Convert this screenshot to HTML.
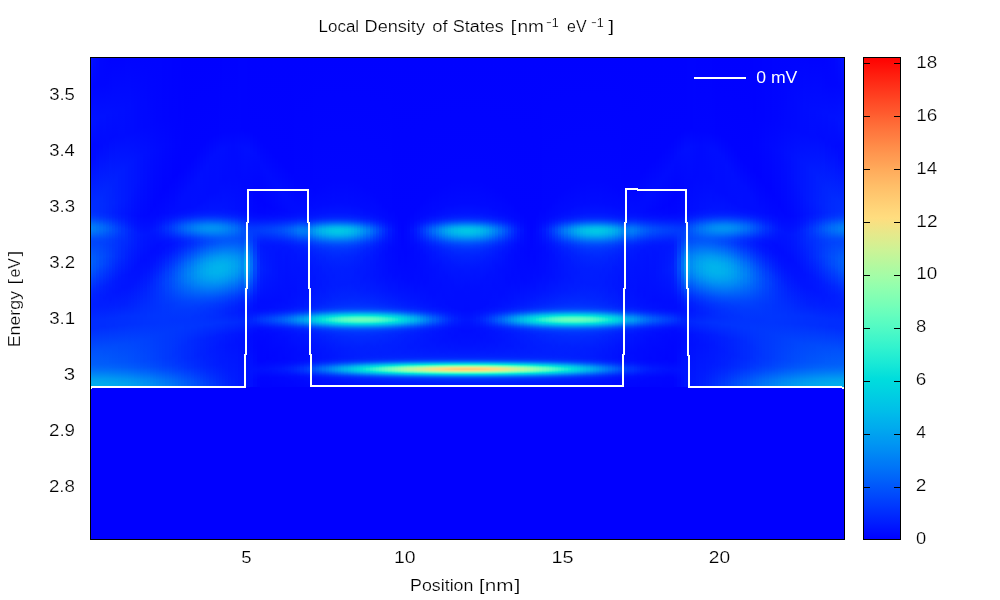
<!DOCTYPE html>
<html><head><meta charset="utf-8"><title>Local Density of States</title>
<style>
html,body{margin:0;padding:0;background:#fff;overflow:hidden}
body{width:1000px;height:600px;position:relative;overflow:hidden;font-family:"Liberation Sans",sans-serif}
#plot{position:absolute;left:90px;top:57px;width:755px;height:483px;background:#0000ff;overflow:hidden}
#heat{position:absolute;left:0;top:0px;width:755px;height:345px}
#heat i{position:absolute;top:0;height:100%;display:block}
#cb{position:absolute;left:863px;top:57px;width:38px;height:483px;background:linear-gradient(#ff0000 0.00%,#ff0d07 1.67%,#ff1b0d 3.33%,#ff2814 5.00%,#ff351b 6.67%,#ff4221 8.33%,#ff4f28 10.00%,#ff5b2e 11.67%,#ff6835 13.33%,#ff743c 15.00%,#ff7f42 16.67%,#ff8b48 18.33%,#ff964f 20.00%,#ffa055 21.67%,#ffab5b 23.33%,#ffb462 25.00%,#ffbe68 26.67%,#ffc66e 28.33%,#ffce74 30.00%,#ffd67a 31.67%,#ffdd7f 33.33%,#f2e385 35.00%,#e5e98b 36.67%,#d9ee90 38.33%,#ccf396 40.00%,#bff69b 41.67%,#b2f9a0 43.33%,#a6fca6 45.00%,#99feab 46.67%,#8cffb0 48.33%,#80ffb4 50.00%,#73ffb9 51.67%,#66febe 53.33%,#59fcc2 55.00%,#4df9c6 56.67%,#40f6ca 58.33%,#33f3ce 60.00%,#26eed2 61.67%,#1ae9d6 63.33%,#0de3d9 65.00%,#00dddd 66.67%,#00d6e0 68.33%,#00cee3 70.00%,#00c6e6 71.67%,#00bee9 73.33%,#00b4ec 75.00%,#00abee 76.67%,#00a0f0 78.33%,#0096f3 80.00%,#008bf4 81.67%,#007ff6 83.33%,#0074f8 85.00%,#0068f9 86.67%,#005bfb 88.33%,#004ffc 90.00%,#0042fd 91.67%,#0035fe 93.33%,#0028fe 95.00%,#001bff 96.67%,#000dff 98.33%,#0000ff 100.00%)}
svg{position:absolute;left:0;top:0;will-change:transform}
text{font-family:"Liberation Sans",sans-serif;font-size:16px;fill:#000;stroke:#fff;stroke-width:.2px}
</style></head><body>
<div id="plot"><div id="heat">
<i style="left:0px;width:3px;background:linear-gradient(#0010ff 0.5px,#0009ff 27.5px,#000bff 43.5px,#0013ff 63.5px,#000eff 77.5px,#000aff 90.5px,#000dff 103.5px,#0026fe 135.5px,#002cfe 145.5px,#0031fe 155.5px,#0039fd 158.5px,#0047fc 161.5px,#0071f8 167.5px,#007bf7 169.5px,#007ef7 171.5px,#007bf7 173.5px,#006df9 176.5px,#0050fc 181.5px,#0048fc 184.5px,#004afc 188.5px,#005cfb 199.5px,#005ffa 205.5px,#0058fb 212.5px,#003bfd 225.5px,#0029fe 234.5px,#0021fe 242.5px,#0021fe 251.5px,#002cfe 262.5px,#002dfe 271.5px,#003ffd 282.5px,#0054fb 296.5px,#005ffa 307.5px,#006ef9 312.5px,#009cf1 321.5px,#00a9ee 325.5px,#00aeed 329.5px,#0000ff 330.5px,#0000ff 344.5px)"></i>
<i style="left:3px;width:3px;background:linear-gradient(#000cff 0.5px,#0007ff 29.5px,#0010ff 54.5px,#0012ff 66.5px,#000aff 87.5px,#000dff 100.5px,#002cfe 144.5px,#002efe 154.5px,#0037fe 158.5px,#0044fd 161.5px,#006df9 167.5px,#0079f7 170.5px,#0079f7 172.5px,#0074f8 174.5px,#004ffc 181.5px,#0047fc 184.5px,#0048fc 188.5px,#0057fb 198.5px,#005afb 204.5px,#0052fc 212.5px,#002cfe 230.5px,#0022fe 237.5px,#001fff 247.5px,#0025fe 255.5px,#002cfe 262.5px,#002efe 271.5px,#003cfd 280.5px,#0052fc 294.5px,#005ffa 307.5px,#006ef9 312.5px,#00a0f0 322.5px,#00abee 326.5px,#00aeed 329.5px,#0000ff 330.5px,#0000ff 344.5px)"></i>
<i style="left:6px;width:3px;background:linear-gradient(#0009ff 0.5px,#0006ff 26.5px,#0011ff 61.5px,#000dff 75.5px,#000aff 89.5px,#0014ff 108.5px,#002bfe 142.5px,#002dfe 154.5px,#0034fe 158.5px,#0047fc 162.5px,#0068f9 167.5px,#0071f8 169.5px,#0074f8 172.5px,#006bf9 175.5px,#004dfc 181.5px,#0045fd 185.5px,#004cfc 192.5px,#0055fb 201.5px,#0050fc 209.5px,#0029fe 229.5px,#001fff 238.5px,#001fff 249.5px,#0029fe 258.5px,#002cfe 262.5px,#002efe 271.5px,#0050fc 292.5px,#005dfb 306.5px,#0066fa 310.5px,#0081f6 316.5px,#009bf1 321.5px,#00a9ef 325.5px,#00aded 329.5px,#0000ff 330.5px,#0000ff 344.5px)"></i>
<i style="left:9px;width:4px;background:linear-gradient(#0006ff 0.5px,#0006ff 27.5px,#0010ff 59.5px,#000cff 76.5px,#000bff 89.5px,#0018ff 111.5px,#002afe 141.5px,#002bfe 154.5px,#0031fe 158.5px,#003dfd 161.5px,#0062fa 167.5px,#006df9 170.5px,#006ef9 172.5px,#0066fa 175.5px,#004bfc 181.5px,#0043fd 185.5px,#0049fc 192.5px,#004ffc 200.5px,#004cfc 207.5px,#0037fe 219.5px,#0025fe 229.5px,#001dff 238.5px,#001eff 248.5px,#002dfe 262.5px,#002dfe 269.5px,#003cfd 279.5px,#0051fc 293.5px,#005efa 307.5px,#006df9 312.5px,#009ff1 322.5px,#00aaee 326.5px,#00adee 329.5px,#0000ff 330.5px,#0000ff 344.5px)"></i>
<i style="left:13px;width:3px;background:linear-gradient(#0005ff 0.5px,#0006ff 27.5px,#0010ff 59.5px,#000bff 84.5px,#0012ff 100.5px,#0026fe 133.5px,#0029fe 147.5px,#0029fe 155.5px,#0031fe 159.5px,#0043fd 163.5px,#005ffa 168.5px,#0066fa 170.5px,#0066fa 173.5px,#0058fb 177.5px,#0045fd 182.5px,#0041fd 187.5px,#004afc 199.5px,#0045fd 207.5px,#0021fe 229.5px,#001bff 241.5px,#0020ff 250.5px,#002dfe 262.5px,#002dfe 269.5px,#004cfc 289.5px,#005cfb 306.5px,#0065fa 310.5px,#0076f8 314.5px,#009af2 321.5px,#00a7ef 325.5px,#00acee 329.5px,#0000ff 330.5px,#0000ff 344.5px)"></i>
<i style="left:16px;width:3px;background:linear-gradient(#0004ff 0.5px,#0006ff 26.5px,#000fff 55.5px,#000cff 73.5px,#000cff 87.5px,#0024fe 130.5px,#0027fe 147.5px,#0026fe 155.5px,#0030fe 160.5px,#0058fb 168.5px,#005ffa 171.5px,#005ffa 173.5px,#004ffc 178.5px,#0042fd 182.5px,#003efd 186.5px,#0044fd 199.5px,#003ffd 207.5px,#0020fe 227.5px,#001aff 237.5px,#001fff 249.5px,#002dfe 261.5px,#002ffe 270.5px,#004dfc 290.5px,#005dfb 307.5px,#006cf9 312.5px,#0099f2 321.5px,#00a9ef 326.5px,#00abee 329.5px,#0000ff 330.5px,#0000ff 344.5px)"></i>
<i style="left:19px;width:3px;background:linear-gradient(#0003ff 0.5px,#0008ff 31.5px,#000fff 56.5px,#000bff 81.5px,#001aff 109.5px,#0024fe 133.5px,#0024fe 149.5px,#0024fe 156.5px,#002cfe 160.5px,#0047fc 166.5px,#0056fb 170.5px,#0057fb 173.5px,#004afc 178.5px,#003efd 182.5px,#003bfd 188.5px,#003ffd 198.5px,#0037fe 208.5px,#0020ff 224.5px,#001aff 232.5px,#001aff 242.5px,#0024fe 253.5px,#002dfe 260.5px,#002ffe 269.5px,#003efd 279.5px,#004ffc 292.5px,#0059fb 305.5px,#0064fa 310.5px,#0079f7 315.5px,#0098f2 321.5px,#00a5ef 325.5px,#00aaee 329.5px,#0000ff 330.5px,#0000ff 344.5px)"></i>
<i style="left:22px;width:3px;background:linear-gradient(#0003ff 0.5px,#0009ff 32.5px,#000eff 54.5px,#000bff 79.5px,#0020fe 123.5px,#0023fe 145.5px,#0020fe 155.5px,#0025fe 159.5px,#0032fe 163.5px,#004bfc 169.5px,#004ffc 172.5px,#004cfc 175.5px,#003bfd 182.5px,#0037fd 187.5px,#0039fd 199.5px,#002efe 210.5px,#001cff 224.5px,#0018ff 235.5px,#001eff 247.5px,#002efe 261.5px,#002efe 268.5px,#004cfc 289.5px,#0058fb 305.5px,#0063fa 310.5px,#0078f7 315.5px,#0097f2 321.5px,#00a4f0 325.5px,#00a9ee 329.5px,#0000ff 330.5px,#0000ff 344.5px)"></i>
<i style="left:25px;width:3px;background:linear-gradient(#0003ff 0.5px,#0009ff 31.5px,#000eff 56.5px,#000bff 77.5px,#001fff 121.5px,#0020ff 146.5px,#001dff 155.5px,#0023fe 160.5px,#0038fd 166.5px,#0046fd 171.5px,#0046fd 174.5px,#0035fe 183.5px,#0032fe 200.5px,#0022fe 215.5px,#0019ff 224.5px,#0017ff 235.5px,#0020ff 248.5px,#002efe 260.5px,#0030fe 269.5px,#004cfc 289.5px,#0057fb 305.5px,#0062fa 310.5px,#0077f8 315.5px,#009af2 322.5px,#00a5ef 326.5px,#00a7ef 329.5px,#0000ff 330.5px,#0000ff 344.5px)"></i>
<i style="left:28px;width:3px;background:linear-gradient(#0003ff 0.5px,#000dff 51.5px,#000cff 80.5px,#001cff 114.5px,#001eff 141.5px,#001aff 156.5px,#0021fe 161.5px,#003cfd 170.5px,#003efd 174.5px,#0031fe 183.5px,#002dfe 199.5px,#0018ff 221.5px,#0016ff 233.5px,#0021fe 249.5px,#002efe 259.5px,#0030fe 268.5px,#0049fc 287.5px,#0056fb 305.5px,#0061fa 310.5px,#0076f8 315.5px,#0094f3 321.5px,#00a1f0 325.5px,#00a6ef 329.5px,#0000ff 330.5px,#0000ff 344.5px)"></i>
<i style="left:31px;width:4px;background:linear-gradient(#0003ff 0.5px,#000dff 52.5px,#000cff 79.5px,#001bff 113.5px,#001bff 144.5px,#0017ff 156.5px,#001bff 160.5px,#0035fe 171.5px,#0035fe 176.5px,#002cfe 185.5px,#0027fe 200.5px,#0017ff 218.5px,#0015ff 230.5px,#0020fe 247.5px,#002ffe 259.5px,#0030fe 268.5px,#0049fc 287.5px,#0055fb 305.5px,#005ffa 310.5px,#0074f8 315.5px,#0092f3 321.5px,#00a2f0 326.5px,#00a4f0 329.5px,#0000ff 330.5px,#0000ff 344.5px)"></i>
<i style="left:35px;width:3px;background:linear-gradient(#0004ff 0.5px,#000cff 50.5px,#000bff 75.5px,#0019ff 110.5px,#0019ff 141.5px,#0014ff 156.5px,#001aff 162.5px,#002efe 172.5px,#002efe 177.5px,#0027fe 189.5px,#001fff 203.5px,#0015ff 217.5px,#0015ff 230.5px,#0021fe 247.5px,#002ffe 258.5px,#0030fe 267.5px,#0048fc 286.5px,#0054fb 305.5px,#005efa 310.5px,#0073f8 315.5px,#0095f3 322.5px,#00a0f1 326.5px,#00a2f0 329.5px,#0000ff 330.5px,#0000ff 344.5px)"></i>
<i style="left:38px;width:3px;background:linear-gradient(#0004ff 0.5px,#000cff 48.5px,#000bff 75.5px,#0017ff 106.5px,#0017ff 138.5px,#0012ff 157.5px,#0017ff 163.5px,#0028fe 173.5px,#0026fe 182.5px,#001cff 201.5px,#0013ff 217.5px,#0015ff 229.5px,#0024fe 248.5px,#0030fe 259.5px,#0030fe 266.5px,#0049fc 288.5px,#0051fc 304.5px,#005cfb 310.5px,#0071f8 315.5px,#0093f3 322.5px,#009ef1 326.5px,#00a0f0 329.5px,#0000ff 330.5px,#0000ff 344.5px)"></i>
<i style="left:41px;width:3px;background:linear-gradient(#0004ff 0.5px,#000bff 49.5px,#000bff 75.5px,#0016ff 105.5px,#0015ff 133.5px,#000fff 158.5px,#0017ff 166.5px,#0022fe 173.5px,#0022fe 182.5px,#0012ff 214.5px,#0015ff 227.5px,#0027fe 250.5px,#0031fe 259.5px,#0031fe 267.5px,#0046fd 285.5px,#0051fc 305.5px,#005bfb 310.5px,#006ff9 315.5px,#008df4 321.5px,#009bf1 326.5px,#009ef1 329.5px,#0000ff 330.5px,#0000ff 344.5px)"></i>
<i style="left:44px;width:3px;background:linear-gradient(#0004ff 0.5px,#000aff 46.5px,#000aff 73.5px,#0014ff 102.5px,#0014ff 125.5px,#000dff 158.5px,#0014ff 167.5px,#001eff 175.5px,#001dff 186.5px,#0011ff 210.5px,#0014ff 223.5px,#0027fe 248.5px,#0031fe 258.5px,#0031fe 266.5px,#0046fd 286.5px,#004efc 304.5px,#0059fb 310.5px,#006df9 315.5px,#008ef4 322.5px,#0099f2 326.5px,#009cf1 329.5px,#0000ff 330.5px,#0000ff 344.5px)"></i>
<i style="left:47px;width:3px;background:linear-gradient(#0004ff 0.5px,#0009ff 42.5px,#0009ff 70.5px,#0012ff 99.5px,#0012ff 123.5px,#000bff 159.5px,#0012ff 168.5px,#001bff 177.5px,#0017ff 191.5px,#0010ff 206.5px,#0013ff 219.5px,#002cfe 252.5px,#0032fe 259.5px,#0032fe 267.5px,#0044fd 284.5px,#004dfc 304.5px,#0057fb 310.5px,#006bf9 315.5px,#008cf4 322.5px,#0098f2 327.5px,#0099f2 329.5px,#0000ff 330.5px,#0000ff 344.5px)"></i>
<i style="left:50px;width:3px;background:linear-gradient(#0004ff 0.5px,#0008ff 40.5px,#0009ff 71.5px,#0011ff 100.5px,#000fff 126.5px,#0009ff 158.5px,#0010ff 168.5px,#0018ff 177.5px,#0016ff 187.5px,#000fff 203.5px,#0013ff 216.5px,#002efe 252.5px,#0032fe 258.5px,#0032fe 266.5px,#0042fd 282.5px,#004bfc 304.5px,#0053fc 309.5px,#0064fa 314.5px,#0089f5 322.5px,#0094f3 326.5px,#0096f2 329.5px,#0000ff 330.5px,#0000ff 344.5px)"></i>
<i style="left:53px;width:4px;background:linear-gradient(#0004ff 0.5px,#0008ff 46.5px,#0008ff 69.5px,#000fff 95.5px,#000dff 125.5px,#0008ff 158.5px,#000fff 168.5px,#0016ff 177.5px,#0013ff 188.5px,#000eff 202.5px,#0014ff 214.5px,#0025fe 236.5px,#0030fe 253.5px,#0033fe 260.5px,#0033fe 266.5px,#0041fd 282.5px,#0049fc 304.5px,#0054fb 310.5px,#0067fa 315.5px,#008af5 323.5px,#0093f3 328.5px,#0093f3 329.5px,#0000ff 330.5px,#0000ff 344.5px)"></i>
<i style="left:57px;width:3px;background:linear-gradient(#0004ff 0.5px,#0007ff 49.5px,#0008ff 70.5px,#000eff 96.5px,#0009ff 136.5px,#0007ff 157.5px,#0010ff 169.5px,#0015ff 176.5px,#0012ff 185.5px,#000eff 198.5px,#0012ff 209.5px,#0026fe 231.5px,#0031fe 253.5px,#0034fe 258.5px,#0033fe 266.5px,#0040fd 281.5px,#0046fd 302.5px,#004ffc 309.5px,#0064fa 315.5px,#0080f6 321.5px,#008ef4 326.5px,#0090f4 329.5px,#0000ff 330.5px,#0000ff 344.5px)"></i>
<i style="left:60px;width:3px;background:linear-gradient(#0004ff 0.5px,#0007ff 68.5px,#000cff 93.5px,#000aff 120.5px,#0006ff 153.5px,#000cff 164.5px,#0016ff 174.5px,#000dff 195.5px,#0013ff 207.5px,#0029fe 229.5px,#0031fe 251.5px,#0034fe 259.5px,#0034fe 266.5px,#003ffd 281.5px,#0044fd 302.5px,#004dfc 309.5px,#005dfb 314.5px,#007df7 321.5px,#008bf5 326.5px,#008df4 329.5px,#0000ff 330.5px,#0000ff 344.5px)"></i>
<i style="left:63px;width:3px;background:linear-gradient(#0004ff 0.5px,#0006ff 66.5px,#000bff 92.5px,#0005ff 147.5px,#000aff 160.5px,#0018ff 173.5px,#0011ff 183.5px,#000dff 193.5px,#0012ff 203.5px,#002afe 223.5px,#002ffe 235.5px,#0032fe 251.5px,#0035fe 258.5px,#0034fe 266.5px,#003dfd 279.5px,#0042fd 302.5px,#004bfc 309.5px,#005bfb 314.5px,#007df7 322.5px,#0089f5 327.5px,#008af5 329.5px,#0000ff 330.5px,#0000ff 344.5px)"></i>
<i style="left:66px;width:3px;background:linear-gradient(#0004ff 0.5px,#0005ff 62.5px,#000aff 93.5px,#0005ff 140.5px,#0008ff 157.5px,#0013ff 165.5px,#001cff 172.5px,#0016ff 179.5px,#000dff 188.5px,#000fff 196.5px,#001cff 208.5px,#002ffe 222.5px,#0033fe 231.5px,#0033fe 250.5px,#0035fe 259.5px,#0034fe 265.5px,#003cfd 278.5px,#0040fd 302.5px,#0049fc 309.5px,#0058fb 314.5px,#007df7 323.5px,#0086f5 328.5px,#0086f5 329.5px,#0000ff 330.5px,#0000ff 344.5px)"></i>
<i style="left:69px;width:3px;background:linear-gradient(#0004ff 0.5px,#0005ff 65.5px,#0009ff 91.5px,#0004ff 138.5px,#0009ff 156.5px,#0010ff 162.5px,#0020fe 170.5px,#0020fe 174.5px,#000eff 186.5px,#0010ff 195.5px,#0020fe 207.5px,#0033fe 219.5px,#0038fd 227.5px,#0037fe 238.5px,#0034fe 249.5px,#0035fe 260.5px,#0035fe 266.5px,#003bfd 278.5px,#003dfd 300.5px,#0045fd 308.5px,#004efc 312.5px,#0076f8 322.5px,#0081f6 327.5px,#0083f6 329.5px,#0000ff 330.5px,#0000ff 344.5px)"></i>
<i style="left:72px;width:3px;background:linear-gradient(#0003ff 0.5px,#0004ff 61.5px,#0008ff 88.5px,#0003ff 131.5px,#0009ff 155.5px,#0011ff 161.5px,#0026fe 169.5px,#0027fe 173.5px,#0011ff 184.5px,#000fff 191.5px,#001aff 200.5px,#0038fd 217.5px,#003ffd 226.5px,#0039fd 240.5px,#0036fe 250.5px,#0035fe 266.5px,#003afd 276.5px,#003bfd 301.5px,#0042fd 308.5px,#004ffc 313.5px,#0073f8 322.5px,#007ef7 327.5px,#007ff6 329.5px,#0000ff 330.5px,#0000ff 344.5px)"></i>
<i style="left:75px;width:4px;background:linear-gradient(#0003ff 0.5px,#0004ff 63.5px,#0007ff 87.5px,#0003ff 130.5px,#000bff 156.5px,#0015ff 161.5px,#002dfe 169.5px,#0030fe 171.5px,#002afe 175.5px,#0014ff 183.5px,#0010ff 188.5px,#0018ff 196.5px,#003efd 215.5px,#0045fd 223.5px,#0044fd 231.5px,#0037fd 248.5px,#0035fe 260.5px,#0035fe 265.5px,#0039fd 274.5px,#0039fd 301.5px,#0040fd 308.5px,#004dfc 313.5px,#0072f8 323.5px,#007bf7 328.5px,#007bf7 329.5px,#0000ff 330.5px,#0000ff 344.5px)"></i>
<i style="left:79px;width:3px;background:linear-gradient(#0003ff 0.5px,#0003ff 58.5px,#0006ff 87.5px,#0003ff 125.5px,#000cff 155.5px,#0015ff 160.5px,#0036fe 169.5px,#0038fd 172.5px,#002efe 176.5px,#0018ff 182.5px,#0012ff 187.5px,#0019ff 194.5px,#0042fd 212.5px,#004dfc 221.5px,#004bfc 229.5px,#0039fd 247.5px,#0034fe 263.5px,#0038fd 272.5px,#0037fd 301.5px,#003efd 308.5px,#004dfc 314.5px,#006bf9 322.5px,#0076f8 327.5px,#0077f8 329.5px,#0000ff 330.5px,#0000ff 344.5px)"></i>
<i style="left:82px;width:3px;background:linear-gradient(#0002ff 0.5px,#0003ff 60.5px,#0005ff 88.5px,#0002ff 119.5px,#000aff 148.5px,#000eff 156.5px,#0018ff 160.5px,#003cfd 168.5px,#0041fd 170.5px,#003ffd 173.5px,#0030fe 177.5px,#001cff 182.5px,#0015ff 186.5px,#001aff 192.5px,#0038fd 204.5px,#004ffc 214.5px,#0055fb 221.5px,#0052fc 229.5px,#003bfd 246.5px,#0034fe 263.5px,#0038fd 272.5px,#0034fe 298.5px,#003bfd 308.5px,#004afc 314.5px,#0067f9 322.5px,#0072f8 327.5px,#0073f8 329.5px,#0000ff 330.5px,#0000ff 344.5px)"></i>
<i style="left:85px;width:3px;background:linear-gradient(#0002ff 0.5px,#0003ff 61.5px,#0004ff 90.5px,#0002ff 117.5px,#000bff 144.5px,#000dff 154.5px,#0014ff 158.5px,#0025fe 162.5px,#0041fd 167.5px,#004afc 170.5px,#004afc 172.5px,#0041fd 175.5px,#0023fe 181.5px,#0019ff 185.5px,#001aff 189.5px,#0029fe 196.5px,#0051fc 210.5px,#005bfb 216.5px,#005efa 222.5px,#0057fb 230.5px,#003efd 245.5px,#0038fd 254.5px,#0034fe 263.5px,#0037fd 271.5px,#0032fe 295.5px,#0036fe 306.5px,#0044fd 313.5px,#0066fa 323.5px,#006ef9 328.5px,#006ef9 329.5px,#0000ff 330.5px,#0000ff 344.5px)"></i>
<i style="left:88px;width:3px;background:linear-gradient(#0002ff 0.5px,#0002ff 54.5px,#0004ff 84.5px,#0002ff 113.5px,#000cff 142.5px,#000dff 153.5px,#0014ff 157.5px,#001fff 160.5px,#0049fc 167.5px,#0052fc 169.5px,#0055fb 171.5px,#004efc 174.5px,#0027fe 181.5px,#001eff 184.5px,#001eff 188.5px,#0028fe 193.5px,#0059fb 209.5px,#0064fa 215.5px,#0067fa 221.5px,#005ffa 229.5px,#0041fd 244.5px,#0039fd 252.5px,#0034fe 263.5px,#0037fe 271.5px,#0030fe 291.5px,#0032fe 304.5px,#003cfd 311.5px,#0052fc 318.5px,#0064fa 324.5px,#006af9 329.5px,#0000ff 330.5px,#0000ff 344.5px)"></i>
<i style="left:91px;width:3px;background:linear-gradient(#0001ff 0.5px,#0003ff 65.5px,#0003ff 114.5px,#000dff 140.5px,#000dff 152.5px,#0013ff 156.5px,#0022fe 160.5px,#0052fc 167.5px,#005bfb 169.5px,#005efa 171.5px,#005afb 173.5px,#004bfc 176.5px,#002cfe 181.5px,#0021fe 185.5px,#0024fe 189.5px,#0038fd 196.5px,#005bfb 206.5px,#006af9 212.5px,#0070f8 218.5px,#006df9 224.5px,#0060fa 231.5px,#0043fd 244.5px,#0039fd 252.5px,#0034fe 263.5px,#0037fe 270.5px,#002efe 288.5px,#002efe 300.5px,#0036fe 309.5px,#0045fd 315.5px,#0060fa 324.5px,#0065fa 329.5px,#0000ff 330.5px,#0000ff 344.5px)"></i>
<i style="left:94px;width:3px;background:linear-gradient(#0001ff 0.5px,#0003ff 110.5px,#000dff 136.5px,#000dff 151.5px,#0014ff 156.5px,#0020fe 159.5px,#003bfd 163.5px,#005afb 167.5px,#0064fa 169.5px,#0067f9 171.5px,#0063fa 173.5px,#0053fc 176.5px,#0031fe 181.5px,#0027fe 184.5px,#0026fe 187.5px,#0032fe 192.5px,#0066fa 206.5px,#0075f8 212.5px,#0079f7 218.5px,#0075f8 224.5px,#0063fa 232.5px,#0044fd 244.5px,#0039fd 252.5px,#0034fe 262.5px,#0035fe 271.5px,#002cfe 289.5px,#002cfe 301.5px,#0035fe 310.5px,#0044fd 316.5px,#0059fb 323.5px,#0061fa 328.5px,#0061fa 329.5px,#0000ff 330.5px,#0000ff 344.5px)"></i>
<i style="left:97px;width:4px;background:linear-gradient(#0001ff 0.5px,#0003ff 106.5px,#000dff 131.5px,#000dff 150.5px,#0013ff 155.5px,#001eff 158.5px,#0030fe 161.5px,#0062fa 167.5px,#006cf9 169.5px,#0070f8 171.5px,#006cf9 173.5px,#005afb 176.5px,#003cfd 180.5px,#002efe 183.5px,#002bfe 186.5px,#0030fe 189.5px,#0045fd 195.5px,#006df9 205.5px,#007df7 211.5px,#0083f6 217.5px,#007cf7 224.5px,#0067f9 232.5px,#0045fd 244.5px,#0039fd 252.5px,#0034fe 262.5px,#0035fe 271.5px,#002bfe 284.5px,#002afe 301.5px,#0032fe 310.5px,#0047fc 318.5px,#0057fb 324.5px,#005cfb 329.5px,#0000ff 330.5px,#0000ff 344.5px)"></i>
<i style="left:101px;width:3px;background:linear-gradient(#0001ff 0.5px,#0003ff 101.5px,#000dff 128.5px,#000eff 150.5px,#0012ff 154.5px,#0020fe 158.5px,#002cfe 160.5px,#004ffc 164.5px,#0069f9 167.5px,#0074f8 169.5px,#0078f7 171.5px,#0074f8 173.5px,#0061fa 176.5px,#0042fd 180.5px,#0033fe 183.5px,#0030fe 186.5px,#0039fd 190.5px,#0074f8 204.5px,#0085f5 210.5px,#008bf4 216.5px,#0088f5 221.5px,#0078f7 228.5px,#0048fc 243.5px,#003bfd 250.5px,#0033fe 260.5px,#0035fe 269.5px,#0029fe 284.5px,#0028fe 301.5px,#0030fe 310.5px,#003efd 316.5px,#0053fc 324.5px,#0057fb 329.5px,#0000ff 330.5px,#0000ff 344.5px)"></i>
<i style="left:104px;width:3px;background:linear-gradient(#0001ff 0.5px,#0003ff 97.5px,#000dff 123.5px,#000eff 149.5px,#0012ff 153.5px,#001dff 157.5px,#002ffe 160.5px,#0053fb 164.5px,#006ff9 167.5px,#007bf7 169.5px,#007ff6 171.5px,#007bf7 173.5px,#0067f9 176.5px,#0047fc 180.5px,#003cfd 182.5px,#0036fe 185.5px,#0037fd 187.5px,#0048fc 192.5px,#007ef7 204.5px,#008ef4 210.5px,#0093f3 215.5px,#008ff4 221.5px,#007df7 228.5px,#004cfc 242.5px,#003dfd 248.5px,#0033fe 258.5px,#0034fe 270.5px,#0028fe 282.5px,#0025fe 298.5px,#002cfe 309.5px,#0038fd 315.5px,#0050fc 325.5px,#0053fc 329.5px,#0000ff 330.5px,#0000ff 344.5px)"></i>
<i style="left:107px;width:3px;background:linear-gradient(#0001ff 0.5px,#0003ff 92.5px,#000eff 122.5px,#000dff 146.5px,#0013ff 153.5px,#001bff 156.5px,#002afe 159.5px,#0043fd 162.5px,#0074f8 167.5px,#0081f6 169.5px,#0085f5 171.5px,#0081f6 173.5px,#006df9 176.5px,#004cfc 180.5px,#0041fd 182.5px,#003bfd 185.5px,#0040fd 188.5px,#0059fb 194.5px,#007ff6 202.5px,#0093f3 208.5px,#009bf2 214.5px,#0098f2 219.5px,#008bf5 225.5px,#005efa 237.5px,#0046fd 244.5px,#0038fd 251.5px,#0032fe 260.5px,#0034fe 268.5px,#0026fe 282.5px,#0023fe 298.5px,#002afe 309.5px,#0037fd 316.5px,#004afc 324.5px,#004efc 329.5px,#0000ff 330.5px,#0000ff 344.5px)"></i>
<i style="left:110px;width:3px;background:linear-gradient(#0001ff 0.5px,#0003ff 88.5px,#000eff 117.5px,#000dff 144.5px,#0012ff 152.5px,#001cff 156.5px,#0025fe 158.5px,#003cfd 161.5px,#0078f7 167.5px,#0085f5 169.5px,#008af5 171.5px,#0085f5 173.5px,#007af7 175.5px,#0051fc 180.5px,#0046fd 182.5px,#0040fd 185.5px,#0046fd 188.5px,#0061fa 194.5px,#0088f5 202.5px,#009bf2 208.5px,#00a2f0 214.5px,#009cf1 220.5px,#0088f5 227.5px,#004cfc 242.5px,#003afd 249.5px,#0031fe 258.5px,#0034fe 268.5px,#0024fe 282.5px,#0021fe 297.5px,#0027fe 308.5px,#0030fe 314.5px,#0047fd 325.5px,#0049fc 329.5px,#0000ff 330.5px,#0000ff 344.5px)"></i>
<i style="left:113px;width:3px;background:linear-gradient(#0001ff 0.5px,#0003ff 85.5px,#000dff 110.5px,#000dff 142.5px,#0013ff 152.5px,#001dff 156.5px,#0026fe 158.5px,#0047fc 162.5px,#007cf7 167.5px,#0089f5 169.5px,#008ef4 171.5px,#0089f5 173.5px,#0076f8 176.5px,#0055fb 180.5px,#0047fc 183.5px,#0047fc 186.5px,#0054fb 190.5px,#008bf4 201.5px,#009df1 206.5px,#00a6ef 211.5px,#00a6ef 216.5px,#009ef1 221.5px,#0087f5 228.5px,#0053fb 240.5px,#003dfd 247.5px,#0032fe 255.5px,#0031fe 262.5px,#0033fe 267.5px,#002bfe 274.5px,#0022fe 283.5px,#0020fe 300.5px,#0027fe 310.5px,#0037fd 319.5px,#0043fd 326.5px,#0045fd 329.5px,#0000ff 330.5px,#0000ff 344.5px)"></i>
<i style="left:116px;width:3px;background:linear-gradient(#0001ff 0.5px,#0003ff 82.5px,#000eff 108.5px,#000cff 137.5px,#0012ff 151.5px,#001aff 155.5px,#0027fe 158.5px,#003ffd 161.5px,#0074f8 166.5px,#0085f5 168.5px,#008ff4 170.5px,#008ff4 172.5px,#0087f5 174.5px,#0059fb 180.5px,#004ffc 182.5px,#004afc 184.5px,#004efc 187.5px,#0064fa 192.5px,#0092f3 201.5px,#00a3f0 206.5px,#00acee 212.5px,#00a9ee 217.5px,#009ef1 222.5px,#0084f6 229.5px,#0053fc 240.5px,#0041fd 245.5px,#0035fe 251.5px,#002ffe 259.5px,#0033fe 267.5px,#0021fe 281.5px,#001eff 295.5px,#0022fe 307.5px,#002afe 314.5px,#003efd 325.5px,#0040fd 329.5px,#0000ff 330.5px,#0000ff 344.5px)"></i>
<i style="left:119px;width:4px;background:linear-gradient(#0001ff 0.5px,#0003ff 79.5px,#000dff 101.5px,#000cff 122.5px,#000cff 136.5px,#0014ff 152.5px,#001eff 156.5px,#0027fe 158.5px,#003ffd 161.5px,#007ef7 167.5px,#008cf4 169.5px,#0091f3 171.5px,#008df4 173.5px,#007bf7 176.5px,#005cfb 180.5px,#0052fc 182.5px,#004efc 184.5px,#0053fb 187.5px,#006ff9 193.5px,#0093f3 200.5px,#00a8ef 206.5px,#00afed 211.5px,#00aeed 216.5px,#00a0f0 222.5px,#0080f6 230.5px,#0052fc 240.5px,#003dfd 246.5px,#0032fe 252.5px,#002efe 259.5px,#0032fe 267.5px,#0020fe 280.5px,#001cff 294.5px,#0021fe 308.5px,#002bfe 316.5px,#003afd 326.5px,#003bfd 329.5px,#0000ff 330.5px,#0000ff 344.5px)"></i>
<i style="left:123px;width:3px;background:linear-gradient(#0001ff 0.5px,#0003ff 77.5px,#000dff 97.5px,#000cff 117.5px,#000cff 135.5px,#0014ff 152.5px,#001eff 156.5px,#0027fe 158.5px,#0048fc 162.5px,#007df7 167.5px,#008bf5 169.5px,#0090f4 171.5px,#008df4 173.5px,#007bf7 176.5px,#005efa 180.5px,#0055fb 182.5px,#0052fc 184.5px,#0057fb 187.5px,#006ff9 192.5px,#0098f2 200.5px,#00a9ee 205.5px,#00b1ed 209.5px,#00b1ed 215.5px,#00a7ef 220.5px,#0096f3 225.5px,#004cfc 241.5px,#0039fd 247.5px,#002ffe 253.5px,#002dfe 260.5px,#0031fe 266.5px,#002dfe 270.5px,#001eff 280.5px,#001bff 292.5px,#001eff 307.5px,#0028fe 316.5px,#0036fe 326.5px,#0037fd 329.5px,#0000ff 330.5px,#0000ff 344.5px)"></i>
<i style="left:126px;width:3px;background:linear-gradient(#0001ff 0.5px,#0003ff 76.5px,#000dff 94.5px,#000cff 134.5px,#0014ff 152.5px,#001dff 156.5px,#002dfe 159.5px,#0047fc 162.5px,#007bf7 167.5px,#0089f5 169.5px,#008ef4 171.5px,#008bf4 173.5px,#007bf7 176.5px,#005ffa 180.5px,#0055fb 183.5px,#0058fb 186.5px,#0068f9 190.5px,#009bf1 200.5px,#00acee 205.5px,#00b3ec 210.5px,#00b0ed 216.5px,#00a4f0 221.5px,#0087f5 228.5px,#004efc 240.5px,#0039fd 246.5px,#002dfe 253.5px,#002cfe 260.5px,#0031fe 265.5px,#002afe 271.5px,#001eff 278.5px,#0019ff 290.5px,#001dff 308.5px,#0028fe 318.5px,#0032fe 327.5px,#0033fe 329.5px,#0000ff 330.5px,#0000ff 344.5px)"></i>
<i style="left:129px;width:3px;background:linear-gradient(#0001ff 0.5px,#0004ff 76.5px,#000dff 92.5px,#000bff 123.5px,#000fff 143.5px,#0015ff 153.5px,#0021fe 157.5px,#0033fe 160.5px,#0064fa 165.5px,#0078f7 167.5px,#0085f5 169.5px,#008bf5 171.5px,#0088f5 173.5px,#0079f7 176.5px,#0060fa 180.5px,#0057fb 183.5px,#0058fb 185.5px,#006bf9 190.5px,#0099f2 199.5px,#00aaee 204.5px,#00b3ec 209.5px,#00b2ec 214.5px,#00a8ef 219.5px,#0093f3 225.5px,#004bfc 240.5px,#0034fe 247.5px,#002afe 254.5px,#002bfe 260.5px,#0030fe 265.5px,#002cfe 269.5px,#001eff 277.5px,#0018ff 286.5px,#001aff 304.5px,#0021fe 314.5px,#002efe 327.5px,#002efe 329.5px,#0000ff 330.5px,#0000ff 344.5px)"></i>
<i style="left:132px;width:3px;background:linear-gradient(#0002ff 0.5px,#0004ff 75.5px,#000dff 91.5px,#000aff 121.5px,#0012ff 150.5px,#0019ff 155.5px,#002afe 159.5px,#0042fd 162.5px,#0073f8 167.5px,#0080f6 169.5px,#0086f5 171.5px,#0084f6 173.5px,#007cf7 175.5px,#0060fa 180.5px,#0058fb 183.5px,#005dfb 186.5px,#006df9 190.5px,#0096f3 198.5px,#00a8ef 203.5px,#00b1ec 208.5px,#00b1ec 213.5px,#00a9ef 218.5px,#0094f3 224.5px,#0048fc 240.5px,#0032fe 247.5px,#0029fe 253.5px,#0028fe 258.5px,#002ffe 265.5px,#0029fe 270.5px,#001cff 277.5px,#0017ff 287.5px,#001aff 307.5px,#0022fe 318.5px,#002afe 327.5px,#002afe 329.5px,#0000ff 330.5px,#0000ff 344.5px)"></i>
<i style="left:135px;width:3px;background:linear-gradient(#0002ff 0.5px,#0004ff 74.5px,#000cff 90.5px,#000aff 122.5px,#0012ff 151.5px,#0018ff 155.5px,#0023fe 158.5px,#002ffe 160.5px,#0052fc 164.5px,#006ef9 167.5px,#007bf7 169.5px,#0081f6 171.5px,#007ff6 173.5px,#0073f8 176.5px,#005bfb 181.5px,#0059fb 184.5px,#0065fa 188.5px,#0095f3 198.5px,#00a4f0 202.5px,#00aeed 207.5px,#00afed 212.5px,#00a7ef 217.5px,#0094f3 223.5px,#0049fc 239.5px,#0034fe 245.5px,#0028fe 251.5px,#0025fe 256.5px,#002efe 265.5px,#0025fe 271.5px,#0018ff 279.5px,#0015ff 290.5px,#001cff 313.5px,#0026fe 327.5px,#0027fe 329.5px,#0000ff 330.5px,#0000ff 344.5px)"></i>
<i style="left:138px;width:3px;background:linear-gradient(#0002ff 0.5px,#0004ff 74.5px,#000bff 88.5px,#000aff 120.5px,#0011ff 151.5px,#0019ff 156.5px,#002cfe 160.5px,#004dfc 164.5px,#006ef9 168.5px,#0078f7 170.5px,#007af7 172.5px,#0073f8 175.5px,#005dfb 180.5px,#0058fb 183.5px,#0061fa 187.5px,#0098f2 199.5px,#00a8ef 205.5px,#00acee 210.5px,#00a5ef 216.5px,#0096f2 221.5px,#0073f8 229.5px,#0049fc 238.5px,#0033fe 244.5px,#0027fe 250.5px,#0023fe 256.5px,#002cfe 265.5px,#0027fe 269.5px,#0019ff 277.5px,#0014ff 287.5px,#001aff 313.5px,#0023fe 328.5px,#0023fe 329.5px,#0000ff 330.5px,#0000ff 344.5px)"></i>
<i style="left:141px;width:4px;background:linear-gradient(#0002ff 0.5px,#0004ff 74.5px,#000aff 88.5px,#000aff 124.5px,#0011ff 152.5px,#0018ff 156.5px,#0023fe 159.5px,#0037fe 162.5px,#0060fa 167.5px,#0070f8 170.5px,#0073f8 172.5px,#006df9 175.5px,#005afb 180.5px,#0057fb 183.5px,#005dfb 186.5px,#0077f8 192.5px,#0094f3 199.5px,#00a2f0 204.5px,#00a6ef 209.5px,#00a2f0 214.5px,#0099f2 218.5px,#0088f5 223.5px,#0040fd 239.5px,#002dfe 245.5px,#0024fe 250.5px,#0021fe 256.5px,#002bfe 265.5px,#0024fe 270.5px,#0017ff 277.5px,#0013ff 288.5px,#001bff 317.5px,#0020ff 329.5px,#0000ff 330.5px,#0000ff 344.5px)"></i>
<i style="left:145px;width:3px;background:linear-gradient(#0002ff 0.5px,#0004ff 73.5px,#000bff 88.5px,#0009ff 116.5px,#000fff 151.5px,#0016ff 156.5px,#0025fe 160.5px,#0041fd 164.5px,#005efa 168.5px,#0067fa 170.5px,#006af9 173.5px,#005cfb 178.5px,#0055fb 181.5px,#0057fb 184.5px,#0067fa 189.5px,#0090f4 199.5px,#009cf1 204.5px,#00a0f1 209.5px,#009bf1 214.5px,#008ff4 219.5px,#006ff9 227.5px,#0043fd 237.5px,#002efe 243.5px,#0022fe 249.5px,#001fff 255.5px,#0026fe 261.5px,#002afe 265.5px,#0020ff 271.5px,#0017ff 276.5px,#0012ff 284.5px,#001bff 322.5px,#001dff 329.5px,#0000ff 330.5px,#0000ff 344.5px)"></i>
<i style="left:148px;width:3px;background:linear-gradient(#0003ff 0.5px,#0004ff 73.5px,#000cff 89.5px,#0009ff 119.5px,#000fff 153.5px,#0019ff 158.5px,#002dfe 162.5px,#0055fb 168.5px,#0060fa 171.5px,#0060fa 174.5px,#0052fc 181.5px,#0056fb 185.5px,#006cf9 191.5px,#0087f5 198.5px,#0095f3 204.5px,#0098f2 209.5px,#0090f4 215.5px,#0082f6 220.5px,#005afb 230.5px,#0036fe 239.5px,#0023fe 246.5px,#001cff 253.5px,#001fff 258.5px,#0028fe 264.5px,#0024fe 268.5px,#0014ff 277.5px,#0011ff 287.5px,#001aff 329.5px,#0000ff 330.5px,#0000ff 344.5px)"></i>
<i style="left:151px;width:3px;background:linear-gradient(#0003ff 0.5px,#0003ff 71.5px,#000dff 89.5px,#0009ff 125.5px,#000eff 153.5px,#0014ff 157.5px,#0023fe 161.5px,#004cfc 168.5px,#0056fb 171.5px,#0058fb 173.5px,#004efc 181.5px,#0053fb 185.5px,#0080f6 198.5px,#008cf4 204.5px,#008ef4 210.5px,#0086f5 215.5px,#0079f7 220.5px,#0034fe 238.5px,#0021fe 245.5px,#0019ff 253.5px,#001fff 259.5px,#0027fe 264.5px,#0022fe 268.5px,#0012ff 277.5px,#0010ff 287.5px,#0016ff 313.5px,#0018ff 329.5px,#0000ff 330.5px,#0000ff 344.5px)"></i>
<i style="left:154px;width:3px;background:linear-gradient(#0003ff 0.5px,#0003ff 72.5px,#000eff 91.5px,#0009ff 124.5px,#000cff 152.5px,#0015ff 158.5px,#0024fe 162.5px,#004bfc 169.5px,#0055fb 173.5px,#0057fb 181.5px,#0062fa 185.5px,#0096f3 197.5px,#00a4f0 202.5px,#00abee 207.5px,#00a7ef 213.5px,#0097f2 219.5px,#0074f8 227.5px,#003ffd 238.5px,#002afe 244.5px,#0020fe 248.5px,#001bff 253.5px,#001cff 257.5px,#0026fe 263.5px,#0023fe 267.5px,#0013ff 275.5px,#000fff 283.5px,#0015ff 310.5px,#0016ff 329.5px,#0000ff 330.5px,#0000ff 344.5px)"></i>
<i style="left:157px;width:3px;background:linear-gradient(#0002ff 0.5px,#0003ff 72.5px,#000eff 92.5px,#000aff 112.5px,#0008ff 136.5px,#000bff 154.5px,#0013ff 159.5px,#0021fe 163.5px,#0040fd 170.5px,#0049fc 175.5px,#004bfc 180.5px,#0056fb 185.5px,#0083f6 197.5px,#0090f4 202.5px,#0095f3 208.5px,#0091f3 213.5px,#0082f6 219.5px,#0063fa 227.5px,#003cfd 236.5px,#0025fe 243.5px,#0019ff 250.5px,#0017ff 254.5px,#001eff 259.5px,#0025fe 263.5px,#0020fe 267.5px,#0010ff 275.5px,#000dff 283.5px,#0014ff 314.5px,#0013ff 329.5px,#0000ff 330.5px,#0000ff 344.5px)"></i>
<i style="left:160px;width:3px;background:linear-gradient(#0002ff 0.5px,#0003ff 74.5px,#000dff 94.5px,#000aff 112.5px,#0006ff 132.5px,#0008ff 153.5px,#000dff 158.5px,#001aff 163.5px,#0036fe 170.5px,#003dfd 174.5px,#0040fd 183.5px,#0053fb 191.5px,#006af9 200.5px,#0071f8 207.5px,#006ff9 212.5px,#005ffa 220.5px,#0025fe 239.5px,#0017ff 246.5px,#0013ff 252.5px,#0018ff 256.5px,#0025fe 262.5px,#0024fe 265.5px,#0011ff 272.5px,#000bff 279.5px,#000cff 293.5px,#0013ff 314.5px,#000fff 323.5px,#000fff 329.5px,#0000ff 330.5px,#0000ff 344.5px)"></i>
<i style="left:163px;width:4px;background:linear-gradient(#0002ff 0.5px,#0003ff 77.5px,#000cff 96.5px,#0009ff 114.5px,#0004ff 139.5px,#0007ff 154.5px,#000dff 159.5px,#0019ff 163.5px,#0035fe 170.5px,#003bfd 173.5px,#0039fd 177.5px,#0032fe 183.5px,#0035fe 188.5px,#004afc 202.5px,#004cfc 211.5px,#0042fd 219.5px,#001aff 239.5px,#0010ff 248.5px,#0011ff 253.5px,#001cff 257.5px,#0029fe 261.5px,#002afe 263.5px,#0022fe 266.5px,#0011ff 271.5px,#000aff 276.5px,#0008ff 288.5px,#000cff 305.5px,#0012ff 312.5px,#000aff 322.5px,#000aff 329.5px,#0000ff 330.5px,#0000ff 344.5px)"></i>
<i style="left:167px;width:3px;background:linear-gradient(#0002ff 0.5px,#0003ff 80.5px,#000bff 100.5px,#0008ff 118.5px,#0003ff 140.5px,#0006ff 155.5px,#0011ff 161.5px,#0036fe 170.5px,#003bfd 173.5px,#0035fe 177.5px,#0025fe 184.5px,#0023fe 189.5px,#0030fe 206.5px,#002dfe 216.5px,#0010ff 242.5px,#000dff 250.5px,#0013ff 254.5px,#0030fe 261.5px,#0030fe 263.5px,#002afe 265.5px,#0013ff 270.5px,#000bff 273.5px,#0007ff 284.5px,#0007ff 303.5px,#0011ff 312.5px,#0006ff 322.5px,#0006ff 329.5px,#0000ff 330.5px,#0000ff 344.5px)"></i>
<i style="left:170px;width:3px;background:linear-gradient(#0002ff 0.5px,#0003ff 83.5px,#000bff 108.5px,#0003ff 143.5px,#0006ff 155.5px,#000fff 160.5px,#001dff 164.5px,#0035fe 169.5px,#003cfd 172.5px,#003cfd 174.5px,#0031fe 178.5px,#001fff 184.5px,#0019ff 188.5px,#001cff 197.5px,#0021fe 211.5px,#001aff 225.5px,#000dff 244.5px,#000eff 251.5px,#0014ff 254.5px,#0033fe 260.5px,#0037fd 262.5px,#0033fe 264.5px,#0013ff 270.5px,#000aff 274.5px,#0006ff 288.5px,#0006ff 304.5px,#0010ff 311.5px,#000dff 315.5px,#0005ff 320.5px,#0003ff 329.5px,#0000ff 331.5px,#0000ff 344.5px)"></i>
<i style="left:173px;width:3px;background:linear-gradient(#0002ff 0.5px,#0003ff 86.5px,#000bff 112.5px,#0003ff 147.5px,#0007ff 156.5px,#000fff 160.5px,#001eff 164.5px,#003afd 170.5px,#003efd 173.5px,#0039fd 176.5px,#0020fe 183.5px,#0017ff 189.5px,#001dff 212.5px,#0015ff 228.5px,#000dff 244.5px,#000eff 251.5px,#0016ff 254.5px,#002cfe 258.5px,#003bfd 261.5px,#003bfd 263.5px,#0033fe 265.5px,#0015ff 270.5px,#000cff 273.5px,#0007ff 283.5px,#0006ff 303.5px,#0011ff 312.5px,#0005ff 320.5px,#0003ff 329.5px,#0000ff 331.5px,#0000ff 344.5px)"></i>
<i style="left:176px;width:3px;background:linear-gradient(#0002ff 0.5px,#0003ff 89.5px,#000bff 116.5px,#0004ff 148.5px,#0008ff 156.5px,#0012ff 161.5px,#0023fe 165.5px,#0038fd 169.5px,#0040fd 172.5px,#003dfd 175.5px,#001bff 185.5px,#0016ff 190.5px,#001aff 213.5px,#000dff 244.5px,#000eff 250.5px,#0013ff 253.5px,#0022fe 256.5px,#003cfd 260.5px,#0041fd 262.5px,#003cfd 264.5px,#0017ff 270.5px,#000fff 272.5px,#0009ff 277.5px,#0005ff 301.5px,#000dff 308.5px,#0012ff 312.5px,#0005ff 320.5px,#0003ff 329.5px,#0000ff 331.5px,#0000ff 344.5px)"></i>
<i style="left:179px;width:3px;background:linear-gradient(#0002ff 0.5px,#0003ff 92.5px,#000bff 120.5px,#0004ff 150.5px,#0009ff 157.5px,#0016ff 162.5px,#0039fd 169.5px,#0042fd 172.5px,#003ffd 175.5px,#0031fe 179.5px,#001eff 184.5px,#0017ff 188.5px,#0015ff 196.5px,#0018ff 213.5px,#000dff 244.5px,#000eff 250.5px,#0019ff 254.5px,#002cfe 257.5px,#0041fd 260.5px,#0046fd 262.5px,#0041fd 264.5px,#0035fe 266.5px,#0018ff 270.5px,#000eff 273.5px,#0009ff 279.5px,#0006ff 302.5px,#000cff 307.5px,#0013ff 311.5px,#000eff 315.5px,#0005ff 321.5px,#0003ff 329.5px,#0000ff 331.5px,#0000ff 344.5px)"></i>
<i style="left:182px;width:3px;background:linear-gradient(#0002ff 0.5px,#0003ff 96.5px,#000bff 124.5px,#0007ff 141.5px,#0005ff 152.5px,#000dff 159.5px,#001bff 163.5px,#0040fd 170.5px,#0045fd 172.5px,#0042fd 175.5px,#001cff 185.5px,#0015ff 189.5px,#0015ff 218.5px,#000dff 243.5px,#000fff 250.5px,#0016ff 253.5px,#0020fe 255.5px,#0046fd 260.5px,#004bfc 261.5px,#004bfc 263.5px,#0041fd 265.5px,#0021fe 269.5px,#0012ff 272.5px,#000bff 276.5px,#0006ff 298.5px,#0008ff 304.5px,#0014ff 311.5px,#0012ff 314.5px,#0006ff 320.5px,#0004ff 329.5px,#0000ff 330.5px,#0000ff 344.5px)"></i>
<i style="left:185px;width:3px;background:linear-gradient(#0002ff 0.5px,#0003ff 99.5px,#000bff 127.5px,#0009ff 139.5px,#0006ff 151.5px,#000aff 157.5px,#0014ff 161.5px,#0027fe 165.5px,#0043fd 170.5px,#0048fc 172.5px,#0045fd 175.5px,#0035fe 179.5px,#0020ff 184.5px,#0017ff 188.5px,#0013ff 196.5px,#0014ff 216.5px,#000dff 243.5px,#0011ff 251.5px,#001dff 254.5px,#002bfe 256.5px,#004cfc 260.5px,#0053fc 262.5px,#004dfc 264.5px,#001dff 270.5px,#0013ff 272.5px,#000cff 276.5px,#0007ff 294.5px,#0007ff 303.5px,#0016ff 311.5px,#0011ff 315.5px,#0006ff 320.5px,#0004ff 329.5px,#0000ff 330.5px,#0000ff 344.5px)"></i>
<i style="left:188px;width:4px;background:linear-gradient(#0002ff 0.5px,#0003ff 103.5px,#000cff 133.5px,#0007ff 152.5px,#000bff 157.5px,#0015ff 161.5px,#0029fe 165.5px,#0047fc 170.5px,#004dfc 173.5px,#0042fd 177.5px,#0021fe 184.5px,#0017ff 188.5px,#0013ff 194.5px,#0011ff 224.5px,#000dff 243.5px,#0011ff 250.5px,#0019ff 253.5px,#002efe 256.5px,#0053fc 260.5px,#005afb 262.5px,#0054fb 264.5px,#001fff 270.5px,#0015ff 272.5px,#000eff 275.5px,#0008ff 290.5px,#0008ff 303.5px,#000fff 307.5px,#0017ff 311.5px,#0017ff 313.5px,#0007ff 320.5px,#0004ff 329.5px,#0000ff 330.5px,#0000ff 344.5px)"></i>
<i style="left:192px;width:3px;background:linear-gradient(#0002ff 0.5px,#0003ff 106.5px,#000cff 137.5px,#0008ff 153.5px,#000dff 158.5px,#001aff 162.5px,#0032fe 166.5px,#004bfc 170.5px,#0051fc 172.5px,#004efc 175.5px,#0036fe 180.5px,#001fff 185.5px,#0015ff 190.5px,#0013ff 204.5px,#000eff 243.5px,#0012ff 250.5px,#001bff 253.5px,#0029fe 255.5px,#005afb 260.5px,#0061fa 262.5px,#0060fa 263.5px,#0053fc 265.5px,#002afe 269.5px,#001bff 271.5px,#0011ff 274.5px,#000bff 281.5px,#0007ff 301.5px,#000bff 305.5px,#001aff 311.5px,#0017ff 314.5px,#0007ff 320.5px,#0004ff 329.5px,#0000ff 330.5px,#0000ff 344.5px)"></i>
<i style="left:195px;width:3px;background:linear-gradient(#0002ff 0.5px,#0003ff 110.5px,#000cff 139.5px,#0009ff 154.5px,#0010ff 159.5px,#0021fe 163.5px,#0050fc 170.5px,#0057fb 172.5px,#0056fb 174.5px,#0046fd 178.5px,#0025fe 184.5px,#0017ff 189.5px,#0012ff 199.5px,#000fff 230.5px,#000fff 246.5px,#0015ff 251.5px,#0024fe 254.5px,#0037fe 256.5px,#0061fa 260.5px,#006af9 262.5px,#0063fa 264.5px,#0044fd 267.5px,#002efe 269.5px,#001eff 271.5px,#0012ff 274.5px,#000cff 281.5px,#0008ff 301.5px,#000cff 305.5px,#001bff 310.5px,#001dff 312.5px,#0012ff 316.5px,#0007ff 321.5px,#0005ff 329.5px,#0000ff 330.5px,#0000ff 344.5px)"></i>
<i style="left:198px;width:3px;background:linear-gradient(#0002ff 0.5px,#0003ff 113.5px,#000bff 140.5px,#000bff 155.5px,#0011ff 159.5px,#001dff 162.5px,#0038fd 166.5px,#0056fb 170.5px,#005dfb 172.5px,#005cfb 174.5px,#0051fc 177.5px,#0028fe 184.5px,#001bff 188.5px,#0014ff 193.5px,#000eff 237.5px,#0012ff 248.5px,#0017ff 251.5px,#0020fe 253.5px,#0030fe 255.5px,#006af9 260.5px,#0070f8 261.5px,#0071f8 263.5px,#0062fa 265.5px,#0032fe 269.5px,#0020fe 271.5px,#0014ff 274.5px,#000fff 278.5px,#0009ff 295.5px,#0009ff 302.5px,#0010ff 306.5px,#001eff 310.5px,#0020ff 312.5px,#0018ff 315.5px,#000bff 319.5px,#0006ff 323.5px,#0005ff 329.5px,#0000ff 330.5px,#0000ff 344.5px)"></i>
<i style="left:201px;width:3px;background:linear-gradient(#0002ff 0.5px,#0003ff 115.5px,#000bff 145.5px,#000cff 155.5px,#0013ff 159.5px,#001fff 162.5px,#003cfd 166.5px,#005cfb 170.5px,#0064fa 172.5px,#0063fa 174.5px,#0057fb 177.5px,#002bfe 184.5px,#001dff 188.5px,#0015ff 193.5px,#000fff 231.5px,#0011ff 245.5px,#0016ff 250.5px,#001dff 252.5px,#002afe 254.5px,#0040fd 256.5px,#0068f9 259.5px,#0079f7 261.5px,#007cf7 262.5px,#007af7 263.5px,#0074f8 264.5px,#005efb 266.5px,#0036fe 269.5px,#0023fe 271.5px,#0018ff 273.5px,#0011ff 277.5px,#000aff 293.5px,#000aff 302.5px,#0012ff 306.5px,#0021fe 310.5px,#0023fe 312.5px,#001fff 314.5px,#000cff 319.5px,#0006ff 324.5px,#0005ff 329.5px,#0000ff 330.5px,#0000ff 344.5px)"></i>
<i style="left:204px;width:3px;background:linear-gradient(#0002ff 0.5px,#0004ff 124.5px,#000bff 147.5px,#000dff 155.5px,#0014ff 159.5px,#0021fe 162.5px,#0037fd 165.5px,#005cfb 169.5px,#0069f9 171.5px,#006df9 173.5px,#0064fa 176.5px,#002ffe 184.5px,#001cff 189.5px,#0014ff 197.5px,#000fff 234.5px,#0014ff 248.5px,#001fff 252.5px,#002efe 254.5px,#0046fd 256.5px,#0071f8 259.5px,#007cf7 260.5px,#0083f6 261.5px,#0086f5 262.5px,#0084f6 263.5px,#0073f8 265.5px,#003bfd 269.5px,#0026fe 271.5px,#001bff 273.5px,#0013ff 276.5px,#000bff 292.5px,#000bff 302.5px,#0010ff 305.5px,#0025fe 310.5px,#0028fe 312.5px,#0023fe 314.5px,#0010ff 318.5px,#0009ff 321.5px,#0005ff 329.5px,#0000ff 330.5px,#0000ff 344.5px)"></i>
<i style="left:207px;width:3px;background:linear-gradient(#0002ff 0.5px,#0004ff 126.5px,#000dff 154.5px,#0013ff 158.5px,#001eff 161.5px,#0033fe 164.5px,#0063fa 169.5px,#0071f8 171.5px,#0076f8 173.5px,#006df9 176.5px,#0049fc 181.5px,#002efe 185.5px,#0021fe 188.5px,#0018ff 193.5px,#0012ff 210.5px,#0011ff 237.5px,#0016ff 248.5px,#001dff 251.5px,#0029fe 253.5px,#003efd 255.5px,#007af7 259.5px,#0086f5 260.5px,#008ef4 261.5px,#0091f3 262.5px,#008ff4 263.5px,#0088f5 264.5px,#006ef9 266.5px,#0040fd 269.5px,#0033fe 270.5px,#0022fe 272.5px,#0019ff 274.5px,#0011ff 280.5px,#000bff 297.5px,#000dff 303.5px,#0016ff 306.5px,#002afe 310.5px,#002dfe 312.5px,#0027fe 314.5px,#000eff 319.5px,#0008ff 323.5px,#0006ff 329.5px,#0000ff 330.5px,#0000ff 344.5px)"></i>
<i style="left:210px;width:4px;background:linear-gradient(#0002ff 0.5px,#0004ff 127.5px,#000eff 155.5px,#0016ff 159.5px,#0025fe 162.5px,#0034fe 164.5px,#0071f8 170.5px,#007bf7 172.5px,#007bf7 174.5px,#0073f8 176.5px,#005ffa 179.5px,#0038fd 184.5px,#0024fe 188.5px,#001aff 193.5px,#0014ff 205.5px,#0011ff 230.5px,#0015ff 245.5px,#0019ff 249.5px,#0025fe 252.5px,#0036fe 254.5px,#0052fc 256.5px,#0084f6 259.5px,#0099f2 261.5px,#009cf1 262.5px,#009af2 263.5px,#0092f3 264.5px,#0077f7 266.5px,#0045fd 269.5px,#002dfe 271.5px,#001fff 273.5px,#0015ff 277.5px,#000cff 295.5px,#000eff 303.5px,#0019ff 306.5px,#002ffe 310.5px,#0032fe 312.5px,#002cfe 314.5px,#0010ff 319.5px,#0008ff 323.5px,#0006ff 329.5px,#0000ff 330.5px,#0000ff 344.5px)"></i>
<i style="left:214px;width:3px;background:linear-gradient(#0002ff 0.5px,#0004ff 128.5px,#000dff 154.5px,#0015ff 159.5px,#001cff 161.5px,#0031fe 164.5px,#005afb 168.5px,#006ef9 170.5px,#0079f7 172.5px,#007af7 174.5px,#0073f8 176.5px,#0060fa 179.5px,#003bfd 184.5px,#002bfe 187.5px,#001fff 191.5px,#0018ff 198.5px,#0012ff 220.5px,#0014ff 240.5px,#001cff 249.5px,#0022fe 251.5px,#0030fe 253.5px,#0049fc 255.5px,#008ef4 259.5px,#009cf1 260.5px,#00a4f0 261.5px,#00a8ef 262.5px,#00a5ef 263.5px,#009ef1 264.5px,#0081f6 266.5px,#004bfc 269.5px,#0031fe 271.5px,#0022fe 273.5px,#0017ff 277.5px,#000eff 292.5px,#000eff 302.5px,#0017ff 305.5px,#0035fe 310.5px,#0039fd 312.5px,#0032fe 314.5px,#0017ff 318.5px,#000eff 320.5px,#0008ff 325.5px,#0007ff 329.5px,#0000ff 330.5px,#0000ff 344.5px)"></i>
<i style="left:217px;width:3px;background:linear-gradient(#0002ff 0.5px,#0004ff 127.5px,#000cff 152.5px,#0012ff 158.5px,#001cff 161.5px,#0027fe 163.5px,#0043fd 166.5px,#0066fa 169.5px,#0077f7 171.5px,#007ef6 173.5px,#007bf7 175.5px,#0072f8 177.5px,#0055fb 181.5px,#0033fe 186.5px,#0024fe 190.5px,#001bff 197.5px,#0014ff 214.5px,#0014ff 236.5px,#001bff 247.5px,#0021fe 250.5px,#002cfe 252.5px,#0034fe 253.5px,#004ffc 255.5px,#009af2 259.5px,#00a7ef 260.5px,#00b0ed 261.5px,#00b4ec 262.5px,#00b1ec 263.5px,#00a9ee 264.5px,#009cf1 265.5px,#0078f7 267.5px,#0052fc 269.5px,#0042fd 270.5px,#002cfe 272.5px,#0020fe 274.5px,#0018ff 278.5px,#000fff 292.5px,#000fff 301.5px,#0015ff 304.5px,#0020ff 306.5px,#003cfd 310.5px,#0040fd 311.5px,#003efd 313.5px,#0031fe 315.5px,#0019ff 318.5px,#000dff 321.5px,#0008ff 327.5px,#0007ff 329.5px,#0000ff 330.5px,#0000ff 344.5px)"></i>
<i style="left:220px;width:3px;background:linear-gradient(#0002ff 0.5px,#0004ff 125.5px,#000aff 148.5px,#0012ff 157.5px,#001aff 160.5px,#0024fe 162.5px,#003ffd 165.5px,#007cf7 170.5px,#008af5 172.5px,#008bf4 174.5px,#0085f5 176.5px,#0068f9 180.5px,#003ffd 185.5px,#002bfe 189.5px,#001fff 195.5px,#0016ff 210.5px,#0014ff 232.5px,#001bff 245.5px,#0020fe 249.5px,#0028fe 251.5px,#0038fd 253.5px,#0055fb 255.5px,#00a4f0 259.5px,#00b2ec 260.5px,#00bbea 261.5px,#00bee9 262.5px,#00bce9 263.5px,#00b4ec 264.5px,#0095f3 266.5px,#0058fb 269.5px,#0047fc 270.5px,#002ffe 272.5px,#0023fe 274.5px,#001bff 277.5px,#0011ff 290.5px,#0010ff 301.5px,#0017ff 304.5px,#0023fe 306.5px,#003efd 309.5px,#0049fc 311.5px,#0046fd 313.5px,#0037fd 315.5px,#0016ff 319.5px,#000cff 322.5px,#0008ff 329.5px,#0000ff 330.5px,#0000ff 344.5px)"></i>
<i style="left:223px;width:3px;background:linear-gradient(#0002ff 0.5px,#0005ff 132.5px,#000cff 151.5px,#0015ff 158.5px,#0021fe 161.5px,#0030fe 163.5px,#0046fd 165.5px,#0088f5 170.5px,#0097f2 172.5px,#0098f2 174.5px,#0091f3 176.5px,#0084f6 178.5px,#004dfc 184.5px,#0034fe 188.5px,#0027fe 192.5px,#001cff 201.5px,#0015ff 221.5px,#0017ff 236.5px,#0020fe 248.5px,#002bfe 251.5px,#0032fe 252.5px,#004afc 254.5px,#0070f8 256.5px,#009bf1 258.5px,#00aeed 259.5px,#00bde9 260.5px,#00c6e6 261.5px,#00c9e5 262.5px,#00c7e6 263.5px,#00bfe9 264.5px,#00b1ec 265.5px,#008af5 267.5px,#005ffa 269.5px,#003efd 271.5px,#002bfe 273.5px,#001fff 276.5px,#0014ff 287.5px,#0010ff 299.5px,#0013ff 302.5px,#001aff 304.5px,#0028fe 306.5px,#004dfc 310.5px,#0052fc 311.5px,#004ffc 313.5px,#003efd 315.5px,#0020fe 318.5px,#0014ff 320.5px,#000dff 322.5px,#0009ff 329.5px,#0000ff 330.5px,#0000ff 344.5px)"></i>
<i style="left:226px;width:3px;background:linear-gradient(#0002ff 0.5px,#0005ff 130.5px,#000cff 150.5px,#0014ff 157.5px,#001eff 160.5px,#002bfe 162.5px,#003ffd 164.5px,#0078f7 168.5px,#0093f3 170.5px,#00a2f0 172.5px,#00a5ef 173.5px,#00a1f0 175.5px,#0096f2 177.5px,#0071f8 181.5px,#004bfc 185.5px,#0038fd 188.5px,#002afe 192.5px,#0021fe 198.5px,#0018ff 212.5px,#0017ff 231.5px,#001eff 244.5px,#0025fe 249.5px,#002efe 251.5px,#0041fd 253.5px,#0062fa 255.5px,#00a5ef 258.5px,#00b8eb 259.5px,#00c7e6 260.5px,#00d0e3 261.5px,#00d3e1 262.5px,#00d1e2 263.5px,#00c9e5 264.5px,#00bbea 265.5px,#0092f3 267.5px,#0065fa 269.5px,#0052fc 270.5px,#0037fe 272.5px,#0028fe 274.5px,#001fff 277.5px,#0015ff 288.5px,#0012ff 300.5px,#0018ff 303.5px,#0023fe 305.5px,#0056fb 310.5px,#005bfb 311.5px,#005cfb 312.5px,#0058fb 313.5px,#0045fd 315.5px,#0024fe 318.5px,#0015ff 320.5px,#000dff 323.5px,#0009ff 329.5px,#0000ff 330.5px,#0000ff 344.5px)"></i>
<i style="left:229px;width:3px;background:linear-gradient(#0002ff 0.5px,#0005ff 128.5px,#000bff 148.5px,#0013ff 156.5px,#0020fe 160.5px,#002efe 162.5px,#0044fd 164.5px,#0060fa 166.5px,#008ff4 169.5px,#00a6ef 171.5px,#00afed 173.5px,#00abee 175.5px,#00a0f1 177.5px,#0079f7 181.5px,#005afb 184.5px,#0042fd 187.5px,#002ffe 191.5px,#0024fe 197.5px,#001aff 210.5px,#0017ff 227.5px,#0020fe 245.5px,#0028fe 249.5px,#0031fe 251.5px,#0039fd 252.5px,#0045fd 253.5px,#0068f9 255.5px,#00aded 258.5px,#00c1e8 259.5px,#00d0e3 260.5px,#00d9df 261.5px,#00dcdd 262.5px,#00dade 263.5px,#00d2e2 264.5px,#00c4e7 265.5px,#009bf2 267.5px,#006bf9 269.5px,#0057fb 270.5px,#003afd 272.5px,#002bfe 274.5px,#0024fe 276.5px,#001bff 282.5px,#0013ff 296.5px,#0014ff 301.5px,#001aff 303.5px,#0027fe 305.5px,#003cfd 307.5px,#0055fb 309.5px,#005ffa 310.5px,#0065fa 311.5px,#0065fa 312.5px,#0061fa 313.5px,#004dfc 315.5px,#0027fe 318.5px,#0017ff 320.5px,#000eff 323.5px,#000aff 329.5px,#0000ff 330.5px,#0000ff 344.5px)"></i>
<i style="left:232px;width:4px;background:linear-gradient(#0002ff 0.5px,#0005ff 126.5px,#000bff 147.5px,#0014ff 156.5px,#001dff 159.5px,#0029fe 161.5px,#003bfd 163.5px,#0056fb 165.5px,#0097f2 169.5px,#00aeed 171.5px,#00b5eb 172.5px,#00b6eb 174.5px,#00afed 176.5px,#009ff1 178.5px,#0055fb 185.5px,#003ffd 188.5px,#002cfe 193.5px,#0021fe 201.5px,#0019ff 218.5px,#001aff 234.5px,#0023fe 246.5px,#002efe 250.5px,#003dfd 252.5px,#0049fc 253.5px,#0059fb 254.5px,#0085f5 256.5px,#00b5eb 258.5px,#00c9e5 259.5px,#00d8df 260.5px,#07e0db 261.5px,#0de3d9 262.5px,#09e1db 263.5px,#00dade 264.5px,#00cce4 265.5px,#00b9ea 266.5px,#0089f5 268.5px,#005cfb 270.5px,#004bfc 271.5px,#0034fe 273.5px,#0029fe 275.5px,#0020fe 279.5px,#0016ff 291.5px,#0015ff 300.5px,#0018ff 302.5px,#0022fe 304.5px,#0035fe 306.5px,#005efb 309.5px,#0068f9 310.5px,#006ef9 311.5px,#006ff9 312.5px,#006bf9 313.5px,#0054fb 315.5px,#002bfe 318.5px,#001aff 320.5px,#0011ff 322.5px,#000bff 329.5px,#0000ff 330.5px,#0000ff 344.5px)"></i>
<i style="left:236px;width:3px;background:linear-gradient(#0002ff 0.5px,#0005ff 124.5px,#000bff 147.5px,#0013ff 155.5px,#001eff 159.5px,#002afe 161.5px,#003efd 163.5px,#005afb 165.5px,#009df1 169.5px,#00abee 170.5px,#00b5eb 171.5px,#00bee9 173.5px,#00baea 175.5px,#00aeed 177.5px,#009bf1 179.5px,#0063fa 184.5px,#0048fc 187.5px,#0038fd 190.5px,#002afe 195.5px,#001eff 207.5px,#0019ff 225.5px,#001fff 240.5px,#0029fe 248.5px,#0030fe 250.5px,#0040fd 252.5px,#004dfc 253.5px,#005efa 254.5px,#008bf4 256.5px,#00bde9 258.5px,#00d1e2 259.5px,#03dfdc 260.5px,#15e7d7 261.5px,#1bead5 262.5px,#17e8d7 263.5px,#07e1db 264.5px,#00d4e1 265.5px,#00c1e8 266.5px,#0077f8 269.5px,#0061fa 270.5px,#004ffc 271.5px,#0041fd 272.5px,#0030fe 274.5px,#0025fe 277.5px,#001bff 286.5px,#0015ff 298.5px,#0017ff 301.5px,#001eff 303.5px,#0024fe 304.5px,#003afd 306.5px,#0066fa 309.5px,#0072f8 310.5px,#0078f7 311.5px,#0079f7 312.5px,#0074f8 313.5px,#006af9 314.5px,#002ffe 318.5px,#001cff 320.5px,#0012ff 322.5px,#000bff 329.5px,#0000ff 330.5px,#0000ff 344.5px)"></i>
<i style="left:239px;width:3px;background:linear-gradient(#0002ff 0.5px,#0005ff 123.5px,#000bff 146.5px,#0014ff 155.5px,#001fff 159.5px,#002cfe 161.5px,#0040fd 163.5px,#005dfb 165.5px,#00a2f0 169.5px,#00baea 171.5px,#00c3e7 173.5px,#00bfe9 175.5px,#00b3ec 177.5px,#0095f3 180.5px,#0066fa 184.5px,#004bfc 187.5px,#003efd 189.5px,#0030fe 193.5px,#0026fe 199.5px,#001cff 212.5px,#001bff 229.5px,#0023fe 243.5px,#002bfe 248.5px,#0032fe 250.5px,#0043fd 252.5px,#0050fc 253.5px,#0062fa 254.5px,#0091f3 256.5px,#00c3e7 258.5px,#00d7e0 259.5px,#10e5d9 260.5px,#22ecd4 261.5px,#29efd1 262.5px,#24edd3 263.5px,#14e6d7 264.5px,#00dade 265.5px,#00c7e6 266.5px,#0096f3 268.5px,#0065fa 270.5px,#0052fc 271.5px,#0039fd 273.5px,#002dfe 275.5px,#0023fe 279.5px,#0017ff 293.5px,#0017ff 300.5px,#001bff 302.5px,#0027fe 304.5px,#0031fe 305.5px,#004efc 307.5px,#006ff9 309.5px,#007bf7 310.5px,#0082f6 311.5px,#0084f6 312.5px,#007ef7 313.5px,#0073f8 314.5px,#0033fe 318.5px,#001eff 320.5px,#0014ff 322.5px,#000eff 325.5px,#000cff 329.5px,#0000ff 330.5px,#0000ff 344.5px)"></i>
<i style="left:242px;width:3px;background:linear-gradient(#0002ff 0.5px,#0005ff 122.5px,#000cff 147.5px,#0014ff 155.5px,#0020fe 159.5px,#002dfe 161.5px,#0041fd 163.5px,#005ffa 165.5px,#00a5ef 169.5px,#00bde9 171.5px,#00c6e6 173.5px,#00c2e8 175.5px,#00b6eb 177.5px,#0098f2 180.5px,#0068f9 184.5px,#004cfc 187.5px,#0037fe 191.5px,#002dfe 195.5px,#0022fe 204.5px,#001bff 218.5px,#001dff 233.5px,#0026fe 244.5px,#002cfe 248.5px,#0034fe 250.5px,#0045fd 252.5px,#0053fb 253.5px,#0066fa 254.5px,#0096f2 256.5px,#00c9e5 258.5px,#00dddd 259.5px,#1bead5 260.5px,#2ef1d0 261.5px,#35f3ce 262.5px,#30f2cf 263.5px,#1febd4 264.5px,#05e0db 265.5px,#00cde4 266.5px,#00b6eb 267.5px,#0081f6 269.5px,#0069f9 270.5px,#0055fb 271.5px,#0046fd 272.5px,#0034fe 274.5px,#0028fe 277.5px,#001cff 287.5px,#0017ff 298.5px,#001aff 301.5px,#0022fe 303.5px,#0035fe 305.5px,#0043fd 306.5px,#0078f7 309.5px,#0085f6 310.5px,#008cf4 311.5px,#008ef4 312.5px,#0088f5 313.5px,#007cf7 314.5px,#0059fb 316.5px,#0037fe 318.5px,#0020fe 320.5px,#0015ff 322.5px,#000eff 326.5px,#000dff 329.5px,#0000ff 330.5px,#0000ff 344.5px)"></i>
<i style="left:245px;width:3px;background:linear-gradient(#0002ff 0.5px,#0005ff 122.5px,#000bff 145.5px,#0014ff 155.5px,#0020fe 159.5px,#002dfe 161.5px,#0042fd 163.5px,#0060fa 165.5px,#00a6ef 169.5px,#00b4ec 170.5px,#00c5e7 172.5px,#00c7e6 174.5px,#00bfe9 176.5px,#00afed 178.5px,#0069f9 184.5px,#004dfc 187.5px,#0040fd 189.5px,#0031fe 193.5px,#0025fe 201.5px,#001dff 213.5px,#001cff 227.5px,#0022fe 239.5px,#002bfe 247.5px,#0036fe 250.5px,#003dfd 251.5px,#0056fb 253.5px,#0069f9 254.5px,#009bf1 256.5px,#00cee3 258.5px,#09e1da 259.5px,#26eed2 260.5px,#39f4cc 261.5px,#41f7ca 262.5px,#3bf5cc 263.5px,#2aefd1 264.5px,#0fe4d9 265.5px,#00d2e2 266.5px,#00bbea 267.5px,#0085f5 269.5px,#0058fb 271.5px,#0049fc 272.5px,#0036fe 274.5px,#002dfe 276.5px,#0022fe 282.5px,#0019ff 295.5px,#0019ff 299.5px,#001bff 301.5px,#0024fe 303.5px,#0039fd 305.5px,#0048fc 306.5px,#0080f6 309.5px,#008ef4 310.5px,#0096f2 311.5px,#0098f2 312.5px,#0092f3 313.5px,#0085f5 314.5px,#0060fa 316.5px,#003bfd 318.5px,#0022fe 320.5px,#0016ff 322.5px,#000fff 326.5px,#000dff 329.5px,#0000ff 330.5px,#0000ff 344.5px)"></i>
<i style="left:248px;width:3px;background:linear-gradient(#0002ff 0.5px,#0005ff 121.5px,#000bff 145.5px,#0014ff 155.5px,#0020fe 159.5px,#002dfe 161.5px,#0042fd 163.5px,#0060fa 165.5px,#00a6ef 169.5px,#00b4ec 170.5px,#00c5e7 172.5px,#00c7e6 174.5px,#00bfe9 176.5px,#00afed 178.5px,#0069f9 184.5px,#004dfc 187.5px,#0040fd 189.5px,#0031fe 193.5px,#0025fe 201.5px,#001dff 213.5px,#001cff 228.5px,#0025fe 242.5px,#002cfe 247.5px,#0037fd 250.5px,#004afc 252.5px,#0058fb 253.5px,#006cf9 254.5px,#009ff1 256.5px,#00bbea 257.5px,#00d3e1 258.5px,#11e5d8 259.5px,#2ff1d0 260.5px,#43f7c9 261.5px,#4bf9c7 262.5px,#45f8c8 263.5px,#34f3ce 264.5px,#18e8d6 265.5px,#00d7e0 266.5px,#00a4f0 268.5px,#0070f8 270.5px,#005bfb 271.5px,#004bfc 272.5px,#003ffd 273.5px,#0032fe 275.5px,#0027fe 279.5px,#001bff 291.5px,#001aff 299.5px,#0020fe 302.5px,#002ffe 304.5px,#003cfd 305.5px,#0061fa 307.5px,#0089f5 309.5px,#0098f2 310.5px,#00a0f0 311.5px,#00a1f0 312.5px,#009bf1 313.5px,#008ef4 314.5px,#0067fa 316.5px,#003ffd 318.5px,#0024fe 320.5px,#0017ff 322.5px,#0010ff 326.5px,#000eff 329.5px,#0000ff 330.5px,#0000ff 344.5px)"></i>
<i style="left:251px;width:3px;background:linear-gradient(#0002ff 0.5px,#0005ff 121.5px,#000bff 145.5px,#0014ff 155.5px,#0020fe 159.5px,#002dfe 161.5px,#0041fd 163.5px,#005ffa 165.5px,#00a4ef 169.5px,#00bde9 171.5px,#00c6e6 173.5px,#00c2e8 175.5px,#00b6eb 177.5px,#00a3f0 179.5px,#0068f9 184.5px,#004cfc 187.5px,#0037fd 191.5px,#0029fe 197.5px,#001eff 210.5px,#001cff 227.5px,#0025fe 241.5px,#002dfe 247.5px,#0033fe 249.5px,#0040fd 251.5px,#004bfc 252.5px,#005bfb 253.5px,#006ff9 254.5px,#0087f5 255.5px,#00bee9 257.5px,#00d7e0 258.5px,#19e9d6 259.5px,#37f4cd 260.5px,#4cf9c6 261.5px,#54fbc4 262.5px,#4efac6 263.5px,#3cf5cc 264.5px,#1febd4 265.5px,#00dade 266.5px,#00c3e7 267.5px,#008cf4 269.5px,#005dfb 271.5px,#004dfc 272.5px,#0041fd 273.5px,#0033fe 275.5px,#0028fe 279.5px,#001cff 291.5px,#001bff 299.5px,#001eff 301.5px,#0028fe 303.5px,#0032fe 304.5px,#0040fd 305.5px,#0067f9 307.5px,#0092f3 309.5px,#00a1f0 310.5px,#00aaee 311.5px,#00abee 312.5px,#00a5ef 313.5px,#0097f2 314.5px,#006ef9 316.5px,#0043fd 318.5px,#0026fe 320.5px,#0019ff 322.5px,#0011ff 325.5px,#000eff 329.5px,#0000ff 330.5px,#0000ff 344.5px)"></i>
<i style="left:254px;width:4px;background:linear-gradient(#0002ff 0.5px,#0005ff 121.5px,#000cff 147.5px,#0014ff 155.5px,#001fff 159.5px,#002cfe 161.5px,#0040fd 163.5px,#005dfb 165.5px,#00a1f0 169.5px,#00afed 170.5px,#00c0e8 172.5px,#00c1e8 174.5px,#00baea 176.5px,#00aaee 178.5px,#005cfb 185.5px,#0044fd 188.5px,#0033fe 192.5px,#0026fe 199.5px,#001dff 212.5px,#001cff 227.5px,#0025fe 241.5px,#002efe 247.5px,#0034fe 249.5px,#0041fd 251.5px,#005cfb 253.5px,#0071f8 254.5px,#00a6ef 256.5px,#00dade 258.5px,#1febd4 259.5px,#3ef6cb 260.5px,#53fbc4 261.5px,#5cfcc1 262.5px,#56fbc3 263.5px,#43f7c9 264.5px,#26eed2 265.5px,#01dddd 266.5px,#00c6e6 267.5px,#008ff4 269.5px,#0075f8 270.5px,#005ffa 271.5px,#0042fd 273.5px,#0034fe 275.5px,#0029fe 279.5px,#001dff 291.5px,#001cff 299.5px,#001fff 301.5px,#002afe 303.5px,#0035fe 304.5px,#0044fd 305.5px,#0057fb 306.5px,#009af2 309.5px,#00aaee 310.5px,#00b3ec 311.5px,#00b4ec 312.5px,#00aeed 313.5px,#00a0f0 314.5px,#0075f8 316.5px,#0047fc 318.5px,#0036fe 319.5px,#0029fe 320.5px,#001aff 322.5px,#0012ff 325.5px,#000fff 329.5px,#0000ff 330.5px,#0000ff 344.5px)"></i>
<i style="left:258px;width:3px;background:linear-gradient(#0002ff 0.5px,#0005ff 122.5px,#000bff 146.5px,#0015ff 156.5px,#0024fe 160.5px,#0033fe 162.5px,#004bfc 164.5px,#006af9 166.5px,#009df1 169.5px,#00b4ec 171.5px,#00bbea 172.5px,#00bce9 174.5px,#00b5ec 176.5px,#00a5ef 178.5px,#0063fa 184.5px,#0050fc 186.5px,#003dfd 189.5px,#0031fe 192.5px,#0025fe 199.5px,#001dff 211.5px,#001cff 225.5px,#0022fe 237.5px,#002cfe 246.5px,#0035fe 249.5px,#0042fd 251.5px,#004efc 252.5px,#005efa 253.5px,#0073f8 254.5px,#00a8ef 256.5px,#00c4e7 257.5px,#00dcdd 258.5px,#24edd3 259.5px,#44f7c9 260.5px,#59fcc2 261.5px,#62fdbf 262.5px,#5cfcc1 263.5px,#49f9c7 264.5px,#2bf0d1 265.5px,#06e0db 266.5px,#00c9e5 267.5px,#0091f3 269.5px,#0077f8 270.5px,#0061fa 271.5px,#0050fc 272.5px,#003bfd 274.5px,#0031fe 276.5px,#0027fe 281.5px,#001eff 290.5px,#001dff 299.5px,#0020fe 301.5px,#002cfe 303.5px,#0038fd 304.5px,#0048fc 305.5px,#005cfb 306.5px,#00a2f0 309.5px,#00b3ec 310.5px,#00bce9 311.5px,#00bde9 312.5px,#00b7eb 313.5px,#00a9ef 314.5px,#0094f3 315.5px,#004bfc 318.5px,#0039fd 319.5px,#002bfe 320.5px,#0021fe 321.5px,#0017ff 323.5px,#0011ff 327.5px,#000fff 329.5px,#0000ff 330.5px,#0000ff 344.5px)"></i>
<i style="left:261px;width:3px;background:linear-gradient(#0002ff 0.5px,#0005ff 123.5px,#000cff 148.5px,#0014ff 156.5px,#0022fe 160.5px,#0031fe 162.5px,#0047fc 164.5px,#0087f5 168.5px,#00a4f0 170.5px,#00aeed 171.5px,#00b4ec 172.5px,#00b6eb 174.5px,#00aeed 176.5px,#009ff1 178.5px,#0055fb 185.5px,#003ffd 188.5px,#002ffe 192.5px,#0025fe 198.5px,#001dff 209.5px,#001bff 225.5px,#0023fe 238.5px,#002dfe 246.5px,#0035fe 249.5px,#0043fd 251.5px,#004ffc 252.5px,#005ffa 253.5px,#0074f8 254.5px,#008df4 255.5px,#00c6e6 257.5px,#02dedc 258.5px,#28efd2 259.5px,#48f8c8 260.5px,#5efdc0 261.5px,#67febd 262.5px,#61fdbf 263.5px,#4dfac6 264.5px,#2ff1d0 265.5px,#09e2da 266.5px,#00cbe5 267.5px,#0093f3 269.5px,#0078f7 270.5px,#0062fa 271.5px,#0051fc 272.5px,#0044fd 273.5px,#0036fe 275.5px,#002efe 277.5px,#0023fe 285.5px,#001dff 294.5px,#001dff 299.5px,#0021fe 301.5px,#002efe 303.5px,#003afd 304.5px,#004bfc 305.5px,#007af7 307.5px,#0094f3 308.5px,#00aaee 309.5px,#00bbea 310.5px,#00c5e7 311.5px,#00c6e6 312.5px,#00bfe8 313.5px,#00b1ec 314.5px,#009cf1 315.5px,#004ffc 318.5px,#003cfd 319.5px,#002dfe 320.5px,#001cff 322.5px,#0015ff 324.5px,#0010ff 329.5px,#0000ff 330.5px,#0000ff 344.5px)"></i>
<i style="left:264px;width:3px;background:linear-gradient(#0002ff 0.5px,#0005ff 124.5px,#000bff 147.5px,#0013ff 156.5px,#001cff 159.5px,#002efe 162.5px,#0044fd 164.5px,#0060fa 166.5px,#008ff4 169.5px,#00a5ef 171.5px,#00acee 172.5px,#00aded 174.5px,#00a6ef 176.5px,#0097f2 178.5px,#0059fb 184.5px,#003cfd 188.5px,#002dfe 192.5px,#0021fe 200.5px,#001aff 215.5px,#001cff 229.5px,#0028fe 243.5px,#0032fe 248.5px,#003bfd 250.5px,#0043fd 251.5px,#004ffc 252.5px,#005ffa 253.5px,#008ef4 255.5px,#00c7e6 257.5px,#04dfdc 258.5px,#2bf0d1 259.5px,#4bf9c7 260.5px,#61fdbf 261.5px,#6afebc 262.5px,#64fdbe 263.5px,#50fac5 264.5px,#32f2cf 265.5px,#0ce3da 266.5px,#00cce4 267.5px,#0094f3 269.5px,#0079f7 270.5px,#0063fa 271.5px,#0052fc 272.5px,#0045fd 273.5px,#0036fe 275.5px,#002bfe 279.5px,#0021fe 288.5px,#001dff 297.5px,#0022fe 301.5px,#0030fe 303.5px,#003dfd 304.5px,#004ffc 305.5px,#0080f6 307.5px,#009bf2 308.5px,#00b2ec 309.5px,#00c3e7 310.5px,#00cde4 311.5px,#00cee3 312.5px,#00c8e6 313.5px,#00b9ea 314.5px,#00a3f0 315.5px,#006df9 317.5px,#0054fb 318.5px,#003ffd 319.5px,#002ffe 320.5px,#0024fe 321.5px,#0019ff 323.5px,#0012ff 327.5px,#0010ff 329.5px,#0000ff 330.5px,#0000ff 344.5px)"></i>
<i style="left:267px;width:3px;background:linear-gradient(#0002ff 0.5px,#0005ff 125.5px,#000bff 148.5px,#0014ff 157.5px,#001fff 160.5px,#002bfe 162.5px,#003ffd 164.5px,#0086f5 169.5px,#009bf1 171.5px,#00a4f0 173.5px,#00a0f0 175.5px,#0095f3 177.5px,#0071f8 181.5px,#004bfc 185.5px,#0038fd 188.5px,#002afe 192.5px,#0020fe 199.5px,#0019ff 215.5px,#001dff 232.5px,#0029fe 244.5px,#0035fe 249.5px,#0043fd 251.5px,#004ffc 252.5px,#0060fa 253.5px,#0075f8 254.5px,#00acee 256.5px,#00c8e6 257.5px,#05dfdb 258.5px,#2cf0d0 259.5px,#4df9c6 260.5px,#63fdbf 261.5px,#6cfebb 262.5px,#66febe 263.5px,#52fbc4 264.5px,#33f3ce 265.5px,#0de3d9 266.5px,#00cde4 267.5px,#0094f3 269.5px,#0063fa 271.5px,#0052fc 272.5px,#0045fd 273.5px,#0036fe 275.5px,#002bfe 279.5px,#001fff 290.5px,#001eff 298.5px,#0023fe 301.5px,#0032fe 303.5px,#003ffd 304.5px,#0052fc 305.5px,#0086f5 307.5px,#00a2f0 308.5px,#00baea 309.5px,#00cbe4 310.5px,#00d4e1 311.5px,#00d6e0 312.5px,#00cfe3 313.5px,#00c1e8 314.5px,#00abee 315.5px,#0072f8 317.5px,#0058fb 318.5px,#0042fd 319.5px,#0031fe 320.5px,#001eff 322.5px,#0013ff 326.5px,#0011ff 329.5px,#0000ff 330.5px,#0000ff 344.5px)"></i>
<i style="left:270px;width:3px;background:linear-gradient(#0002ff 0.5px,#0005ff 127.5px,#000bff 150.5px,#0015ff 158.5px,#0021fe 161.5px,#0030fe 163.5px,#0046fd 165.5px,#007cf7 169.5px,#0090f4 171.5px,#0096f3 172.5px,#0097f2 174.5px,#0090f4 176.5px,#0083f6 178.5px,#004dfc 184.5px,#0039fd 187.5px,#002cfe 190.5px,#0021fe 196.5px,#0019ff 210.5px,#0019ff 225.5px,#0022fe 238.5px,#002efe 247.5px,#0035fe 249.5px,#0043fd 251.5px,#004ffc 252.5px,#005ffa 253.5px,#0075f8 254.5px,#00acee 256.5px,#00c8e6 257.5px,#05e0db 258.5px,#2cf0d0 259.5px,#4dfac6 260.5px,#63fdbe 261.5px,#6cfebb 262.5px,#66febd 263.5px,#52fbc4 264.5px,#33f3ce 265.5px,#0de3d9 266.5px,#00cde4 267.5px,#0094f3 269.5px,#0063fa 271.5px,#0052fc 272.5px,#0045fd 273.5px,#0036fe 275.5px,#002bfe 279.5px,#001fff 291.5px,#001fff 299.5px,#0024fe 301.5px,#002afe 302.5px,#0034fe 303.5px,#0042fd 304.5px,#0056fb 305.5px,#006ff9 306.5px,#00a9ef 308.5px,#00c1e8 309.5px,#00d2e2 310.5px,#00dbde 311.5px,#00dddd 312.5px,#00d6e0 313.5px,#00c8e6 314.5px,#00b2ec 315.5px,#0078f7 317.5px,#005cfb 318.5px,#0045fd 319.5px,#0033fe 320.5px,#0027fe 321.5px,#001aff 323.5px,#0013ff 327.5px,#0011ff 329.5px,#0000ff 330.5px,#0000ff 344.5px)"></i>
<i style="left:273px;width:3px;background:linear-gradient(#0002ff 0.5px,#0005ff 129.5px,#000bff 151.5px,#0011ff 157.5px,#001eff 161.5px,#002cfe 163.5px,#003ffd 165.5px,#007bf7 170.5px,#0089f5 172.5px,#008af5 174.5px,#0084f6 176.5px,#0067fa 180.5px,#003ffd 185.5px,#002ffe 188.5px,#0022fe 193.5px,#001aff 202.5px,#0017ff 221.5px,#001fff 236.5px,#002cfe 246.5px,#0035fe 249.5px,#003afd 250.5px,#004efc 252.5px,#005ffa 253.5px,#0074f8 254.5px,#00abee 256.5px,#00c7e6 257.5px,#04dfdc 258.5px,#2bf0d1 259.5px,#4cf9c6 260.5px,#62fdbf 261.5px,#6bfebc 262.5px,#65fdbe 263.5px,#51fac5 264.5px,#32f2ce 265.5px,#0ce3da 266.5px,#00cce4 267.5px,#0094f3 269.5px,#0079f7 270.5px,#0063fa 271.5px,#0052fc 272.5px,#0045fd 273.5px,#0036fe 275.5px,#002bfe 279.5px,#0020fe 289.5px,#001fff 298.5px,#0025fe 301.5px,#002bfe 302.5px,#0035fe 303.5px,#0044fd 304.5px,#0059fb 305.5px,#0092f3 307.5px,#00afed 308.5px,#00c8e6 309.5px,#00d9df 310.5px,#0ae2da 311.5px,#0de3d9 312.5px,#00dddd 313.5px,#00cfe3 314.5px,#00b8ea 315.5px,#007df7 317.5px,#0060fa 318.5px,#0047fc 319.5px,#0035fe 320.5px,#0020fe 322.5px,#0018ff 324.5px,#0011ff 329.5px,#0000ff 330.5px,#0000ff 344.5px)"></i>
<i style="left:276px;width:4px;background:linear-gradient(#0002ff 0.5px,#0005ff 131.5px,#000bff 152.5px,#0010ff 157.5px,#001bff 161.5px,#002ffe 164.5px,#004efc 167.5px,#006ef9 170.5px,#007bf7 172.5px,#007cf7 174.5px,#0076f8 176.5px,#0064fa 179.5px,#003ffd 184.5px,#002ffe 187.5px,#0022fe 191.5px,#0019ff 200.5px,#0016ff 217.5px,#001bff 232.5px,#0029fe 245.5px,#0034fe 249.5px,#0042fd 251.5px,#004efc 252.5px,#005efa 253.5px,#0073f8 254.5px,#00aaee 256.5px,#00c6e6 257.5px,#02dedc 258.5px,#29efd1 259.5px,#49f9c7 260.5px,#5ffdc0 261.5px,#68febd 262.5px,#62fdbf 263.5px,#4ffac5 264.5px,#30f2cf 265.5px,#0ae2da 266.5px,#00cbe4 267.5px,#0093f3 269.5px,#0078f7 270.5px,#0062fa 271.5px,#0051fc 272.5px,#0044fd 273.5px,#0036fe 275.5px,#002efe 277.5px,#0022fe 286.5px,#001eff 296.5px,#0022fe 300.5px,#002cfe 302.5px,#0037fe 303.5px,#0047fc 304.5px,#005dfb 305.5px,#0098f2 307.5px,#00b6eb 308.5px,#00cee3 309.5px,#05dfdc 310.5px,#17e8d7 311.5px,#19e9d6 312.5px,#0de3d9 313.5px,#00d5e0 314.5px,#00bfe8 315.5px,#0082f6 317.5px,#0064fa 318.5px,#004afc 319.5px,#0037fd 320.5px,#002afe 321.5px,#0021fe 322.5px,#0018ff 324.5px,#0012ff 329.5px,#0000ff 330.5px,#0000ff 344.5px)"></i>
<i style="left:280px;width:3px;background:linear-gradient(#0002ff 0.5px,#0005ff 134.5px,#000bff 154.5px,#0012ff 159.5px,#001dff 162.5px,#0029fe 164.5px,#0060fa 170.5px,#006cf9 172.5px,#006df9 174.5px,#0068f9 176.5px,#0051fc 180.5px,#0032fe 185.5px,#0023fe 189.5px,#001aff 195.5px,#0015ff 207.5px,#0015ff 221.5px,#001dff 235.5px,#002afe 246.5px,#0033fe 249.5px,#0041fd 251.5px,#004dfc 252.5px,#005dfb 253.5px,#0072f8 254.5px,#008bf4 255.5px,#00c4e7 257.5px,#00dcdd 258.5px,#25eed2 259.5px,#45f8c8 260.5px,#5bfcc1 261.5px,#64fdbe 262.5px,#5efdc0 263.5px,#4bf9c7 264.5px,#2df0d0 265.5px,#07e1db 266.5px,#00cae5 267.5px,#0091f3 269.5px,#0077f8 270.5px,#0061fa 271.5px,#0050fc 272.5px,#0043fd 273.5px,#0035fe 275.5px,#002afe 279.5px,#0020fe 289.5px,#001fff 298.5px,#0027fe 301.5px,#002dfe 302.5px,#0038fd 303.5px,#0049fc 304.5px,#0060fa 305.5px,#009df1 307.5px,#00bce9 308.5px,#00d5e1 309.5px,#10e5d8 310.5px,#23edd3 311.5px,#26eed2 312.5px,#19e9d6 313.5px,#00dbde 314.5px,#00c5e6 315.5px,#00a8ef 316.5px,#0067f9 318.5px,#004dfc 319.5px,#0039fd 320.5px,#002bfe 321.5px,#0022fe 322.5px,#0019ff 324.5px,#0012ff 329.5px,#0000ff 330.5px,#0000ff 344.5px)"></i>
<i style="left:283px;width:3px;background:linear-gradient(#0002ff 0.5px,#0005ff 136.5px,#000bff 155.5px,#0012ff 160.5px,#001eff 163.5px,#0032fe 166.5px,#0053fc 170.5px,#005cfb 172.5px,#005dfb 174.5px,#0059fb 176.5px,#003afd 182.5px,#0027fe 186.5px,#001cff 190.5px,#0015ff 198.5px,#0013ff 218.5px,#001bff 234.5px,#0029fe 246.5px,#0032fe 249.5px,#0040fd 251.5px,#004bfc 252.5px,#005bfb 253.5px,#0070f8 254.5px,#0089f5 255.5px,#00c2e8 257.5px,#00dade 258.5px,#21ecd4 259.5px,#40f6ca 260.5px,#56fbc3 261.5px,#5efdc0 262.5px,#59fcc2 263.5px,#46f8c8 264.5px,#28efd2 265.5px,#03dedc 266.5px,#00c7e6 267.5px,#008ff4 269.5px,#0075f8 270.5px,#005ffa 271.5px,#0042fd 273.5px,#0034fe 275.5px,#0029fe 279.5px,#001fff 291.5px,#0020ff 298.5px,#0023fe 300.5px,#002efe 302.5px,#003afd 303.5px,#004bfc 304.5px,#0063fa 305.5px,#00a2f0 307.5px,#00c2e8 308.5px,#00dade 309.5px,#1cead5 310.5px,#30f1cf 311.5px,#33f2ce 312.5px,#25eed3 313.5px,#08e1db 314.5px,#00cbe4 315.5px,#008cf4 317.5px,#006bf9 318.5px,#0050fc 319.5px,#003bfd 320.5px,#002dfe 321.5px,#0023fe 322.5px,#0019ff 324.5px,#0012ff 329.5px,#0000ff 330.5px,#0000ff 344.5px)"></i>
<i style="left:286px;width:3px;background:linear-gradient(#0002ff 0.5px,#0005ff 140.5px,#000bff 157.5px,#0015ff 162.5px,#002afe 166.5px,#0045fd 170.5px,#004dfc 172.5px,#004dfc 175.5px,#003afd 180.5px,#0021fe 186.5px,#0016ff 192.5px,#0011ff 206.5px,#0014ff 225.5px,#001fff 239.5px,#002afe 247.5px,#0036fe 250.5px,#0049fc 252.5px,#0059fb 253.5px,#006ef9 254.5px,#00a3f0 256.5px,#00bfe9 257.5px,#00d7df 258.5px,#1bead5 259.5px,#3af5cc 260.5px,#4ffac5 261.5px,#57fcc3 262.5px,#52fbc4 263.5px,#3ff6cb 264.5px,#22ecd3 265.5px,#00dcdd 266.5px,#00a9ee 268.5px,#0073f8 270.5px,#005efb 271.5px,#004dfc 272.5px,#0041fd 273.5px,#0033fe 275.5px,#002afe 278.5px,#0020fe 288.5px,#001fff 297.5px,#0024fe 300.5px,#002ffe 302.5px,#003bfd 303.5px,#004efc 304.5px,#0067fa 305.5px,#00a7ef 307.5px,#00c7e6 308.5px,#05dfdb 309.5px,#27eed2 310.5px,#3cf5cc 311.5px,#3ff6ca 312.5px,#31f2cf 313.5px,#13e6d8 314.5px,#00d1e2 315.5px,#00b3ec 316.5px,#006ff9 318.5px,#0053fc 319.5px,#003dfd 320.5px,#002efe 321.5px,#0024fe 322.5px,#001aff 324.5px,#0013ff 329.5px,#0000ff 330.5px,#0000ff 344.5px)"></i>
<i style="left:289px;width:3px;background:linear-gradient(#0002ff 0.5px,#0005ff 143.5px,#000aff 157.5px,#000fff 161.5px,#001dff 165.5px,#003cfd 171.5px,#0040fd 173.5px,#003afd 177.5px,#001eff 185.5px,#0016ff 189.5px,#0010ff 198.5px,#0011ff 220.5px,#001aff 235.5px,#0025fe 245.5px,#002ffe 249.5px,#003cfd 251.5px,#0057fb 253.5px,#006bf9 254.5px,#009ff1 256.5px,#00d4e1 258.5px,#14e7d7 259.5px,#32f2cf 260.5px,#47f8c8 261.5px,#4ffac5 262.5px,#4af9c7 263.5px,#37f4cd 264.5px,#1bead5 265.5px,#00d8df 266.5px,#00c1e8 267.5px,#008af5 269.5px,#0071f8 270.5px,#005cfb 271.5px,#004bfc 272.5px,#0038fd 274.5px,#002efe 276.5px,#0023fe 283.5px,#001eff 295.5px,#0021fe 299.5px,#0028fe 301.5px,#0030fe 302.5px,#003dfd 303.5px,#0050fc 304.5px,#006af9 305.5px,#00acee 307.5px,#00cce4 308.5px,#0fe4d9 309.5px,#33f2ce 310.5px,#48f8c8 311.5px,#4cf9c6 312.5px,#3df5cb 313.5px,#1debd5 314.5px,#00d6e0 315.5px,#00b8eb 316.5px,#0073f8 318.5px,#0055fb 319.5px,#003ffd 320.5px,#002ffe 321.5px,#001eff 323.5px,#0016ff 326.5px,#0013ff 329.5px,#0000ff 330.5px,#0000ff 344.5px)"></i>
<i style="left:292px;width:3px;background:linear-gradient(#0002ff 0.5px,#0005ff 147.5px,#000aff 159.5px,#0014ff 164.5px,#002ffe 171.5px,#0032fe 174.5px,#0028fe 179.5px,#0016ff 186.5px,#000fff 194.5px,#000fff 217.5px,#0018ff 234.5px,#0024fe 245.5px,#002efe 249.5px,#003bfd 251.5px,#0045fd 252.5px,#0054fb 253.5px,#0068f9 254.5px,#009bf1 256.5px,#00d0e3 258.5px,#0ce3da 259.5px,#29efd1 260.5px,#3df6cb 261.5px,#45f8c9 262.5px,#40f6ca 263.5px,#2ff1d0 264.5px,#13e6d8 265.5px,#00d4e1 266.5px,#00bde9 267.5px,#0086f5 269.5px,#0059fb 271.5px,#0049fc 272.5px,#0036fe 274.5px,#002afe 277.5px,#001fff 288.5px,#001fff 297.5px,#0024fe 300.5px,#0031fe 302.5px,#003efd 303.5px,#0052fc 304.5px,#006df9 305.5px,#00b1ec 307.5px,#00d1e2 308.5px,#19e9d6 309.5px,#3ef6cb 310.5px,#54fbc4 311.5px,#58fcc2 312.5px,#48f8c8 313.5px,#28efd2 314.5px,#00dbde 315.5px,#00bde9 316.5px,#0076f8 318.5px,#0058fb 319.5px,#0041fd 320.5px,#0030fe 321.5px,#001fff 323.5px,#0016ff 326.5px,#0013ff 329.5px,#0000ff 330.5px,#0000ff 344.5px)"></i>
<i style="left:295px;width:3px;background:linear-gradient(#0002ff 0.5px,#0005ff 150.5px,#000aff 161.5px,#0012ff 165.5px,#0025fe 172.5px,#0023fe 176.5px,#0011ff 187.5px,#000cff 197.5px,#000fff 221.5px,#001aff 238.5px,#0026fe 247.5px,#0031fe 250.5px,#0043fd 252.5px,#0052fc 253.5px,#0065fa 254.5px,#007cf7 255.5px,#00b2ec 257.5px,#00cbe4 258.5px,#03dedc 259.5px,#20ebd4 260.5px,#33f2ce 261.5px,#3bf5cc 262.5px,#36f3ce 263.5px,#25edd3 264.5px,#0ae2da 265.5px,#00d0e3 266.5px,#009df1 268.5px,#006af9 270.5px,#0056fb 271.5px,#0047fc 272.5px,#0034fe 274.5px,#0029fe 277.5px,#001fff 287.5px,#001fff 297.5px,#0024fe 300.5px,#0029fe 301.5px,#0032fe 302.5px,#0040fd 303.5px,#0054fb 304.5px,#0070f8 305.5px,#00b6eb 307.5px,#00d6e0 308.5px,#23edd3 309.5px,#49f9c7 310.5px,#60fdc0 311.5px,#64fdbe 312.5px,#54fbc4 313.5px,#32f2cf 314.5px,#05dfdb 315.5px,#00c2e8 316.5px,#007af7 318.5px,#005afb 319.5px,#0042fd 320.5px,#0031fe 321.5px,#0026fe 322.5px,#001bff 324.5px,#0013ff 329.5px,#0000ff 330.5px,#0000ff 344.5px)"></i>
<i style="left:298px;width:4px;background:linear-gradient(#0002ff 0.5px,#0005ff 154.5px,#000aff 163.5px,#001aff 172.5px,#0017ff 178.5px,#000bff 190.5px,#000cff 214.5px,#0014ff 232.5px,#0021fe 245.5px,#002afe 249.5px,#0036fe 251.5px,#004ffc 253.5px,#0061fa 254.5px,#0092f3 256.5px,#00c6e6 258.5px,#00d9df 259.5px,#15e7d7 260.5px,#27efd2 261.5px,#2ff1d0 262.5px,#2aefd1 263.5px,#1ae9d6 264.5px,#00dddd 265.5px,#00cae5 266.5px,#00b3ec 267.5px,#007ef7 269.5px,#0053fb 271.5px,#003afd 273.5px,#002efe 275.5px,#0026fe 278.5px,#001eff 288.5px,#001fff 297.5px,#0025fe 300.5px,#002afe 301.5px,#0033fe 302.5px,#0041fd 303.5px,#0056fb 304.5px,#0073f8 305.5px,#0095f3 306.5px,#00baea 307.5px,#00dade 308.5px,#2cf0d0 309.5px,#54fbc4 310.5px,#6cfebb 311.5px,#70feba 312.5px,#5ffdc0 313.5px,#3cf5cb 314.5px,#0ee4d9 315.5px,#00c6e6 316.5px,#007df7 318.5px,#005dfb 319.5px,#0044fd 320.5px,#0033fe 321.5px,#0027fe 322.5px,#001cff 324.5px,#0013ff 329.5px,#0000ff 330.5px,#0000ff 344.5px)"></i>
<i style="left:302px;width:3px;background:linear-gradient(#0002ff 0.5px,#0004ff 152.5px,#0009ff 164.5px,#0012ff 173.5px,#0009ff 191.5px,#000cff 218.5px,#0017ff 237.5px,#0023fe 247.5px,#002dfe 250.5px,#003efd 252.5px,#004bfc 253.5px,#005dfb 254.5px,#0073f8 255.5px,#00a7ef 257.5px,#00bfe8 258.5px,#00d3e1 259.5px,#09e1da 260.5px,#1bead5 261.5px,#22ecd3 262.5px,#1eebd5 263.5px,#0ee4d9 264.5px,#00d7e0 265.5px,#00c4e7 266.5px,#0093f3 268.5px,#0079f7 269.5px,#0050fc 271.5px,#0042fd 272.5px,#0031fe 274.5px,#0029fe 276.5px,#001fff 284.5px,#001dff 294.5px,#0022fe 299.5px,#002afe 301.5px,#0033fe 302.5px,#0042fd 303.5px,#0058fb 304.5px,#0075f8 305.5px,#00bee9 307.5px,#03dedc 308.5px,#35f3ce 309.5px,#5efdc0 310.5px,#77ffb7 311.5px,#7cffb6 312.5px,#6afebc 313.5px,#46f8c8 314.5px,#16e7d7 315.5px,#00cbe5 316.5px,#0080f6 318.5px,#005ffa 319.5px,#0046fd 320.5px,#0034fe 321.5px,#0028fe 322.5px,#001cff 324.5px,#0015ff 328.5px,#0014ff 329.5px,#0000ff 330.5px,#0000ff 344.5px)"></i>
<i style="left:305px;width:3px;background:linear-gradient(#0002ff 0.5px,#0004ff 157.5px,#000cff 174.5px,#0008ff 192.5px,#000bff 217.5px,#0015ff 236.5px,#0021fe 247.5px,#002bfe 250.5px,#003bfd 252.5px,#0048fc 253.5px,#0059fb 254.5px,#006ef9 255.5px,#00b9ea 258.5px,#00cde4 259.5px,#00dbde 260.5px,#0ee4d9 261.5px,#15e7d7 262.5px,#10e5d8 263.5px,#01dedd 264.5px,#00d0e2 265.5px,#00bde9 266.5px,#0074f8 269.5px,#005efa 270.5px,#003ffd 272.5px,#002ffe 274.5px,#0027fe 276.5px,#001fff 283.5px,#001dff 292.5px,#0020ff 298.5px,#0025fe 300.5px,#0034fe 302.5px,#0043fd 303.5px,#005afb 304.5px,#0078f7 305.5px,#009df1 306.5px,#00c2e7 307.5px,#0ae2da 308.5px,#3ef6cb 309.5px,#69febc 310.5px,#83ffb3 311.5px,#87ffb2 312.5px,#75ffb8 313.5px,#50fac5 314.5px,#1eebd5 315.5px,#00cfe3 316.5px,#0083f6 318.5px,#0062fa 319.5px,#0047fc 320.5px,#0035fe 321.5px,#0029fe 322.5px,#0021fe 323.5px,#0016ff 327.5px,#0014ff 329.5px,#0000ff 330.5px,#0000ff 344.5px)"></i>
<i style="left:308px;width:3px;background:linear-gradient(#0002ff 0.5px,#0004ff 161.5px,#0008ff 177.5px,#0007ff 201.5px,#000fff 229.5px,#001aff 243.5px,#0025fe 249.5px,#002ffe 251.5px,#0044fd 253.5px,#0069f9 255.5px,#0099f2 257.5px,#00b1ec 258.5px,#00c5e7 259.5px,#00d4e1 260.5px,#00dddd 261.5px,#06e0db 262.5px,#02dedc 263.5px,#00d6e0 264.5px,#00c9e5 265.5px,#00b6eb 266.5px,#006ff9 269.5px,#005afb 270.5px,#0049fc 271.5px,#003cfd 272.5px,#002dfe 274.5px,#0022fe 278.5px,#001cff 290.5px,#0020ff 298.5px,#0025fe 300.5px,#002bfe 301.5px,#0035fe 302.5px,#0044fd 303.5px,#005bfb 304.5px,#007bf7 305.5px,#00a0f1 306.5px,#00c6e6 307.5px,#11e5d8 308.5px,#47f8c8 309.5px,#73ffb9 310.5px,#8effaf 311.5px,#92fead 312.5px,#80ffb4 313.5px,#59fcc2 314.5px,#26eed2 315.5px,#00d3e1 316.5px,#00aeed 317.5px,#0087f5 318.5px,#0064fa 319.5px,#0049fc 320.5px,#0036fe 321.5px,#002afe 322.5px,#001dff 324.5px,#0015ff 328.5px,#0014ff 329.5px,#0000ff 330.5px,#0000ff 344.5px)"></i>
<i style="left:311px;width:3px;background:linear-gradient(#0002ff 0.5px,#0004ff 163.5px,#0006ff 188.5px,#000bff 221.5px,#0016ff 240.5px,#0020fe 248.5px,#0027fe 250.5px,#0035fe 252.5px,#0050fc 254.5px,#007af7 256.5px,#00a9ee 258.5px,#00bde9 259.5px,#00cce4 260.5px,#00d5e1 261.5px,#00d8df 262.5px,#00d6e0 263.5px,#00cee3 264.5px,#00c1e8 265.5px,#00aeed 266.5px,#0069f9 269.5px,#0055fb 270.5px,#0045fd 271.5px,#0039fd 272.5px,#002bfe 274.5px,#0022fe 277.5px,#001cff 286.5px,#001dff 296.5px,#0025fe 300.5px,#002bfe 301.5px,#0035fe 302.5px,#0045fd 303.5px,#005dfb 304.5px,#007df7 305.5px,#00a3f0 306.5px,#00cae5 307.5px,#18e9d6 308.5px,#50fac5 309.5px,#7dffb5 310.5px,#98feab 311.5px,#9dfda9 312.5px,#8affb0 313.5px,#63fdbf 314.5px,#2ef1d0 315.5px,#00d6e0 316.5px,#0089f5 318.5px,#0066fa 319.5px,#004afc 320.5px,#0037fd 321.5px,#002afe 322.5px,#001dff 324.5px,#0014ff 329.5px,#0000ff 330.5px,#0000ff 344.5px)"></i>
<i style="left:314px;width:3px;background:linear-gradient(#0002ff 0.5px,#0004ff 161.5px,#0008ff 176.5px,#0006ff 196.5px,#000cff 225.5px,#0017ff 242.5px,#001fff 248.5px,#0025fe 250.5px,#0032fe 252.5px,#003dfd 253.5px,#005efa 255.5px,#008af5 257.5px,#00b4ec 259.5px,#00c3e7 260.5px,#00cce4 261.5px,#00cfe3 262.5px,#00cde4 263.5px,#00c5e7 264.5px,#00b7eb 265.5px,#00a5ef 266.5px,#0063fa 269.5px,#0042fd 271.5px,#0036fe 272.5px,#0029fe 274.5px,#0022fe 276.5px,#001cff 283.5px,#001cff 295.5px,#0022fe 299.5px,#0025fe 300.5px,#0036fe 302.5px,#0046fd 303.5px,#005ffa 304.5px,#007ff6 305.5px,#00a6ef 306.5px,#00cde4 307.5px,#1febd4 308.5px,#58fcc2 309.5px,#86ffb2 310.5px,#a3fca7 311.5px,#a7fca5 312.5px,#94fead 313.5px,#6cfebc 314.5px,#36f3ce 315.5px,#00dade 316.5px,#00b5ec 317.5px,#008cf4 318.5px,#0068f9 319.5px,#004cfc 320.5px,#0038fd 321.5px,#002bfe 322.5px,#001eff 324.5px,#0015ff 328.5px,#0014ff 329.5px,#0000ff 330.5px,#0000ff 344.5px)"></i>
<i style="left:317px;width:3px;background:linear-gradient(#0002ff 0.5px,#0004ff 159.5px,#000bff 174.5px,#0007ff 194.5px,#000bff 224.5px,#0016ff 242.5px,#001dff 248.5px,#0023fe 250.5px,#002ffe 252.5px,#0039fd 253.5px,#0058fb 255.5px,#00aaee 259.5px,#00b9ea 260.5px,#00c2e8 261.5px,#00c5e6 262.5px,#00c3e7 263.5px,#00bbea 264.5px,#00aeed 265.5px,#0087f5 267.5px,#005dfb 269.5px,#003efd 271.5px,#0033fe 272.5px,#0026fe 274.5px,#001eff 278.5px,#001aff 289.5px,#001eff 297.5px,#0025fe 300.5px,#0036fe 302.5px,#0047fc 303.5px,#0060fa 304.5px,#0082f6 305.5px,#00d0e3 307.5px,#26eed2 308.5px,#60fdc0 309.5px,#90feae 310.5px,#acfba3 311.5px,#b1faa1 312.5px,#9dfda9 313.5px,#74ffb8 314.5px,#3df5cb 315.5px,#00dddd 316.5px,#00b8eb 317.5px,#008ff4 318.5px,#006af9 319.5px,#004dfc 320.5px,#0039fd 321.5px,#002cfe 322.5px,#0023fe 323.5px,#001bff 325.5px,#0014ff 329.5px,#0000ff 330.5px,#0000ff 344.5px)"></i>
<i style="left:320px;width:4px;background:linear-gradient(#0002ff 0.5px,#0004ff 156.5px,#0009ff 165.5px,#0012ff 173.5px,#0008ff 191.5px,#000aff 221.5px,#0014ff 241.5px,#001bff 248.5px,#0025fe 251.5px,#0036fe 253.5px,#0042fd 254.5px,#0065fa 256.5px,#00a0f1 259.5px,#00aeed 260.5px,#00b7eb 261.5px,#00baea 262.5px,#00b8ea 263.5px,#00b0ed 264.5px,#00a3f0 265.5px,#007ef7 267.5px,#0057fb 269.5px,#003afd 271.5px,#0029fe 273.5px,#0021fe 275.5px,#001cff 279.5px,#0019ff 290.5px,#001fff 298.5px,#0025fe 300.5px,#002cfe 301.5px,#0037fd 302.5px,#0048fc 303.5px,#0062fa 304.5px,#0084f6 305.5px,#00acee 306.5px,#00d3e1 307.5px,#2cf0d0 308.5px,#68febd 309.5px,#99feab 310.5px,#b6f99f 311.5px,#bbf79d 312.5px,#a7fca5 313.5px,#7cffb5 314.5px,#44f7c9 315.5px,#05e0db 316.5px,#00bbea 317.5px,#006cf9 319.5px,#004ffc 320.5px,#003afd 321.5px,#002cfe 322.5px,#001eff 324.5px,#0016ff 328.5px,#0015ff 329.5px,#0000ff 330.5px,#0000ff 344.5px)"></i>
<i style="left:324px;width:3px;background:linear-gradient(#0002ff 0.5px,#0004ff 152.5px,#0009ff 162.5px,#001aff 172.5px,#0017ff 178.5px,#000bff 188.5px,#0009ff 208.5px,#000dff 231.5px,#0018ff 247.5px,#0023fe 251.5px,#0032fe 253.5px,#003dfd 254.5px,#005dfb 256.5px,#0084f6 258.5px,#0095f3 259.5px,#00a2f0 260.5px,#00abee 261.5px,#00afed 262.5px,#00adee 263.5px,#00a5ef 264.5px,#0088f5 266.5px,#0051fc 269.5px,#0036fe 271.5px,#0026fe 273.5px,#001dff 276.5px,#0018ff 286.5px,#001dff 297.5px,#0021fe 299.5px,#002cfe 301.5px,#0038fd 302.5px,#0049fc 303.5px,#0063fa 304.5px,#0086f5 305.5px,#00aeed 306.5px,#00d6e0 307.5px,#32f2ce 308.5px,#6ffeba 309.5px,#a1fda7 310.5px,#bff69b 311.5px,#c4f599 312.5px,#b0faa2 313.5px,#84ffb2 314.5px,#4bf9c7 315.5px,#0be2da 316.5px,#00bee9 317.5px,#0094f3 318.5px,#006ef9 319.5px,#0050fc 320.5px,#003bfd 321.5px,#002dfe 322.5px,#0024fe 323.5px,#001bff 325.5px,#0015ff 329.5px,#0000ff 330.5px,#0000ff 344.5px)"></i>
<i style="left:327px;width:3px;background:linear-gradient(#0002ff 0.5px,#0004ff 149.5px,#0009ff 161.5px,#0017ff 167.5px,#0023fe 171.5px,#0024fe 175.5px,#001cff 180.5px,#000fff 187.5px,#000aff 197.5px,#000bff 225.5px,#0015ff 245.5px,#001aff 249.5px,#0026fe 252.5px,#0039fd 254.5px,#0056fb 256.5px,#008af5 259.5px,#0097f2 260.5px,#009ff1 261.5px,#00a2f0 262.5px,#00a0f0 263.5px,#0099f2 264.5px,#007ef7 266.5px,#004bfc 269.5px,#0032fe 271.5px,#0024fe 273.5px,#001dff 275.5px,#0018ff 282.5px,#001aff 294.5px,#0021fe 299.5px,#002dfe 301.5px,#0038fd 302.5px,#004afc 303.5px,#0065fa 304.5px,#0088f5 305.5px,#00b1ec 306.5px,#00d8df 307.5px,#38f4cd 308.5px,#76ffb8 309.5px,#a9fba4 310.5px,#c8f498 311.5px,#cdf295 312.5px,#b8f89e 313.5px,#8cffb0 314.5px,#51fac5 315.5px,#10e5d9 316.5px,#00c0e8 317.5px,#0096f2 318.5px,#0070f8 319.5px,#0051fc 320.5px,#003cfd 321.5px,#002dfe 322.5px,#001fff 324.5px,#0016ff 328.5px,#0015ff 329.5px,#0000ff 330.5px,#0000ff 344.5px)"></i>
<i style="left:330px;width:3px;background:linear-gradient(#0002ff 0.5px,#0004ff 145.5px,#0009ff 159.5px,#0013ff 164.5px,#002ffe 171.5px,#0031fe 174.5px,#002afe 178.5px,#0015ff 186.5px,#000dff 193.5px,#000aff 218.5px,#0011ff 241.5px,#0018ff 249.5px,#0023fe 252.5px,#0034fe 254.5px,#004ffc 256.5px,#007ef7 259.5px,#008af5 260.5px,#0092f3 261.5px,#0096f3 262.5px,#0094f3 263.5px,#008df4 264.5px,#0073f8 266.5px,#0044fd 269.5px,#002efe 271.5px,#0021fe 273.5px,#0019ff 277.5px,#0017ff 289.5px,#001fff 298.5px,#0026fe 300.5px,#002dfe 301.5px,#0038fd 302.5px,#004bfc 303.5px,#0066fa 304.5px,#008af5 305.5px,#00b3ec 306.5px,#00dbde 307.5px,#3ef6cb 308.5px,#7dffb5 309.5px,#b1faa1 310.5px,#d0f194 311.5px,#d6ef92 312.5px,#c0f69b 313.5px,#93fead 314.5px,#57fbc3 315.5px,#15e7d7 316.5px,#00c3e7 317.5px,#0099f2 318.5px,#0072f8 319.5px,#0052fc 320.5px,#003cfd 321.5px,#002efe 322.5px,#001fff 324.5px,#0015ff 329.5px,#0000ff 330.5px,#0000ff 344.5px)"></i>
<i style="left:333px;width:3px;background:linear-gradient(#0002ff 0.5px,#0004ff 142.5px,#0009ff 157.5px,#000eff 161.5px,#001cff 165.5px,#0038fd 170.5px,#003efd 172.5px,#003efd 175.5px,#0032fe 179.5px,#001cff 185.5px,#0014ff 189.5px,#000dff 198.5px,#000bff 225.5px,#0013ff 246.5px,#0019ff 250.5px,#0021fe 252.5px,#0030fe 254.5px,#0048fc 256.5px,#0073f8 259.5px,#007ef7 260.5px,#0085f5 261.5px,#0088f5 262.5px,#0086f5 263.5px,#0080f6 264.5px,#0069f9 266.5px,#003efd 269.5px,#002afe 271.5px,#001fff 273.5px,#0018ff 276.5px,#0016ff 288.5px,#001dff 297.5px,#0021fe 299.5px,#002dfe 301.5px,#0039fd 302.5px,#004cfc 303.5px,#0067f9 304.5px,#008cf4 305.5px,#00b5eb 306.5px,#00dddd 307.5px,#43f7c9 308.5px,#84ffb3 309.5px,#b8f89e 310.5px,#d8ee91 311.5px,#deec8e 312.5px,#c8f498 313.5px,#9afdaa 314.5px,#5dfcc1 315.5px,#19e9d6 316.5px,#00c5e6 317.5px,#009bf2 318.5px,#0073f8 319.5px,#0054fb 320.5px,#003dfd 321.5px,#002ffe 322.5px,#0025fe 323.5px,#001cff 325.5px,#0015ff 329.5px,#0000ff 330.5px,#0000ff 344.5px)"></i>
<i style="left:336px;width:3px;background:linear-gradient(#0002ff 0.5px,#0004ff 139.5px,#0009ff 156.5px,#0011ff 161.5px,#001dff 164.5px,#0045fd 170.5px,#004dfc 172.5px,#004efc 174.5px,#0046fd 177.5px,#0022fe 185.5px,#0016ff 190.5px,#000fff 199.5px,#000bff 221.5px,#0010ff 243.5px,#0017ff 250.5px,#001eff 252.5px,#002bfe 254.5px,#0041fd 256.5px,#0072f8 260.5px,#007bf7 262.5px,#0079f7 263.5px,#006af9 265.5px,#0038fd 269.5px,#0027fe 271.5px,#001dff 273.5px,#0016ff 277.5px,#0016ff 289.5px,#001dff 297.5px,#0021fe 299.5px,#002dfe 301.5px,#0039fd 302.5px,#004cfc 303.5px,#0068f9 304.5px,#008df4 305.5px,#00b7eb 306.5px,#03dfdc 307.5px,#48f8c8 308.5px,#8affb1 309.5px,#bff69b 310.5px,#e0eb8d 311.5px,#e5e98b 312.5px,#cff295 313.5px,#a1fda8 314.5px,#62fdbf 315.5px,#1eebd5 316.5px,#00c7e6 317.5px,#009df1 318.5px,#0075f8 319.5px,#0055fb 320.5px,#003efd 321.5px,#002ffe 322.5px,#0020fe 324.5px,#0018ff 327.5px,#0015ff 329.5px,#0000ff 330.5px,#0000ff 344.5px)"></i>
<i style="left:339px;width:3px;background:linear-gradient(#0002ff 0.5px,#0004ff 136.5px,#0009ff 154.5px,#000dff 158.5px,#0018ff 162.5px,#0029fe 165.5px,#0052fc 170.5px,#005cfb 172.5px,#005dfb 174.5px,#0054fb 177.5px,#0029fe 185.5px,#001cff 189.5px,#0014ff 194.5px,#000dff 212.5px,#000dff 236.5px,#0014ff 249.5px,#001bff 252.5px,#0027fe 254.5px,#0045fd 257.5px,#005cfb 259.5px,#006bf9 261.5px,#006ef9 262.5px,#0067f9 264.5px,#0054fb 266.5px,#0033fe 269.5px,#0023fe 271.5px,#0018ff 274.5px,#0014ff 282.5px,#0019ff 294.5px,#0021fe 299.5px,#002dfe 301.5px,#003afd 302.5px,#004dfc 303.5px,#0069f9 304.5px,#008ff4 305.5px,#00b9ea 306.5px,#07e0db 307.5px,#4cf9c6 308.5px,#8ffeae 309.5px,#c6f599 310.5px,#e7e88a 311.5px,#ece688 312.5px,#d6ef92 313.5px,#a7fca5 314.5px,#67febd 315.5px,#22ecd3 316.5px,#00c9e5 317.5px,#009ff1 318.5px,#0076f8 319.5px,#0056fb 320.5px,#003ffd 321.5px,#0030fe 322.5px,#0026fe 323.5px,#001dff 325.5px,#0015ff 329.5px,#0000ff 330.5px,#0000ff 344.5px)"></i>
<i style="left:342px;width:4px;background:linear-gradient(#0002ff 0.5px,#0004ff 134.5px,#000aff 154.5px,#000eff 158.5px,#001bff 162.5px,#0030fe 165.5px,#0060fa 170.5px,#006bf9 172.5px,#006cf9 174.5px,#0067fa 176.5px,#0048fc 181.5px,#002ffe 185.5px,#0020fe 189.5px,#0016ff 195.5px,#000eff 212.5px,#000dff 237.5px,#0012ff 249.5px,#001dff 253.5px,#0033fe 256.5px,#0051fc 259.5px,#005ffa 261.5px,#0060fa 263.5px,#0054fb 265.5px,#002dfe 269.5px,#0020fe 271.5px,#0016ff 274.5px,#0013ff 282.5px,#0019ff 294.5px,#001eff 298.5px,#0026fe 300.5px,#002efe 301.5px,#003afd 302.5px,#004efc 303.5px,#006af9 304.5px,#0090f4 305.5px,#00bbea 306.5px,#0ae2da 307.5px,#51fac5 308.5px,#94feac 309.5px,#ccf396 310.5px,#ede688 311.5px,#f3e385 312.5px,#dced8f 313.5px,#acfba3 314.5px,#6cfebb 315.5px,#25eed2 316.5px,#00cbe4 317.5px,#00a0f0 318.5px,#0077f7 319.5px,#0057fb 320.5px,#003ffd 321.5px,#0030fe 322.5px,#0026fe 323.5px,#001aff 326.5px,#0016ff 329.5px,#0000ff 330.5px,#0000ff 344.5px)"></i>
<i style="left:346px;width:3px;background:linear-gradient(#0002ff 0.5px,#0004ff 132.5px,#0009ff 151.5px,#0010ff 158.5px,#001fff 162.5px,#0037fd 165.5px,#0064fa 169.5px,#0075f8 171.5px,#007cf7 173.5px,#0079f7 175.5px,#0070f8 177.5px,#0036fe 185.5px,#0024fe 189.5px,#001aff 194.5px,#0010ff 208.5px,#000dff 231.5px,#0010ff 248.5px,#0017ff 252.5px,#001fff 254.5px,#0036fe 257.5px,#004efc 260.5px,#0055fb 262.5px,#0050fc 264.5px,#0028fe 269.5px,#0019ff 272.5px,#0013ff 276.5px,#0014ff 288.5px,#001eff 298.5px,#0026fe 300.5px,#002efe 301.5px,#003afd 302.5px,#004efc 303.5px,#006bf9 304.5px,#0091f3 305.5px,#00bde9 306.5px,#0de3d9 307.5px,#55fbc3 308.5px,#99feab 309.5px,#d1f194 310.5px,#f3e385 311.5px,#f9e082 312.5px,#e1eb8d 313.5px,#b1faa1 314.5px,#70ffba 315.5px,#29efd1 316.5px,#00cde4 317.5px,#00a2f0 318.5px,#0079f7 319.5px,#0058fb 320.5px,#0040fd 321.5px,#0030fe 322.5px,#0021fe 324.5px,#0017ff 328.5px,#0016ff 329.5px,#0000ff 330.5px,#0000ff 344.5px)"></i>
<i style="left:349px;width:3px;background:linear-gradient(#0002ff 0.5px,#0004ff 129.5px,#000aff 152.5px,#0012ff 158.5px,#001dff 161.5px,#002afe 163.5px,#003efd 165.5px,#007af7 170.5px,#0088f5 172.5px,#0089f5 174.5px,#0082f6 176.5px,#0076f8 178.5px,#0044fd 184.5px,#0031fe 187.5px,#0025fe 190.5px,#001dff 194.5px,#0013ff 205.5px,#000dff 227.5px,#000fff 248.5px,#0015ff 252.5px,#0021fe 255.5px,#0044fd 260.5px,#0049fc 262.5px,#0045fd 264.5px,#001eff 270.5px,#0013ff 274.5px,#0012ff 284.5px,#0019ff 295.5px,#0021fe 299.5px,#002efe 301.5px,#003bfd 302.5px,#004ffc 303.5px,#006cf9 304.5px,#0093f3 305.5px,#00bee9 306.5px,#10e5d9 307.5px,#58fcc2 308.5px,#9dfda9 309.5px,#d6ef92 310.5px,#f8e083 311.5px,#fedd80 312.5px,#e7e88a 313.5px,#b6f99f 314.5px,#74ffb8 315.5px,#2cf0d0 316.5px,#00cee3 317.5px,#00a3f0 318.5px,#007af7 319.5px,#0058fb 320.5px,#0040fd 321.5px,#0031fe 322.5px,#0027fe 323.5px,#001dff 325.5px,#0016ff 329.5px,#0000ff 330.5px,#0000ff 344.5px)"></i>
<i style="left:352px;width:3px;background:linear-gradient(#0002ff 0.5px,#0004ff 128.5px,#000aff 150.5px,#0011ff 157.5px,#0020ff 161.5px,#002ffe 163.5px,#0044fd 165.5px,#0086f5 170.5px,#0095f3 172.5px,#0096f2 174.5px,#008ff4 176.5px,#0079f7 179.5px,#004afc 184.5px,#0031fe 188.5px,#0023fe 192.5px,#0019ff 200.5px,#0010ff 215.5px,#000dff 238.5px,#0010ff 250.5px,#0019ff 254.5px,#002ffe 258.5px,#003afd 260.5px,#003ffd 262.5px,#003bfd 264.5px,#001bff 270.5px,#0013ff 273.5px,#0011ff 282.5px,#0018ff 294.5px,#0021fe 299.5px,#002efe 301.5px,#003bfd 302.5px,#004ffc 303.5px,#006df9 304.5px,#0094f3 305.5px,#00bfe8 306.5px,#12e6d8 307.5px,#5bfcc1 308.5px,#a1fda7 309.5px,#daed90 310.5px,#fdde80 311.5px,#ffdb7e 312.5px,#ebe688 313.5px,#baf89d 314.5px,#78ffb7 315.5px,#2ff1d0 316.5px,#00d0e3 317.5px,#00a4f0 318.5px,#007bf7 319.5px,#0059fb 320.5px,#0041fd 321.5px,#0031fe 322.5px,#0027fe 323.5px,#001dff 325.5px,#0016ff 329.5px,#0000ff 330.5px,#0000ff 344.5px)"></i>
<i style="left:355px;width:3px;background:linear-gradient(#0002ff 0.5px,#0004ff 126.5px,#0009ff 147.5px,#0011ff 156.5px,#0018ff 159.5px,#0022fe 161.5px,#003dfd 164.5px,#0076f8 168.5px,#0091f3 170.5px,#00a0f0 172.5px,#00a3f0 173.5px,#009ff1 175.5px,#0094f3 177.5px,#0079f7 180.5px,#0048fc 185.5px,#0035fe 188.5px,#0026fe 192.5px,#001aff 200.5px,#000fff 219.5px,#000dff 246.5px,#0013ff 253.5px,#0023fe 257.5px,#0034fe 261.5px,#0034fe 263.5px,#002afe 266.5px,#0018ff 270.5px,#0011ff 274.5px,#0011ff 284.5px,#001aff 296.5px,#0021fe 299.5px,#002efe 301.5px,#003bfd 302.5px,#0050fc 303.5px,#006ef9 304.5px,#0095f3 305.5px,#00c0e8 306.5px,#15e7d7 307.5px,#5efdc0 308.5px,#a5fca6 309.5px,#deec8e 310.5px,#ffdc7e 311.5px,#ffd87c 312.5px,#efe587 313.5px,#bef79c 314.5px,#7bffb6 315.5px,#31f2cf 316.5px,#00d1e2 317.5px,#00a5ef 318.5px,#007cf7 319.5px,#005afb 320.5px,#0041fd 321.5px,#0031fe 322.5px,#0021fe 324.5px,#0018ff 328.5px,#0016ff 329.5px,#0000ff 330.5px,#0000ff 344.5px)"></i>
<i style="left:358px;width:3px;background:linear-gradient(#0002ff 0.5px,#0004ff 125.5px,#000aff 148.5px,#0012ff 156.5px,#001aff 159.5px,#002cfe 162.5px,#0042fd 164.5px,#005ffa 166.5px,#008df4 169.5px,#00a4f0 171.5px,#00adee 173.5px,#00a9ee 175.5px,#009df1 177.5px,#0081f6 180.5px,#004efc 185.5px,#003efd 187.5px,#002ffe 190.5px,#0024fe 194.5px,#0018ff 204.5px,#000fff 223.5px,#000dff 248.5px,#0012ff 253.5px,#001eff 257.5px,#002bfe 261.5px,#002cfe 263.5px,#001cff 268.5px,#0013ff 271.5px,#000fff 276.5px,#0014ff 290.5px,#001eff 298.5px,#0026fe 300.5px,#002efe 301.5px,#003cfd 302.5px,#0050fc 303.5px,#006ef9 304.5px,#0095f3 305.5px,#00c1e8 306.5px,#17e8d7 307.5px,#61fdbf 308.5px,#a8fca5 309.5px,#e2eb8d 310.5px,#ffda7d 311.5px,#ffd67a 312.5px,#f3e385 313.5px,#c1f69b 314.5px,#7effb5 315.5px,#33f3ce 316.5px,#00d2e2 317.5px,#00a6ef 318.5px,#007cf7 319.5px,#005afb 320.5px,#0042fd 321.5px,#0032fe 322.5px,#0028fe 323.5px,#001eff 325.5px,#0016ff 329.5px,#0000ff 330.5px,#0000ff 344.5px)"></i>
<i style="left:361px;width:3px;background:linear-gradient(#0002ff 0.5px,#0004ff 123.5px,#000aff 148.5px,#0011ff 155.5px,#001cff 159.5px,#0027fe 161.5px,#0039fd 163.5px,#0054fb 165.5px,#0095f3 169.5px,#00acee 171.5px,#00b3ec 172.5px,#00b4ec 174.5px,#00acee 176.5px,#009df1 178.5px,#0052fc 185.5px,#0042fd 187.5px,#0032fe 190.5px,#0024fe 195.5px,#0017ff 207.5px,#000eff 227.5px,#000dff 250.5px,#0014ff 255.5px,#0023fe 260.5px,#0025fe 263.5px,#0011ff 271.5px,#000fff 280.5px,#0016ff 292.5px,#001eff 298.5px,#0026fe 300.5px,#002efe 301.5px,#003cfd 302.5px,#0051fc 303.5px,#006ff9 304.5px,#0096f2 305.5px,#00c2e8 306.5px,#18e8d6 307.5px,#63fdbf 308.5px,#aafba4 309.5px,#e4e98b 310.5px,#ffd87b 311.5px,#ffd579 312.5px,#f6e284 313.5px,#c3f599 314.5px,#80ffb4 315.5px,#35f3ce 316.5px,#00d2e2 317.5px,#00a7ef 318.5px,#007df7 319.5px,#005bfb 320.5px,#0042fd 321.5px,#0032fe 322.5px,#0028fe 323.5px,#001eff 325.5px,#0016ff 329.5px,#0000ff 330.5px,#0000ff 344.5px)"></i>
<i style="left:364px;width:4px;background:linear-gradient(#0002ff 0.5px,#0004ff 122.5px,#000aff 147.5px,#0013ff 156.5px,#0022fe 160.5px,#0031fe 162.5px,#0049fc 164.5px,#0068f9 166.5px,#009bf1 169.5px,#00a9ef 170.5px,#00b3ec 171.5px,#00bce9 173.5px,#00b8eb 175.5px,#00acee 177.5px,#008ef4 180.5px,#0056fb 185.5px,#003efd 188.5px,#002dfe 192.5px,#0020fe 199.5px,#0015ff 211.5px,#000dff 234.5px,#000dff 251.5px,#0016ff 257.5px,#001fff 261.5px,#001cff 265.5px,#0010ff 271.5px,#000eff 278.5px,#0016ff 293.5px,#0021fe 299.5px,#002efe 301.5px,#003cfd 302.5px,#0051fc 303.5px,#006ff9 304.5px,#0097f2 305.5px,#00c3e7 306.5px,#19e9d6 307.5px,#64fdbe 308.5px,#acfba3 309.5px,#e7e88a 310.5px,#ffd77a 311.5px,#ffd377 312.5px,#f8e083 313.5px,#c6f599 314.5px,#82ffb4 315.5px,#37f4cd 316.5px,#00d3e1 317.5px,#00a8ef 318.5px,#007df7 319.5px,#005bfb 320.5px,#0042fd 321.5px,#0032fe 322.5px,#0028fe 323.5px,#001eff 325.5px,#0016ff 329.5px,#0000ff 330.5px,#0000ff 344.5px)"></i>
<i style="left:368px;width:3px;background:linear-gradient(#0002ff 0.5px,#0004ff 122.5px,#000aff 146.5px,#0012ff 155.5px,#001aff 158.5px,#0023fe 160.5px,#0033fe 162.5px,#004bfc 164.5px,#00a0f1 169.5px,#00b8eb 171.5px,#00c1e8 173.5px,#00bde9 175.5px,#00b1ed 177.5px,#009ef1 179.5px,#0058fb 185.5px,#0040fd 188.5px,#002efe 192.5px,#0021fe 199.5px,#0014ff 213.5px,#000dff 235.5px,#000dff 252.5px,#0016ff 258.5px,#001bff 263.5px,#000eff 272.5px,#0010ff 285.5px,#001aff 296.5px,#0021fe 299.5px,#0026fe 300.5px,#002ffe 301.5px,#003cfd 302.5px,#0051fc 303.5px,#006ff9 304.5px,#0097f2 305.5px,#00c3e7 306.5px,#1ae9d6 307.5px,#65febe 308.5px,#aefaa2 309.5px,#e8e88a 310.5px,#ffd679 311.5px,#ffd277 312.5px,#fadf82 313.5px,#c7f498 314.5px,#83ffb3 315.5px,#38f4cd 316.5px,#00d4e1 317.5px,#00a8ef 318.5px,#007ef7 319.5px,#005bfb 320.5px,#0043fd 321.5px,#0032fe 322.5px,#0028fe 323.5px,#001eff 325.5px,#0016ff 329.5px,#0000ff 330.5px,#0000ff 344.5px)"></i>
<i style="left:371px;width:3px;background:linear-gradient(#0002ff 0.5px,#0004ff 121.5px,#000aff 146.5px,#0014ff 156.5px,#001eff 159.5px,#002bfe 161.5px,#003ffd 163.5px,#005dfb 165.5px,#00a3f0 169.5px,#00b1ed 170.5px,#00c2e8 172.5px,#00c3e7 174.5px,#00bbea 176.5px,#00abee 178.5px,#0089f5 181.5px,#005afb 185.5px,#0042fd 188.5px,#002ffe 192.5px,#0023fe 198.5px,#0015ff 212.5px,#000dff 235.5px,#000dff 253.5px,#0018ff 262.5px,#000dff 273.5px,#0012ff 288.5px,#001aff 296.5px,#0021fe 299.5px,#0026fe 300.5px,#002ffe 301.5px,#003cfd 302.5px,#0051fc 303.5px,#0070f8 304.5px,#0097f2 305.5px,#00c3e7 306.5px,#1bead5 307.5px,#66febd 308.5px,#affaa2 309.5px,#eae789 310.5px,#ffd579 311.5px,#ffd176 312.5px,#fbdf81 313.5px,#c8f497 314.5px,#84ffb3 315.5px,#38f4cd 316.5px,#00d4e1 317.5px,#00a8ef 318.5px,#007ef7 319.5px,#005bfb 320.5px,#0043fd 321.5px,#0032fe 322.5px,#0028fe 323.5px,#001eff 325.5px,#0016ff 329.5px,#0000ff 330.5px,#0000ff 344.5px)"></i>
<i style="left:374px;width:3px;background:linear-gradient(#0002ff 0.5px,#0004ff 121.5px,#000aff 146.5px,#0013ff 155.5px,#001aff 158.5px,#002bfe 161.5px,#0040fd 163.5px,#005efb 165.5px,#00a4f0 169.5px,#00bde9 171.5px,#00c6e6 173.5px,#00c2e8 175.5px,#00b6eb 177.5px,#0097f2 180.5px,#0066fa 184.5px,#0052fc 186.5px,#003dfd 189.5px,#0030fe 192.5px,#0026fe 196.5px,#0018ff 208.5px,#000eff 229.5px,#000cff 252.5px,#0016ff 262.5px,#0013ff 266.5px,#000dff 274.5px,#0012ff 288.5px,#001aff 296.5px,#0021fe 299.5px,#0026fe 300.5px,#002ffe 301.5px,#003cfd 302.5px,#0051fc 303.5px,#0070f8 304.5px,#0097f2 305.5px,#00c4e7 306.5px,#1bead5 307.5px,#67febd 308.5px,#affaa2 309.5px,#eae789 310.5px,#ffd579 311.5px,#ffd176 312.5px,#fcdf81 313.5px,#c9f497 314.5px,#84ffb3 315.5px,#39f4cd 316.5px,#00d4e1 317.5px,#00a9ef 318.5px,#007ef7 319.5px,#005cfb 320.5px,#0043fd 321.5px,#0032fe 322.5px,#0028fe 323.5px,#001eff 325.5px,#0017ff 329.5px,#0000ff 330.5px,#0000ff 344.5px)"></i>
<i style="left:377px;width:3px;background:linear-gradient(#0002ff 0.5px,#0004ff 121.5px,#000aff 146.5px,#0013ff 155.5px,#001aff 158.5px,#002bfe 161.5px,#0040fd 163.5px,#005efb 165.5px,#00a4f0 169.5px,#00bde9 171.5px,#00c6e6 173.5px,#00c2e8 175.5px,#00b6eb 177.5px,#0097f2 180.5px,#0066fa 184.5px,#0052fc 186.5px,#003dfd 189.5px,#0030fe 192.5px,#0026fe 196.5px,#0018ff 208.5px,#000eff 229.5px,#000cff 252.5px,#0016ff 262.5px,#0013ff 266.5px,#000dff 274.5px,#0012ff 288.5px,#001aff 296.5px,#0021fe 299.5px,#0026fe 300.5px,#002ffe 301.5px,#003cfd 302.5px,#0051fc 303.5px,#0070f8 304.5px,#0097f2 305.5px,#00c4e7 306.5px,#1bead5 307.5px,#67febd 308.5px,#affaa2 309.5px,#eae789 310.5px,#ffd579 311.5px,#ffd176 312.5px,#fcdf81 313.5px,#c9f497 314.5px,#84ffb3 315.5px,#39f4cd 316.5px,#00d4e1 317.5px,#00a9ef 318.5px,#007ef7 319.5px,#005cfb 320.5px,#0043fd 321.5px,#0032fe 322.5px,#0028fe 323.5px,#001eff 325.5px,#0017ff 329.5px,#0000ff 330.5px,#0000ff 344.5px)"></i>
<i style="left:380px;width:3px;background:linear-gradient(#0002ff 0.5px,#0004ff 121.5px,#000aff 146.5px,#0014ff 156.5px,#001eff 159.5px,#002bfe 161.5px,#003ffd 163.5px,#005dfb 165.5px,#00a3f0 169.5px,#00b1ed 170.5px,#00c2e8 172.5px,#00c3e7 174.5px,#00bbea 176.5px,#00abee 178.5px,#0089f5 181.5px,#005afb 185.5px,#0042fd 188.5px,#002ffe 192.5px,#0023fe 198.5px,#0015ff 212.5px,#000dff 235.5px,#000dff 253.5px,#0018ff 262.5px,#000dff 273.5px,#0012ff 288.5px,#001aff 296.5px,#0021fe 299.5px,#0026fe 300.5px,#002ffe 301.5px,#003cfd 302.5px,#0051fc 303.5px,#0070f8 304.5px,#0097f2 305.5px,#00c3e7 306.5px,#1bead5 307.5px,#66febd 308.5px,#affaa2 309.5px,#eae789 310.5px,#ffd579 311.5px,#ffd176 312.5px,#fbdf81 313.5px,#c8f497 314.5px,#84ffb3 315.5px,#38f4cd 316.5px,#00d4e1 317.5px,#00a8ef 318.5px,#007ef7 319.5px,#005bfb 320.5px,#0043fd 321.5px,#0032fe 322.5px,#0028fe 323.5px,#001eff 325.5px,#0016ff 329.5px,#0000ff 330.5px,#0000ff 344.5px)"></i>
<i style="left:383px;width:3px;background:linear-gradient(#0002ff 0.5px,#0004ff 122.5px,#000aff 146.5px,#0012ff 155.5px,#001aff 158.5px,#0023fe 160.5px,#0033fe 162.5px,#004bfc 164.5px,#00a0f1 169.5px,#00b8eb 171.5px,#00c1e8 173.5px,#00bde9 175.5px,#00b1ed 177.5px,#009ef1 179.5px,#0058fb 185.5px,#0040fd 188.5px,#002efe 192.5px,#0021fe 199.5px,#0014ff 213.5px,#000dff 235.5px,#000dff 252.5px,#0016ff 258.5px,#001bff 263.5px,#000eff 272.5px,#0010ff 285.5px,#001aff 296.5px,#0021fe 299.5px,#0026fe 300.5px,#002ffe 301.5px,#003cfd 302.5px,#0051fc 303.5px,#006ff9 304.5px,#0097f2 305.5px,#00c3e7 306.5px,#1ae9d6 307.5px,#65febe 308.5px,#aefaa2 309.5px,#e8e88a 310.5px,#ffd679 311.5px,#ffd277 312.5px,#fadf82 313.5px,#c7f498 314.5px,#83ffb3 315.5px,#38f4cd 316.5px,#00d4e1 317.5px,#00a8ef 318.5px,#007ef7 319.5px,#005bfb 320.5px,#0043fd 321.5px,#0032fe 322.5px,#0028fe 323.5px,#001eff 325.5px,#0016ff 329.5px,#0000ff 330.5px,#0000ff 344.5px)"></i>
<i style="left:386px;width:4px;background:linear-gradient(#0002ff 0.5px,#0004ff 122.5px,#000aff 147.5px,#0013ff 156.5px,#0022fe 160.5px,#0031fe 162.5px,#0049fc 164.5px,#0068f9 166.5px,#009bf1 169.5px,#00a9ef 170.5px,#00b3ec 171.5px,#00bce9 173.5px,#00b8eb 175.5px,#00acee 177.5px,#008ef4 180.5px,#0056fb 185.5px,#003efd 188.5px,#002dfe 192.5px,#0020fe 199.5px,#0015ff 211.5px,#000dff 234.5px,#000dff 251.5px,#0016ff 257.5px,#001fff 261.5px,#001cff 265.5px,#0010ff 271.5px,#000eff 278.5px,#0016ff 293.5px,#0021fe 299.5px,#002efe 301.5px,#003cfd 302.5px,#0051fc 303.5px,#006ff9 304.5px,#0097f2 305.5px,#00c3e7 306.5px,#19e9d6 307.5px,#64fdbe 308.5px,#acfba3 309.5px,#e7e88a 310.5px,#ffd77a 311.5px,#ffd377 312.5px,#f8e083 313.5px,#c6f599 314.5px,#82ffb4 315.5px,#37f4cd 316.5px,#00d3e1 317.5px,#00a8ef 318.5px,#007df7 319.5px,#005bfb 320.5px,#0042fd 321.5px,#0032fe 322.5px,#0028fe 323.5px,#001eff 325.5px,#0016ff 329.5px,#0000ff 330.5px,#0000ff 344.5px)"></i>
<i style="left:390px;width:3px;background:linear-gradient(#0002ff 0.5px,#0004ff 123.5px,#000aff 148.5px,#0011ff 155.5px,#001cff 159.5px,#0027fe 161.5px,#0039fd 163.5px,#0054fb 165.5px,#0095f3 169.5px,#00acee 171.5px,#00b3ec 172.5px,#00b4ec 174.5px,#00acee 176.5px,#009df1 178.5px,#0052fc 185.5px,#0042fd 187.5px,#0032fe 190.5px,#0024fe 195.5px,#0017ff 207.5px,#000eff 227.5px,#000dff 250.5px,#0014ff 255.5px,#0023fe 260.5px,#0025fe 263.5px,#0011ff 271.5px,#000fff 280.5px,#0016ff 292.5px,#001eff 298.5px,#0026fe 300.5px,#002efe 301.5px,#003cfd 302.5px,#0051fc 303.5px,#006ff9 304.5px,#0096f2 305.5px,#00c2e8 306.5px,#18e8d6 307.5px,#63fdbf 308.5px,#aafba4 309.5px,#e4e98b 310.5px,#ffd87b 311.5px,#ffd579 312.5px,#f6e284 313.5px,#c3f599 314.5px,#80ffb4 315.5px,#35f3ce 316.5px,#00d2e2 317.5px,#00a7ef 318.5px,#007df7 319.5px,#005bfb 320.5px,#0042fd 321.5px,#0032fe 322.5px,#0028fe 323.5px,#001eff 325.5px,#0016ff 329.5px,#0000ff 330.5px,#0000ff 344.5px)"></i>
<i style="left:393px;width:3px;background:linear-gradient(#0002ff 0.5px,#0004ff 125.5px,#000aff 148.5px,#0012ff 156.5px,#001aff 159.5px,#002cfe 162.5px,#0042fd 164.5px,#005ffa 166.5px,#008df4 169.5px,#00a4f0 171.5px,#00adee 173.5px,#00a9ee 175.5px,#009df1 177.5px,#0081f6 180.5px,#004efc 185.5px,#003efd 187.5px,#002ffe 190.5px,#0024fe 194.5px,#0018ff 204.5px,#000fff 223.5px,#000dff 248.5px,#0012ff 253.5px,#001eff 257.5px,#002bfe 261.5px,#002cfe 263.5px,#001cff 268.5px,#0013ff 271.5px,#000fff 276.5px,#0014ff 290.5px,#001eff 298.5px,#0026fe 300.5px,#002efe 301.5px,#003cfd 302.5px,#0050fc 303.5px,#006ef9 304.5px,#0095f3 305.5px,#00c1e8 306.5px,#17e8d7 307.5px,#61fdbf 308.5px,#a8fca5 309.5px,#e2eb8d 310.5px,#ffda7d 311.5px,#ffd67a 312.5px,#f3e385 313.5px,#c1f69b 314.5px,#7effb5 315.5px,#33f3ce 316.5px,#00d2e2 317.5px,#00a6ef 318.5px,#007cf7 319.5px,#005afb 320.5px,#0042fd 321.5px,#0032fe 322.5px,#0028fe 323.5px,#001eff 325.5px,#0016ff 329.5px,#0000ff 330.5px,#0000ff 344.5px)"></i>
<i style="left:396px;width:3px;background:linear-gradient(#0002ff 0.5px,#0004ff 126.5px,#0009ff 147.5px,#0011ff 156.5px,#0018ff 159.5px,#0022fe 161.5px,#003dfd 164.5px,#0076f8 168.5px,#0091f3 170.5px,#00a0f0 172.5px,#00a3f0 173.5px,#009ff1 175.5px,#0094f3 177.5px,#0079f7 180.5px,#0048fc 185.5px,#0035fe 188.5px,#0026fe 192.5px,#001aff 200.5px,#000fff 219.5px,#000dff 246.5px,#0013ff 253.5px,#0023fe 257.5px,#0034fe 261.5px,#0034fe 263.5px,#002afe 266.5px,#0018ff 270.5px,#0011ff 274.5px,#0011ff 284.5px,#001aff 296.5px,#0021fe 299.5px,#002efe 301.5px,#003bfd 302.5px,#0050fc 303.5px,#006ef9 304.5px,#0095f3 305.5px,#00c0e8 306.5px,#15e7d7 307.5px,#5efdc0 308.5px,#a5fca6 309.5px,#deec8e 310.5px,#ffdc7e 311.5px,#ffd87c 312.5px,#efe587 313.5px,#bef79c 314.5px,#7bffb6 315.5px,#31f2cf 316.5px,#00d1e2 317.5px,#00a5ef 318.5px,#007cf7 319.5px,#005afb 320.5px,#0041fd 321.5px,#0031fe 322.5px,#0021fe 324.5px,#0018ff 328.5px,#0016ff 329.5px,#0000ff 330.5px,#0000ff 344.5px)"></i>
<i style="left:399px;width:3px;background:linear-gradient(#0002ff 0.5px,#0004ff 128.5px,#000aff 150.5px,#0011ff 157.5px,#0020ff 161.5px,#002ffe 163.5px,#0044fd 165.5px,#0086f5 170.5px,#0095f3 172.5px,#0096f2 174.5px,#008ff4 176.5px,#0079f7 179.5px,#004afc 184.5px,#0031fe 188.5px,#0023fe 192.5px,#0019ff 200.5px,#0010ff 215.5px,#000dff 238.5px,#0010ff 250.5px,#0019ff 254.5px,#002ffe 258.5px,#003afd 260.5px,#003ffd 262.5px,#003bfd 264.5px,#001bff 270.5px,#0013ff 273.5px,#0011ff 282.5px,#0018ff 294.5px,#0021fe 299.5px,#002efe 301.5px,#003bfd 302.5px,#004ffc 303.5px,#006df9 304.5px,#0094f3 305.5px,#00bfe8 306.5px,#12e6d8 307.5px,#5bfcc1 308.5px,#a1fda7 309.5px,#daed90 310.5px,#fdde80 311.5px,#ffdb7e 312.5px,#ebe688 313.5px,#baf89d 314.5px,#78ffb7 315.5px,#2ff1d0 316.5px,#00d0e3 317.5px,#00a4f0 318.5px,#007bf7 319.5px,#0059fb 320.5px,#0041fd 321.5px,#0031fe 322.5px,#0027fe 323.5px,#001dff 325.5px,#0016ff 329.5px,#0000ff 330.5px,#0000ff 344.5px)"></i>
<i style="left:402px;width:3px;background:linear-gradient(#0002ff 0.5px,#0004ff 129.5px,#000aff 152.5px,#0012ff 158.5px,#001dff 161.5px,#002afe 163.5px,#003efd 165.5px,#007af7 170.5px,#0088f5 172.5px,#0089f5 174.5px,#0082f6 176.5px,#0076f8 178.5px,#0044fd 184.5px,#0031fe 187.5px,#0025fe 190.5px,#001dff 194.5px,#0013ff 205.5px,#000dff 227.5px,#000fff 248.5px,#0015ff 252.5px,#0021fe 255.5px,#0044fd 260.5px,#0049fc 262.5px,#0045fd 264.5px,#001eff 270.5px,#0013ff 274.5px,#0012ff 284.5px,#0019ff 295.5px,#0021fe 299.5px,#002efe 301.5px,#003bfd 302.5px,#004ffc 303.5px,#006cf9 304.5px,#0093f3 305.5px,#00bee9 306.5px,#10e5d9 307.5px,#58fcc2 308.5px,#9dfda9 309.5px,#d6ef92 310.5px,#f8e083 311.5px,#fedd80 312.5px,#e7e88a 313.5px,#b6f99f 314.5px,#74ffb8 315.5px,#2cf0d0 316.5px,#00cee3 317.5px,#00a3f0 318.5px,#007af7 319.5px,#0058fb 320.5px,#0040fd 321.5px,#0031fe 322.5px,#0027fe 323.5px,#001dff 325.5px,#0016ff 329.5px,#0000ff 330.5px,#0000ff 344.5px)"></i>
<i style="left:405px;width:3px;background:linear-gradient(#0002ff 0.5px,#0004ff 132.5px,#0009ff 151.5px,#0010ff 158.5px,#001fff 162.5px,#0037fd 165.5px,#0064fa 169.5px,#0075f8 171.5px,#007cf7 173.5px,#0079f7 175.5px,#0070f8 177.5px,#0036fe 185.5px,#0024fe 189.5px,#001aff 194.5px,#0010ff 208.5px,#000dff 231.5px,#0010ff 248.5px,#0017ff 252.5px,#001fff 254.5px,#0036fe 257.5px,#004efc 260.5px,#0055fb 262.5px,#0050fc 264.5px,#0028fe 269.5px,#0019ff 272.5px,#0013ff 276.5px,#0014ff 288.5px,#001eff 298.5px,#0026fe 300.5px,#002efe 301.5px,#003afd 302.5px,#004efc 303.5px,#006bf9 304.5px,#0091f3 305.5px,#00bde9 306.5px,#0de3d9 307.5px,#55fbc3 308.5px,#99feab 309.5px,#d1f194 310.5px,#f3e385 311.5px,#f9e082 312.5px,#e1eb8d 313.5px,#b1faa1 314.5px,#70ffba 315.5px,#29efd1 316.5px,#00cde4 317.5px,#00a2f0 318.5px,#0079f7 319.5px,#0058fb 320.5px,#0040fd 321.5px,#0030fe 322.5px,#0021fe 324.5px,#0017ff 328.5px,#0016ff 329.5px,#0000ff 330.5px,#0000ff 344.5px)"></i>
<i style="left:408px;width:4px;background:linear-gradient(#0002ff 0.5px,#0004ff 134.5px,#000aff 154.5px,#000eff 158.5px,#001bff 162.5px,#0030fe 165.5px,#0060fa 170.5px,#006bf9 172.5px,#006cf9 174.5px,#0067fa 176.5px,#0048fc 181.5px,#002ffe 185.5px,#0020fe 189.5px,#0016ff 195.5px,#000eff 212.5px,#000dff 237.5px,#0012ff 249.5px,#001dff 253.5px,#0033fe 256.5px,#0051fc 259.5px,#005ffa 261.5px,#0060fa 263.5px,#0054fb 265.5px,#002dfe 269.5px,#0020fe 271.5px,#0016ff 274.5px,#0013ff 282.5px,#0019ff 294.5px,#001eff 298.5px,#0026fe 300.5px,#002efe 301.5px,#003afd 302.5px,#004efc 303.5px,#006af9 304.5px,#0090f4 305.5px,#00bbea 306.5px,#0ae2da 307.5px,#51fac5 308.5px,#94feac 309.5px,#ccf396 310.5px,#ede688 311.5px,#f3e385 312.5px,#dced8f 313.5px,#acfba3 314.5px,#6cfebb 315.5px,#25eed2 316.5px,#00cbe4 317.5px,#00a0f0 318.5px,#0077f7 319.5px,#0057fb 320.5px,#003ffd 321.5px,#0030fe 322.5px,#0026fe 323.5px,#001aff 326.5px,#0016ff 329.5px,#0000ff 330.5px,#0000ff 344.5px)"></i>
<i style="left:412px;width:3px;background:linear-gradient(#0002ff 0.5px,#0004ff 136.5px,#0009ff 154.5px,#000dff 158.5px,#0018ff 162.5px,#0029fe 165.5px,#0052fc 170.5px,#005cfb 172.5px,#005dfb 174.5px,#0054fb 177.5px,#0029fe 185.5px,#001cff 189.5px,#0014ff 194.5px,#000dff 212.5px,#000dff 236.5px,#0014ff 249.5px,#001bff 252.5px,#0027fe 254.5px,#0045fd 257.5px,#005cfb 259.5px,#006bf9 261.5px,#006ef9 262.5px,#0067f9 264.5px,#0054fb 266.5px,#0033fe 269.5px,#0023fe 271.5px,#0018ff 274.5px,#0014ff 282.5px,#0019ff 294.5px,#0021fe 299.5px,#002dfe 301.5px,#003afd 302.5px,#004dfc 303.5px,#0069f9 304.5px,#008ff4 305.5px,#00b9ea 306.5px,#07e0db 307.5px,#4cf9c6 308.5px,#8ffeae 309.5px,#c6f599 310.5px,#e7e88a 311.5px,#ece688 312.5px,#d6ef92 313.5px,#a7fca5 314.5px,#67febd 315.5px,#22ecd3 316.5px,#00c9e5 317.5px,#009ff1 318.5px,#0076f8 319.5px,#0056fb 320.5px,#003ffd 321.5px,#0030fe 322.5px,#0026fe 323.5px,#001dff 325.5px,#0015ff 329.5px,#0000ff 330.5px,#0000ff 344.5px)"></i>
<i style="left:415px;width:3px;background:linear-gradient(#0002ff 0.5px,#0004ff 139.5px,#0009ff 156.5px,#0011ff 161.5px,#001dff 164.5px,#0045fd 170.5px,#004dfc 172.5px,#004efc 174.5px,#0046fd 177.5px,#0022fe 185.5px,#0016ff 190.5px,#000fff 199.5px,#000bff 221.5px,#0010ff 243.5px,#0017ff 250.5px,#001eff 252.5px,#002bfe 254.5px,#0041fd 256.5px,#0072f8 260.5px,#007bf7 262.5px,#0079f7 263.5px,#006af9 265.5px,#0038fd 269.5px,#0027fe 271.5px,#001dff 273.5px,#0016ff 277.5px,#0016ff 289.5px,#001dff 297.5px,#0021fe 299.5px,#002dfe 301.5px,#0039fd 302.5px,#004cfc 303.5px,#0068f9 304.5px,#008df4 305.5px,#00b7eb 306.5px,#03dfdc 307.5px,#48f8c8 308.5px,#8affb1 309.5px,#bff69b 310.5px,#e0eb8d 311.5px,#e5e98b 312.5px,#cff295 313.5px,#a1fda8 314.5px,#62fdbf 315.5px,#1eebd5 316.5px,#00c7e6 317.5px,#009df1 318.5px,#0075f8 319.5px,#0055fb 320.5px,#003efd 321.5px,#002ffe 322.5px,#0020fe 324.5px,#0018ff 327.5px,#0015ff 329.5px,#0000ff 330.5px,#0000ff 344.5px)"></i>
<i style="left:418px;width:3px;background:linear-gradient(#0002ff 0.5px,#0004ff 142.5px,#0009ff 157.5px,#000eff 161.5px,#001cff 165.5px,#0038fd 170.5px,#003efd 172.5px,#003efd 175.5px,#0032fe 179.5px,#001cff 185.5px,#0014ff 189.5px,#000dff 198.5px,#000bff 225.5px,#0013ff 246.5px,#0019ff 250.5px,#0021fe 252.5px,#0030fe 254.5px,#0048fc 256.5px,#0073f8 259.5px,#007ef7 260.5px,#0085f5 261.5px,#0088f5 262.5px,#0086f5 263.5px,#0080f6 264.5px,#0069f9 266.5px,#003efd 269.5px,#002afe 271.5px,#001fff 273.5px,#0018ff 276.5px,#0016ff 288.5px,#001dff 297.5px,#0021fe 299.5px,#002dfe 301.5px,#0039fd 302.5px,#004cfc 303.5px,#0067f9 304.5px,#008cf4 305.5px,#00b5eb 306.5px,#00dddd 307.5px,#43f7c9 308.5px,#84ffb3 309.5px,#b8f89e 310.5px,#d8ee91 311.5px,#deec8e 312.5px,#c8f498 313.5px,#9afdaa 314.5px,#5dfcc1 315.5px,#19e9d6 316.5px,#00c5e6 317.5px,#009bf2 318.5px,#0073f8 319.5px,#0054fb 320.5px,#003dfd 321.5px,#002ffe 322.5px,#0025fe 323.5px,#001cff 325.5px,#0015ff 329.5px,#0000ff 330.5px,#0000ff 344.5px)"></i>
<i style="left:421px;width:3px;background:linear-gradient(#0002ff 0.5px,#0004ff 145.5px,#0009ff 159.5px,#0013ff 164.5px,#002ffe 171.5px,#0031fe 174.5px,#002afe 178.5px,#0015ff 186.5px,#000dff 193.5px,#000aff 218.5px,#0011ff 241.5px,#0018ff 249.5px,#0023fe 252.5px,#0034fe 254.5px,#004ffc 256.5px,#007ef7 259.5px,#008af5 260.5px,#0092f3 261.5px,#0096f3 262.5px,#0094f3 263.5px,#008df4 264.5px,#0073f8 266.5px,#0044fd 269.5px,#002efe 271.5px,#0021fe 273.5px,#0019ff 277.5px,#0017ff 289.5px,#001fff 298.5px,#0026fe 300.5px,#002dfe 301.5px,#0038fd 302.5px,#004bfc 303.5px,#0066fa 304.5px,#008af5 305.5px,#00b3ec 306.5px,#00dbde 307.5px,#3ef6cb 308.5px,#7dffb5 309.5px,#b1faa1 310.5px,#d0f194 311.5px,#d6ef92 312.5px,#c0f69b 313.5px,#93fead 314.5px,#57fbc3 315.5px,#15e7d7 316.5px,#00c3e7 317.5px,#0099f2 318.5px,#0072f8 319.5px,#0052fc 320.5px,#003cfd 321.5px,#002efe 322.5px,#001fff 324.5px,#0015ff 329.5px,#0000ff 330.5px,#0000ff 344.5px)"></i>
<i style="left:424px;width:3px;background:linear-gradient(#0002ff 0.5px,#0004ff 149.5px,#0009ff 161.5px,#0017ff 167.5px,#0023fe 171.5px,#0024fe 175.5px,#001cff 180.5px,#000fff 187.5px,#000aff 197.5px,#000bff 225.5px,#0015ff 245.5px,#001aff 249.5px,#0026fe 252.5px,#0039fd 254.5px,#0056fb 256.5px,#008af5 259.5px,#0097f2 260.5px,#009ff1 261.5px,#00a2f0 262.5px,#00a0f0 263.5px,#0099f2 264.5px,#007ef7 266.5px,#004bfc 269.5px,#0032fe 271.5px,#0024fe 273.5px,#001dff 275.5px,#0018ff 282.5px,#001aff 294.5px,#0021fe 299.5px,#002dfe 301.5px,#0038fd 302.5px,#004afc 303.5px,#0065fa 304.5px,#0088f5 305.5px,#00b1ec 306.5px,#00d8df 307.5px,#38f4cd 308.5px,#76ffb8 309.5px,#a9fba4 310.5px,#c8f498 311.5px,#cdf295 312.5px,#b8f89e 313.5px,#8cffb0 314.5px,#51fac5 315.5px,#10e5d9 316.5px,#00c0e8 317.5px,#0096f2 318.5px,#0070f8 319.5px,#0051fc 320.5px,#003cfd 321.5px,#002dfe 322.5px,#001fff 324.5px,#0016ff 328.5px,#0015ff 329.5px,#0000ff 330.5px,#0000ff 344.5px)"></i>
<i style="left:427px;width:3px;background:linear-gradient(#0002ff 0.5px,#0004ff 152.5px,#0009ff 162.5px,#001aff 172.5px,#0017ff 178.5px,#000bff 188.5px,#0009ff 208.5px,#000dff 231.5px,#0018ff 247.5px,#0023fe 251.5px,#0032fe 253.5px,#003dfd 254.5px,#005dfb 256.5px,#0084f6 258.5px,#0095f3 259.5px,#00a2f0 260.5px,#00abee 261.5px,#00afed 262.5px,#00adee 263.5px,#00a5ef 264.5px,#0088f5 266.5px,#0051fc 269.5px,#0036fe 271.5px,#0026fe 273.5px,#001dff 276.5px,#0018ff 286.5px,#001dff 297.5px,#0021fe 299.5px,#002cfe 301.5px,#0038fd 302.5px,#0049fc 303.5px,#0063fa 304.5px,#0086f5 305.5px,#00aeed 306.5px,#00d6e0 307.5px,#32f2ce 308.5px,#6ffeba 309.5px,#a1fda7 310.5px,#bff69b 311.5px,#c4f599 312.5px,#b0faa2 313.5px,#84ffb2 314.5px,#4bf9c7 315.5px,#0be2da 316.5px,#00bee9 317.5px,#0094f3 318.5px,#006ef9 319.5px,#0050fc 320.5px,#003bfd 321.5px,#002dfe 322.5px,#0024fe 323.5px,#001bff 325.5px,#0015ff 329.5px,#0000ff 330.5px,#0000ff 344.5px)"></i>
<i style="left:430px;width:4px;background:linear-gradient(#0002ff 0.5px,#0004ff 156.5px,#0009ff 165.5px,#0012ff 173.5px,#0008ff 191.5px,#000aff 221.5px,#0014ff 241.5px,#001bff 248.5px,#0025fe 251.5px,#0036fe 253.5px,#0042fd 254.5px,#0065fa 256.5px,#00a0f1 259.5px,#00aeed 260.5px,#00b7eb 261.5px,#00baea 262.5px,#00b8ea 263.5px,#00b0ed 264.5px,#00a3f0 265.5px,#007ef7 267.5px,#0057fb 269.5px,#003afd 271.5px,#0029fe 273.5px,#0021fe 275.5px,#001cff 279.5px,#0019ff 290.5px,#001fff 298.5px,#0025fe 300.5px,#002cfe 301.5px,#0037fd 302.5px,#0048fc 303.5px,#0062fa 304.5px,#0084f6 305.5px,#00acee 306.5px,#00d3e1 307.5px,#2cf0d0 308.5px,#68febd 309.5px,#99feab 310.5px,#b6f99f 311.5px,#bbf79d 312.5px,#a7fca5 313.5px,#7cffb5 314.5px,#44f7c9 315.5px,#05e0db 316.5px,#00bbea 317.5px,#006cf9 319.5px,#004ffc 320.5px,#003afd 321.5px,#002cfe 322.5px,#001eff 324.5px,#0016ff 328.5px,#0015ff 329.5px,#0000ff 330.5px,#0000ff 344.5px)"></i>
<i style="left:434px;width:3px;background:linear-gradient(#0002ff 0.5px,#0004ff 159.5px,#000bff 174.5px,#0007ff 194.5px,#000bff 224.5px,#0016ff 242.5px,#001dff 248.5px,#0023fe 250.5px,#002ffe 252.5px,#0039fd 253.5px,#0058fb 255.5px,#00aaee 259.5px,#00b9ea 260.5px,#00c2e8 261.5px,#00c5e6 262.5px,#00c3e7 263.5px,#00bbea 264.5px,#00aeed 265.5px,#0087f5 267.5px,#005dfb 269.5px,#003efd 271.5px,#0033fe 272.5px,#0026fe 274.5px,#001eff 278.5px,#001aff 289.5px,#001eff 297.5px,#0025fe 300.5px,#0036fe 302.5px,#0047fc 303.5px,#0060fa 304.5px,#0082f6 305.5px,#00d0e3 307.5px,#26eed2 308.5px,#60fdc0 309.5px,#90feae 310.5px,#acfba3 311.5px,#b1faa1 312.5px,#9dfda9 313.5px,#74ffb8 314.5px,#3df5cb 315.5px,#00dddd 316.5px,#00b8eb 317.5px,#008ff4 318.5px,#006af9 319.5px,#004dfc 320.5px,#0039fd 321.5px,#002cfe 322.5px,#0023fe 323.5px,#001bff 325.5px,#0014ff 329.5px,#0000ff 330.5px,#0000ff 344.5px)"></i>
<i style="left:437px;width:3px;background:linear-gradient(#0002ff 0.5px,#0004ff 161.5px,#0008ff 176.5px,#0006ff 196.5px,#000cff 225.5px,#0017ff 242.5px,#001fff 248.5px,#0025fe 250.5px,#0032fe 252.5px,#003dfd 253.5px,#005efa 255.5px,#008af5 257.5px,#00b4ec 259.5px,#00c3e7 260.5px,#00cce4 261.5px,#00cfe3 262.5px,#00cde4 263.5px,#00c5e7 264.5px,#00b7eb 265.5px,#00a5ef 266.5px,#0063fa 269.5px,#0042fd 271.5px,#0036fe 272.5px,#0029fe 274.5px,#0022fe 276.5px,#001cff 283.5px,#001cff 295.5px,#0022fe 299.5px,#0025fe 300.5px,#0036fe 302.5px,#0046fd 303.5px,#005ffa 304.5px,#007ff6 305.5px,#00a6ef 306.5px,#00cde4 307.5px,#1febd4 308.5px,#58fcc2 309.5px,#86ffb2 310.5px,#a3fca7 311.5px,#a7fca5 312.5px,#94fead 313.5px,#6cfebc 314.5px,#36f3ce 315.5px,#00dade 316.5px,#00b5ec 317.5px,#008cf4 318.5px,#0068f9 319.5px,#004cfc 320.5px,#0038fd 321.5px,#002bfe 322.5px,#001eff 324.5px,#0015ff 328.5px,#0014ff 329.5px,#0000ff 330.5px,#0000ff 344.5px)"></i>
<i style="left:440px;width:3px;background:linear-gradient(#0002ff 0.5px,#0004ff 163.5px,#0006ff 188.5px,#000bff 221.5px,#0016ff 240.5px,#0020fe 248.5px,#0027fe 250.5px,#0035fe 252.5px,#0050fc 254.5px,#007af7 256.5px,#00a9ee 258.5px,#00bde9 259.5px,#00cce4 260.5px,#00d5e1 261.5px,#00d8df 262.5px,#00d6e0 263.5px,#00cee3 264.5px,#00c1e8 265.5px,#00aeed 266.5px,#0069f9 269.5px,#0055fb 270.5px,#0045fd 271.5px,#0039fd 272.5px,#002bfe 274.5px,#0022fe 277.5px,#001cff 286.5px,#001dff 296.5px,#0025fe 300.5px,#002bfe 301.5px,#0035fe 302.5px,#0045fd 303.5px,#005dfb 304.5px,#007df7 305.5px,#00a3f0 306.5px,#00cae5 307.5px,#18e9d6 308.5px,#50fac5 309.5px,#7dffb5 310.5px,#98feab 311.5px,#9dfda9 312.5px,#8affb0 313.5px,#63fdbf 314.5px,#2ef1d0 315.5px,#00d6e0 316.5px,#0089f5 318.5px,#0066fa 319.5px,#004afc 320.5px,#0037fd 321.5px,#002afe 322.5px,#001dff 324.5px,#0014ff 329.5px,#0000ff 330.5px,#0000ff 344.5px)"></i>
<i style="left:443px;width:3px;background:linear-gradient(#0002ff 0.5px,#0004ff 161.5px,#0008ff 177.5px,#0007ff 201.5px,#000fff 229.5px,#001aff 243.5px,#0025fe 249.5px,#002ffe 251.5px,#0044fd 253.5px,#0069f9 255.5px,#0099f2 257.5px,#00b1ec 258.5px,#00c5e7 259.5px,#00d4e1 260.5px,#00dddd 261.5px,#06e0db 262.5px,#02dedc 263.5px,#00d6e0 264.5px,#00c9e5 265.5px,#00b6eb 266.5px,#006ff9 269.5px,#005afb 270.5px,#0049fc 271.5px,#003cfd 272.5px,#002dfe 274.5px,#0022fe 278.5px,#001cff 290.5px,#0020ff 298.5px,#0025fe 300.5px,#002bfe 301.5px,#0035fe 302.5px,#0044fd 303.5px,#005bfb 304.5px,#007bf7 305.5px,#00a0f1 306.5px,#00c6e6 307.5px,#11e5d8 308.5px,#47f8c8 309.5px,#73ffb9 310.5px,#8effaf 311.5px,#92fead 312.5px,#80ffb4 313.5px,#59fcc2 314.5px,#26eed2 315.5px,#00d3e1 316.5px,#00aeed 317.5px,#0087f5 318.5px,#0064fa 319.5px,#0049fc 320.5px,#0036fe 321.5px,#002afe 322.5px,#001dff 324.5px,#0015ff 328.5px,#0014ff 329.5px,#0000ff 330.5px,#0000ff 344.5px)"></i>
<i style="left:446px;width:3px;background:linear-gradient(#0002ff 0.5px,#0004ff 157.5px,#000cff 174.5px,#0008ff 192.5px,#000bff 217.5px,#0015ff 236.5px,#0021fe 247.5px,#002bfe 250.5px,#003bfd 252.5px,#0048fc 253.5px,#0059fb 254.5px,#006ef9 255.5px,#00b9ea 258.5px,#00cde4 259.5px,#00dbde 260.5px,#0ee4d9 261.5px,#15e7d7 262.5px,#10e5d8 263.5px,#01dedd 264.5px,#00d0e2 265.5px,#00bde9 266.5px,#0074f8 269.5px,#005efa 270.5px,#003ffd 272.5px,#002ffe 274.5px,#0027fe 276.5px,#001fff 283.5px,#001dff 292.5px,#0020ff 298.5px,#0025fe 300.5px,#0034fe 302.5px,#0043fd 303.5px,#005afb 304.5px,#0078f7 305.5px,#009df1 306.5px,#00c2e7 307.5px,#0ae2da 308.5px,#3ef6cb 309.5px,#69febc 310.5px,#83ffb3 311.5px,#87ffb2 312.5px,#75ffb8 313.5px,#50fac5 314.5px,#1eebd5 315.5px,#00cfe3 316.5px,#0083f6 318.5px,#0062fa 319.5px,#0047fc 320.5px,#0035fe 321.5px,#0029fe 322.5px,#0021fe 323.5px,#0016ff 327.5px,#0014ff 329.5px,#0000ff 330.5px,#0000ff 344.5px)"></i>
<i style="left:449px;width:3px;background:linear-gradient(#0002ff 0.5px,#0004ff 152.5px,#0009ff 164.5px,#0012ff 173.5px,#0009ff 191.5px,#000cff 218.5px,#0017ff 237.5px,#0023fe 247.5px,#002dfe 250.5px,#003efd 252.5px,#004bfc 253.5px,#005dfb 254.5px,#0073f8 255.5px,#00a7ef 257.5px,#00bfe8 258.5px,#00d3e1 259.5px,#09e1da 260.5px,#1bead5 261.5px,#22ecd3 262.5px,#1eebd5 263.5px,#0ee4d9 264.5px,#00d7e0 265.5px,#00c4e7 266.5px,#0093f3 268.5px,#0079f7 269.5px,#0050fc 271.5px,#0042fd 272.5px,#0031fe 274.5px,#0029fe 276.5px,#001fff 284.5px,#001dff 294.5px,#0022fe 299.5px,#002afe 301.5px,#0033fe 302.5px,#0042fd 303.5px,#0058fb 304.5px,#0075f8 305.5px,#00bee9 307.5px,#03dedc 308.5px,#35f3ce 309.5px,#5efdc0 310.5px,#77ffb7 311.5px,#7cffb6 312.5px,#6afebc 313.5px,#46f8c8 314.5px,#16e7d7 315.5px,#00cbe5 316.5px,#0080f6 318.5px,#005ffa 319.5px,#0046fd 320.5px,#0034fe 321.5px,#0028fe 322.5px,#001cff 324.5px,#0015ff 328.5px,#0014ff 329.5px,#0000ff 330.5px,#0000ff 344.5px)"></i>
<i style="left:452px;width:4px;background:linear-gradient(#0002ff 0.5px,#0005ff 154.5px,#000aff 163.5px,#001aff 172.5px,#0017ff 178.5px,#000bff 190.5px,#000cff 214.5px,#0014ff 232.5px,#0021fe 245.5px,#002afe 249.5px,#0036fe 251.5px,#004ffc 253.5px,#0061fa 254.5px,#0092f3 256.5px,#00c6e6 258.5px,#00d9df 259.5px,#15e7d7 260.5px,#27efd2 261.5px,#2ff1d0 262.5px,#2aefd1 263.5px,#1ae9d6 264.5px,#00dddd 265.5px,#00cae5 266.5px,#00b3ec 267.5px,#007ef7 269.5px,#0053fb 271.5px,#003afd 273.5px,#002efe 275.5px,#0026fe 278.5px,#001eff 288.5px,#001fff 297.5px,#0025fe 300.5px,#002afe 301.5px,#0033fe 302.5px,#0041fd 303.5px,#0056fb 304.5px,#0073f8 305.5px,#0095f3 306.5px,#00baea 307.5px,#00dade 308.5px,#2cf0d0 309.5px,#54fbc4 310.5px,#6cfebb 311.5px,#70feba 312.5px,#5ffdc0 313.5px,#3cf5cb 314.5px,#0ee4d9 315.5px,#00c6e6 316.5px,#007df7 318.5px,#005dfb 319.5px,#0044fd 320.5px,#0033fe 321.5px,#0027fe 322.5px,#001cff 324.5px,#0013ff 329.5px,#0000ff 330.5px,#0000ff 344.5px)"></i>
<i style="left:456px;width:3px;background:linear-gradient(#0002ff 0.5px,#0005ff 150.5px,#000aff 161.5px,#0012ff 165.5px,#0025fe 172.5px,#0023fe 176.5px,#0011ff 187.5px,#000cff 197.5px,#000fff 221.5px,#001aff 238.5px,#0026fe 247.5px,#0031fe 250.5px,#0043fd 252.5px,#0052fc 253.5px,#0065fa 254.5px,#007cf7 255.5px,#00b2ec 257.5px,#00cbe4 258.5px,#03dedc 259.5px,#20ebd4 260.5px,#33f2ce 261.5px,#3bf5cc 262.5px,#36f3ce 263.5px,#25edd3 264.5px,#0ae2da 265.5px,#00d0e3 266.5px,#009df1 268.5px,#006af9 270.5px,#0056fb 271.5px,#0047fc 272.5px,#0034fe 274.5px,#0029fe 277.5px,#001fff 287.5px,#001fff 297.5px,#0024fe 300.5px,#0029fe 301.5px,#0032fe 302.5px,#0040fd 303.5px,#0054fb 304.5px,#0070f8 305.5px,#00b6eb 307.5px,#00d6e0 308.5px,#23edd3 309.5px,#49f9c7 310.5px,#60fdc0 311.5px,#64fdbe 312.5px,#54fbc4 313.5px,#32f2cf 314.5px,#05dfdb 315.5px,#00c2e8 316.5px,#007af7 318.5px,#005afb 319.5px,#0042fd 320.5px,#0031fe 321.5px,#0026fe 322.5px,#001bff 324.5px,#0013ff 329.5px,#0000ff 330.5px,#0000ff 344.5px)"></i>
<i style="left:459px;width:3px;background:linear-gradient(#0002ff 0.5px,#0005ff 147.5px,#000aff 159.5px,#0014ff 164.5px,#002ffe 171.5px,#0032fe 174.5px,#0028fe 179.5px,#0016ff 186.5px,#000fff 194.5px,#000fff 217.5px,#0018ff 234.5px,#0024fe 245.5px,#002efe 249.5px,#003bfd 251.5px,#0045fd 252.5px,#0054fb 253.5px,#0068f9 254.5px,#009bf1 256.5px,#00d0e3 258.5px,#0ce3da 259.5px,#29efd1 260.5px,#3df6cb 261.5px,#45f8c9 262.5px,#40f6ca 263.5px,#2ff1d0 264.5px,#13e6d8 265.5px,#00d4e1 266.5px,#00bde9 267.5px,#0086f5 269.5px,#0059fb 271.5px,#0049fc 272.5px,#0036fe 274.5px,#002afe 277.5px,#001fff 288.5px,#001fff 297.5px,#0024fe 300.5px,#0031fe 302.5px,#003efd 303.5px,#0052fc 304.5px,#006df9 305.5px,#00b1ec 307.5px,#00d1e2 308.5px,#19e9d6 309.5px,#3ef6cb 310.5px,#54fbc4 311.5px,#58fcc2 312.5px,#48f8c8 313.5px,#28efd2 314.5px,#00dbde 315.5px,#00bde9 316.5px,#0076f8 318.5px,#0058fb 319.5px,#0041fd 320.5px,#0030fe 321.5px,#001fff 323.5px,#0016ff 326.5px,#0013ff 329.5px,#0000ff 330.5px,#0000ff 344.5px)"></i>
<i style="left:462px;width:3px;background:linear-gradient(#0002ff 0.5px,#0005ff 143.5px,#000aff 157.5px,#000fff 161.5px,#001dff 165.5px,#003cfd 171.5px,#0040fd 173.5px,#003afd 177.5px,#001eff 185.5px,#0016ff 189.5px,#0010ff 198.5px,#0011ff 220.5px,#001aff 235.5px,#0025fe 245.5px,#002ffe 249.5px,#003cfd 251.5px,#0057fb 253.5px,#006bf9 254.5px,#009ff1 256.5px,#00d4e1 258.5px,#14e7d7 259.5px,#32f2cf 260.5px,#47f8c8 261.5px,#4ffac5 262.5px,#4af9c7 263.5px,#37f4cd 264.5px,#1bead5 265.5px,#00d8df 266.5px,#00c1e8 267.5px,#008af5 269.5px,#0071f8 270.5px,#005cfb 271.5px,#004bfc 272.5px,#0038fd 274.5px,#002efe 276.5px,#0023fe 283.5px,#001eff 295.5px,#0021fe 299.5px,#0028fe 301.5px,#0030fe 302.5px,#003dfd 303.5px,#0050fc 304.5px,#006af9 305.5px,#00acee 307.5px,#00cce4 308.5px,#0fe4d9 309.5px,#33f2ce 310.5px,#48f8c8 311.5px,#4cf9c6 312.5px,#3df5cb 313.5px,#1debd5 314.5px,#00d6e0 315.5px,#00b8eb 316.5px,#0073f8 318.5px,#0055fb 319.5px,#003ffd 320.5px,#002ffe 321.5px,#001eff 323.5px,#0016ff 326.5px,#0013ff 329.5px,#0000ff 330.5px,#0000ff 344.5px)"></i>
<i style="left:465px;width:3px;background:linear-gradient(#0002ff 0.5px,#0005ff 140.5px,#000bff 157.5px,#0015ff 162.5px,#002afe 166.5px,#0045fd 170.5px,#004dfc 172.5px,#004dfc 175.5px,#003afd 180.5px,#0021fe 186.5px,#0016ff 192.5px,#0011ff 206.5px,#0014ff 225.5px,#001fff 239.5px,#002afe 247.5px,#0036fe 250.5px,#0049fc 252.5px,#0059fb 253.5px,#006ef9 254.5px,#00a3f0 256.5px,#00bfe9 257.5px,#00d7df 258.5px,#1bead5 259.5px,#3af5cc 260.5px,#4ffac5 261.5px,#57fcc3 262.5px,#52fbc4 263.5px,#3ff6cb 264.5px,#22ecd3 265.5px,#00dcdd 266.5px,#00a9ee 268.5px,#0073f8 270.5px,#005efb 271.5px,#004dfc 272.5px,#0041fd 273.5px,#0033fe 275.5px,#002afe 278.5px,#0020fe 288.5px,#001fff 297.5px,#0024fe 300.5px,#002ffe 302.5px,#003bfd 303.5px,#004efc 304.5px,#0067fa 305.5px,#00a7ef 307.5px,#00c7e6 308.5px,#05dfdb 309.5px,#27eed2 310.5px,#3cf5cc 311.5px,#3ff6ca 312.5px,#31f2cf 313.5px,#13e6d8 314.5px,#00d1e2 315.5px,#00b3ec 316.5px,#006ff9 318.5px,#0053fc 319.5px,#003dfd 320.5px,#002efe 321.5px,#0024fe 322.5px,#001aff 324.5px,#0013ff 329.5px,#0000ff 330.5px,#0000ff 344.5px)"></i>
<i style="left:468px;width:3px;background:linear-gradient(#0002ff 0.5px,#0005ff 136.5px,#000bff 155.5px,#0012ff 160.5px,#001eff 163.5px,#0032fe 166.5px,#0053fc 170.5px,#005cfb 172.5px,#005dfb 174.5px,#0059fb 176.5px,#003afd 182.5px,#0027fe 186.5px,#001cff 190.5px,#0015ff 198.5px,#0013ff 218.5px,#001bff 234.5px,#0029fe 246.5px,#0032fe 249.5px,#0040fd 251.5px,#004bfc 252.5px,#005bfb 253.5px,#0070f8 254.5px,#0089f5 255.5px,#00c2e8 257.5px,#00dade 258.5px,#21ecd4 259.5px,#40f6ca 260.5px,#56fbc3 261.5px,#5efdc0 262.5px,#59fcc2 263.5px,#46f8c8 264.5px,#28efd2 265.5px,#03dedc 266.5px,#00c7e6 267.5px,#008ff4 269.5px,#0075f8 270.5px,#005ffa 271.5px,#0042fd 273.5px,#0034fe 275.5px,#0029fe 279.5px,#001fff 291.5px,#0020ff 298.5px,#0023fe 300.5px,#002efe 302.5px,#003afd 303.5px,#004bfc 304.5px,#0063fa 305.5px,#00a2f0 307.5px,#00c2e8 308.5px,#00dade 309.5px,#1cead5 310.5px,#30f1cf 311.5px,#33f2ce 312.5px,#25eed3 313.5px,#08e1db 314.5px,#00cbe4 315.5px,#008cf4 317.5px,#006bf9 318.5px,#0050fc 319.5px,#003bfd 320.5px,#002dfe 321.5px,#0023fe 322.5px,#0019ff 324.5px,#0012ff 329.5px,#0000ff 330.5px,#0000ff 344.5px)"></i>
<i style="left:471px;width:3px;background:linear-gradient(#0002ff 0.5px,#0005ff 134.5px,#000bff 154.5px,#0012ff 159.5px,#001dff 162.5px,#0029fe 164.5px,#0060fa 170.5px,#006cf9 172.5px,#006df9 174.5px,#0068f9 176.5px,#0051fc 180.5px,#0032fe 185.5px,#0023fe 189.5px,#001aff 195.5px,#0015ff 207.5px,#0015ff 221.5px,#001dff 235.5px,#002afe 246.5px,#0033fe 249.5px,#0041fd 251.5px,#004dfc 252.5px,#005dfb 253.5px,#0072f8 254.5px,#008bf4 255.5px,#00c4e7 257.5px,#00dcdd 258.5px,#25eed2 259.5px,#45f8c8 260.5px,#5bfcc1 261.5px,#64fdbe 262.5px,#5efdc0 263.5px,#4bf9c7 264.5px,#2df0d0 265.5px,#07e1db 266.5px,#00cae5 267.5px,#0091f3 269.5px,#0077f8 270.5px,#0061fa 271.5px,#0050fc 272.5px,#0043fd 273.5px,#0035fe 275.5px,#002afe 279.5px,#0020fe 289.5px,#001fff 298.5px,#0027fe 301.5px,#002dfe 302.5px,#0038fd 303.5px,#0049fc 304.5px,#0060fa 305.5px,#009df1 307.5px,#00bce9 308.5px,#00d5e1 309.5px,#10e5d8 310.5px,#23edd3 311.5px,#26eed2 312.5px,#19e9d6 313.5px,#00dbde 314.5px,#00c5e6 315.5px,#00a8ef 316.5px,#0067f9 318.5px,#004dfc 319.5px,#0039fd 320.5px,#002bfe 321.5px,#0022fe 322.5px,#0019ff 324.5px,#0012ff 329.5px,#0000ff 330.5px,#0000ff 344.5px)"></i>
<i style="left:474px;width:4px;background:linear-gradient(#0002ff 0.5px,#0005ff 131.5px,#000bff 152.5px,#0010ff 157.5px,#001bff 161.5px,#002ffe 164.5px,#004efc 167.5px,#006ef9 170.5px,#007bf7 172.5px,#007cf7 174.5px,#0076f8 176.5px,#0064fa 179.5px,#003ffd 184.5px,#002ffe 187.5px,#0022fe 191.5px,#0019ff 200.5px,#0016ff 217.5px,#001bff 232.5px,#0029fe 245.5px,#0034fe 249.5px,#0042fd 251.5px,#004efc 252.5px,#005efa 253.5px,#0073f8 254.5px,#00aaee 256.5px,#00c6e6 257.5px,#02dedc 258.5px,#29efd1 259.5px,#49f9c7 260.5px,#5ffdc0 261.5px,#68febd 262.5px,#62fdbf 263.5px,#4ffac5 264.5px,#30f2cf 265.5px,#0ae2da 266.5px,#00cbe4 267.5px,#0093f3 269.5px,#0078f7 270.5px,#0062fa 271.5px,#0051fc 272.5px,#0044fd 273.5px,#0036fe 275.5px,#002efe 277.5px,#0022fe 286.5px,#001eff 296.5px,#0022fe 300.5px,#002cfe 302.5px,#0037fe 303.5px,#0047fc 304.5px,#005dfb 305.5px,#0098f2 307.5px,#00b6eb 308.5px,#00cee3 309.5px,#05dfdc 310.5px,#17e8d7 311.5px,#19e9d6 312.5px,#0de3d9 313.5px,#00d5e0 314.5px,#00bfe8 315.5px,#0082f6 317.5px,#0064fa 318.5px,#004afc 319.5px,#0037fd 320.5px,#002afe 321.5px,#0021fe 322.5px,#0018ff 324.5px,#0012ff 329.5px,#0000ff 330.5px,#0000ff 344.5px)"></i>
<i style="left:478px;width:3px;background:linear-gradient(#0002ff 0.5px,#0005ff 129.5px,#000bff 151.5px,#0011ff 157.5px,#001eff 161.5px,#002cfe 163.5px,#003ffd 165.5px,#007bf7 170.5px,#0089f5 172.5px,#008af5 174.5px,#0084f6 176.5px,#0067fa 180.5px,#003ffd 185.5px,#002ffe 188.5px,#0022fe 193.5px,#001aff 202.5px,#0017ff 221.5px,#001fff 236.5px,#002cfe 246.5px,#0035fe 249.5px,#003afd 250.5px,#004efc 252.5px,#005ffa 253.5px,#0074f8 254.5px,#00abee 256.5px,#00c7e6 257.5px,#04dfdc 258.5px,#2bf0d1 259.5px,#4cf9c6 260.5px,#62fdbf 261.5px,#6bfebc 262.5px,#65fdbe 263.5px,#51fac5 264.5px,#32f2ce 265.5px,#0ce3da 266.5px,#00cce4 267.5px,#0094f3 269.5px,#0079f7 270.5px,#0063fa 271.5px,#0052fc 272.5px,#0045fd 273.5px,#0036fe 275.5px,#002bfe 279.5px,#0020fe 289.5px,#001fff 298.5px,#0025fe 301.5px,#002bfe 302.5px,#0035fe 303.5px,#0044fd 304.5px,#0059fb 305.5px,#0092f3 307.5px,#00afed 308.5px,#00c8e6 309.5px,#00d9df 310.5px,#0ae2da 311.5px,#0de3d9 312.5px,#00dddd 313.5px,#00cfe3 314.5px,#00b8ea 315.5px,#007df7 317.5px,#0060fa 318.5px,#0047fc 319.5px,#0035fe 320.5px,#0020fe 322.5px,#0018ff 324.5px,#0011ff 329.5px,#0000ff 330.5px,#0000ff 344.5px)"></i>
<i style="left:481px;width:3px;background:linear-gradient(#0002ff 0.5px,#0005ff 127.5px,#000bff 150.5px,#0015ff 158.5px,#0021fe 161.5px,#0030fe 163.5px,#0046fd 165.5px,#007cf7 169.5px,#0090f4 171.5px,#0096f3 172.5px,#0097f2 174.5px,#0090f4 176.5px,#0083f6 178.5px,#004dfc 184.5px,#0039fd 187.5px,#002cfe 190.5px,#0021fe 196.5px,#0019ff 210.5px,#0019ff 225.5px,#0022fe 238.5px,#002efe 247.5px,#0035fe 249.5px,#0043fd 251.5px,#004ffc 252.5px,#005ffa 253.5px,#0075f8 254.5px,#00acee 256.5px,#00c8e6 257.5px,#05e0db 258.5px,#2cf0d0 259.5px,#4dfac6 260.5px,#63fdbe 261.5px,#6cfebb 262.5px,#66febd 263.5px,#52fbc4 264.5px,#33f3ce 265.5px,#0de3d9 266.5px,#00cde4 267.5px,#0094f3 269.5px,#0063fa 271.5px,#0052fc 272.5px,#0045fd 273.5px,#0036fe 275.5px,#002bfe 279.5px,#001fff 291.5px,#001fff 299.5px,#0024fe 301.5px,#002afe 302.5px,#0034fe 303.5px,#0042fd 304.5px,#0056fb 305.5px,#006ff9 306.5px,#00a9ef 308.5px,#00c1e8 309.5px,#00d2e2 310.5px,#00dbde 311.5px,#00dddd 312.5px,#00d6e0 313.5px,#00c8e6 314.5px,#00b2ec 315.5px,#0078f7 317.5px,#005cfb 318.5px,#0045fd 319.5px,#0033fe 320.5px,#0027fe 321.5px,#001aff 323.5px,#0013ff 327.5px,#0011ff 329.5px,#0000ff 330.5px,#0000ff 344.5px)"></i>
<i style="left:484px;width:3px;background:linear-gradient(#0002ff 0.5px,#0005ff 125.5px,#000bff 148.5px,#0014ff 157.5px,#001fff 160.5px,#002bfe 162.5px,#003ffd 164.5px,#0086f5 169.5px,#009bf1 171.5px,#00a4f0 173.5px,#00a0f0 175.5px,#0095f3 177.5px,#0071f8 181.5px,#004bfc 185.5px,#0038fd 188.5px,#002afe 192.5px,#0020fe 199.5px,#0019ff 215.5px,#001dff 232.5px,#0029fe 244.5px,#0035fe 249.5px,#0043fd 251.5px,#004ffc 252.5px,#0060fa 253.5px,#0075f8 254.5px,#00acee 256.5px,#00c8e6 257.5px,#05dfdb 258.5px,#2cf0d0 259.5px,#4df9c6 260.5px,#63fdbf 261.5px,#6cfebb 262.5px,#66febe 263.5px,#52fbc4 264.5px,#33f3ce 265.5px,#0de3d9 266.5px,#00cde4 267.5px,#0094f3 269.5px,#0063fa 271.5px,#0052fc 272.5px,#0045fd 273.5px,#0036fe 275.5px,#002bfe 279.5px,#001fff 290.5px,#001eff 298.5px,#0023fe 301.5px,#0032fe 303.5px,#003ffd 304.5px,#0052fc 305.5px,#0086f5 307.5px,#00a2f0 308.5px,#00baea 309.5px,#00cbe4 310.5px,#00d4e1 311.5px,#00d6e0 312.5px,#00cfe3 313.5px,#00c1e8 314.5px,#00abee 315.5px,#0072f8 317.5px,#0058fb 318.5px,#0042fd 319.5px,#0031fe 320.5px,#001eff 322.5px,#0013ff 326.5px,#0011ff 329.5px,#0000ff 330.5px,#0000ff 344.5px)"></i>
<i style="left:487px;width:3px;background:linear-gradient(#0002ff 0.5px,#0005ff 124.5px,#000bff 147.5px,#0013ff 156.5px,#001cff 159.5px,#002efe 162.5px,#0044fd 164.5px,#0060fa 166.5px,#008ff4 169.5px,#00a5ef 171.5px,#00acee 172.5px,#00aded 174.5px,#00a6ef 176.5px,#0097f2 178.5px,#0059fb 184.5px,#003cfd 188.5px,#002dfe 192.5px,#0021fe 200.5px,#001aff 215.5px,#001cff 229.5px,#0028fe 243.5px,#0032fe 248.5px,#003bfd 250.5px,#0043fd 251.5px,#004ffc 252.5px,#005ffa 253.5px,#008ef4 255.5px,#00c7e6 257.5px,#04dfdc 258.5px,#2bf0d1 259.5px,#4bf9c7 260.5px,#61fdbf 261.5px,#6afebc 262.5px,#64fdbe 263.5px,#50fac5 264.5px,#32f2cf 265.5px,#0ce3da 266.5px,#00cce4 267.5px,#0094f3 269.5px,#0079f7 270.5px,#0063fa 271.5px,#0052fc 272.5px,#0045fd 273.5px,#0036fe 275.5px,#002bfe 279.5px,#0021fe 288.5px,#001dff 297.5px,#0022fe 301.5px,#0030fe 303.5px,#003dfd 304.5px,#004ffc 305.5px,#0080f6 307.5px,#009bf2 308.5px,#00b2ec 309.5px,#00c3e7 310.5px,#00cde4 311.5px,#00cee3 312.5px,#00c8e6 313.5px,#00b9ea 314.5px,#00a3f0 315.5px,#006df9 317.5px,#0054fb 318.5px,#003ffd 319.5px,#002ffe 320.5px,#0024fe 321.5px,#0019ff 323.5px,#0012ff 327.5px,#0010ff 329.5px,#0000ff 330.5px,#0000ff 344.5px)"></i>
<i style="left:490px;width:3px;background:linear-gradient(#0002ff 0.5px,#0005ff 123.5px,#000cff 148.5px,#0014ff 156.5px,#0022fe 160.5px,#0031fe 162.5px,#0047fc 164.5px,#0087f5 168.5px,#00a4f0 170.5px,#00aeed 171.5px,#00b4ec 172.5px,#00b6eb 174.5px,#00aeed 176.5px,#009ff1 178.5px,#0055fb 185.5px,#003ffd 188.5px,#002ffe 192.5px,#0025fe 198.5px,#001dff 209.5px,#001bff 225.5px,#0023fe 238.5px,#002dfe 246.5px,#0035fe 249.5px,#0043fd 251.5px,#004ffc 252.5px,#005ffa 253.5px,#0074f8 254.5px,#008df4 255.5px,#00c6e6 257.5px,#02dedc 258.5px,#28efd2 259.5px,#48f8c8 260.5px,#5efdc0 261.5px,#67febd 262.5px,#61fdbf 263.5px,#4dfac6 264.5px,#2ff1d0 265.5px,#09e2da 266.5px,#00cbe5 267.5px,#0093f3 269.5px,#0078f7 270.5px,#0062fa 271.5px,#0051fc 272.5px,#0044fd 273.5px,#0036fe 275.5px,#002efe 277.5px,#0023fe 285.5px,#001dff 294.5px,#001dff 299.5px,#0021fe 301.5px,#002efe 303.5px,#003afd 304.5px,#004bfc 305.5px,#007af7 307.5px,#0094f3 308.5px,#00aaee 309.5px,#00bbea 310.5px,#00c5e7 311.5px,#00c6e6 312.5px,#00bfe8 313.5px,#00b1ec 314.5px,#009cf1 315.5px,#004ffc 318.5px,#003cfd 319.5px,#002dfe 320.5px,#001cff 322.5px,#0015ff 324.5px,#0010ff 329.5px,#0000ff 330.5px,#0000ff 344.5px)"></i>
<i style="left:493px;width:3px;background:linear-gradient(#0002ff 0.5px,#0005ff 122.5px,#000bff 146.5px,#0015ff 156.5px,#0024fe 160.5px,#0033fe 162.5px,#004bfc 164.5px,#006af9 166.5px,#009df1 169.5px,#00b4ec 171.5px,#00bbea 172.5px,#00bce9 174.5px,#00b5ec 176.5px,#00a5ef 178.5px,#0063fa 184.5px,#0050fc 186.5px,#003dfd 189.5px,#0031fe 192.5px,#0025fe 199.5px,#001dff 211.5px,#001cff 225.5px,#0022fe 237.5px,#002cfe 246.5px,#0035fe 249.5px,#0042fd 251.5px,#004efc 252.5px,#005efa 253.5px,#0073f8 254.5px,#00a8ef 256.5px,#00c4e7 257.5px,#00dcdd 258.5px,#24edd3 259.5px,#44f7c9 260.5px,#59fcc2 261.5px,#62fdbf 262.5px,#5cfcc1 263.5px,#49f9c7 264.5px,#2bf0d1 265.5px,#06e0db 266.5px,#00c9e5 267.5px,#0091f3 269.5px,#0077f8 270.5px,#0061fa 271.5px,#0050fc 272.5px,#003bfd 274.5px,#0031fe 276.5px,#0027fe 281.5px,#001eff 290.5px,#001dff 299.5px,#0020fe 301.5px,#002cfe 303.5px,#0038fd 304.5px,#0048fc 305.5px,#005cfb 306.5px,#00a2f0 309.5px,#00b3ec 310.5px,#00bce9 311.5px,#00bde9 312.5px,#00b7eb 313.5px,#00a9ef 314.5px,#0094f3 315.5px,#004bfc 318.5px,#0039fd 319.5px,#002bfe 320.5px,#0021fe 321.5px,#0017ff 323.5px,#0011ff 327.5px,#000fff 329.5px,#0000ff 330.5px,#0000ff 344.5px)"></i>
<i style="left:496px;width:4px;background:linear-gradient(#0002ff 0.5px,#0005ff 121.5px,#000cff 147.5px,#0014ff 155.5px,#001fff 159.5px,#002cfe 161.5px,#0040fd 163.5px,#005dfb 165.5px,#00a1f0 169.5px,#00afed 170.5px,#00c0e8 172.5px,#00c1e8 174.5px,#00baea 176.5px,#00aaee 178.5px,#005cfb 185.5px,#0044fd 188.5px,#0033fe 192.5px,#0026fe 199.5px,#001dff 212.5px,#001cff 227.5px,#0025fe 241.5px,#002efe 247.5px,#0034fe 249.5px,#0041fd 251.5px,#005cfb 253.5px,#0071f8 254.5px,#00a6ef 256.5px,#00dade 258.5px,#1febd4 259.5px,#3ef6cb 260.5px,#53fbc4 261.5px,#5cfcc1 262.5px,#56fbc3 263.5px,#43f7c9 264.5px,#26eed2 265.5px,#01dddd 266.5px,#00c6e6 267.5px,#008ff4 269.5px,#0075f8 270.5px,#005ffa 271.5px,#0042fd 273.5px,#0034fe 275.5px,#0029fe 279.5px,#001dff 291.5px,#001cff 299.5px,#001fff 301.5px,#002afe 303.5px,#0035fe 304.5px,#0044fd 305.5px,#0057fb 306.5px,#009af2 309.5px,#00aaee 310.5px,#00b3ec 311.5px,#00b4ec 312.5px,#00aeed 313.5px,#00a0f0 314.5px,#0075f8 316.5px,#0047fc 318.5px,#0036fe 319.5px,#0029fe 320.5px,#001aff 322.5px,#0012ff 325.5px,#000fff 329.5px,#0000ff 330.5px,#0000ff 344.5px)"></i>
<i style="left:500px;width:3px;background:linear-gradient(#0002ff 0.5px,#0005ff 121.5px,#000bff 145.5px,#0014ff 155.5px,#0020fe 159.5px,#002dfe 161.5px,#0041fd 163.5px,#005ffa 165.5px,#00a4ef 169.5px,#00bde9 171.5px,#00c6e6 173.5px,#00c2e8 175.5px,#00b6eb 177.5px,#00a3f0 179.5px,#0068f9 184.5px,#004cfc 187.5px,#0037fd 191.5px,#0029fe 197.5px,#001eff 210.5px,#001cff 227.5px,#0025fe 241.5px,#002dfe 247.5px,#0033fe 249.5px,#0040fd 251.5px,#004bfc 252.5px,#005bfb 253.5px,#006ff9 254.5px,#0087f5 255.5px,#00bee9 257.5px,#00d7e0 258.5px,#19e9d6 259.5px,#37f4cd 260.5px,#4cf9c6 261.5px,#54fbc4 262.5px,#4efac6 263.5px,#3cf5cc 264.5px,#1febd4 265.5px,#00dade 266.5px,#00c3e7 267.5px,#008cf4 269.5px,#005dfb 271.5px,#004dfc 272.5px,#0041fd 273.5px,#0033fe 275.5px,#0028fe 279.5px,#001cff 291.5px,#001bff 299.5px,#001eff 301.5px,#0028fe 303.5px,#0032fe 304.5px,#0040fd 305.5px,#0067f9 307.5px,#0092f3 309.5px,#00a1f0 310.5px,#00aaee 311.5px,#00abee 312.5px,#00a5ef 313.5px,#0097f2 314.5px,#006ef9 316.5px,#0043fd 318.5px,#0026fe 320.5px,#0019ff 322.5px,#0011ff 325.5px,#000eff 329.5px,#0000ff 330.5px,#0000ff 344.5px)"></i>
<i style="left:503px;width:3px;background:linear-gradient(#0002ff 0.5px,#0005ff 121.5px,#000bff 145.5px,#0014ff 155.5px,#0020fe 159.5px,#002dfe 161.5px,#0042fd 163.5px,#0060fa 165.5px,#00a6ef 169.5px,#00b4ec 170.5px,#00c5e7 172.5px,#00c7e6 174.5px,#00bfe9 176.5px,#00afed 178.5px,#0069f9 184.5px,#004dfc 187.5px,#0040fd 189.5px,#0031fe 193.5px,#0025fe 201.5px,#001dff 213.5px,#001cff 228.5px,#0025fe 242.5px,#002cfe 247.5px,#0037fd 250.5px,#004afc 252.5px,#0058fb 253.5px,#006cf9 254.5px,#009ff1 256.5px,#00bbea 257.5px,#00d3e1 258.5px,#11e5d8 259.5px,#2ff1d0 260.5px,#43f7c9 261.5px,#4bf9c7 262.5px,#45f8c8 263.5px,#34f3ce 264.5px,#18e8d6 265.5px,#00d7e0 266.5px,#00a4f0 268.5px,#0070f8 270.5px,#005bfb 271.5px,#004bfc 272.5px,#003ffd 273.5px,#0032fe 275.5px,#0027fe 279.5px,#001bff 291.5px,#001aff 299.5px,#0020fe 302.5px,#002ffe 304.5px,#003cfd 305.5px,#0061fa 307.5px,#0089f5 309.5px,#0098f2 310.5px,#00a0f0 311.5px,#00a1f0 312.5px,#009bf1 313.5px,#008ef4 314.5px,#0067fa 316.5px,#003ffd 318.5px,#0024fe 320.5px,#0017ff 322.5px,#0010ff 326.5px,#000eff 329.5px,#0000ff 330.5px,#0000ff 344.5px)"></i>
<i style="left:506px;width:3px;background:linear-gradient(#0002ff 0.5px,#0005ff 122.5px,#000bff 145.5px,#0014ff 155.5px,#0020fe 159.5px,#002dfe 161.5px,#0042fd 163.5px,#0060fa 165.5px,#00a6ef 169.5px,#00b4ec 170.5px,#00c5e7 172.5px,#00c7e6 174.5px,#00bfe9 176.5px,#00afed 178.5px,#0069f9 184.5px,#004dfc 187.5px,#0040fd 189.5px,#0031fe 193.5px,#0025fe 201.5px,#001dff 213.5px,#001cff 227.5px,#0022fe 239.5px,#002bfe 247.5px,#0036fe 250.5px,#003dfd 251.5px,#0056fb 253.5px,#0069f9 254.5px,#009bf1 256.5px,#00cee3 258.5px,#09e1da 259.5px,#26eed2 260.5px,#39f4cc 261.5px,#41f7ca 262.5px,#3bf5cc 263.5px,#2aefd1 264.5px,#0fe4d9 265.5px,#00d2e2 266.5px,#00bbea 267.5px,#0085f5 269.5px,#0058fb 271.5px,#0049fc 272.5px,#0036fe 274.5px,#002dfe 276.5px,#0022fe 282.5px,#0019ff 295.5px,#0019ff 299.5px,#001bff 301.5px,#0024fe 303.5px,#0039fd 305.5px,#0048fc 306.5px,#0080f6 309.5px,#008ef4 310.5px,#0096f2 311.5px,#0098f2 312.5px,#0092f3 313.5px,#0085f5 314.5px,#0060fa 316.5px,#003bfd 318.5px,#0022fe 320.5px,#0016ff 322.5px,#000fff 326.5px,#000dff 329.5px,#0000ff 330.5px,#0000ff 344.5px)"></i>
<i style="left:509px;width:3px;background:linear-gradient(#0002ff 0.5px,#0005ff 122.5px,#000cff 147.5px,#0014ff 155.5px,#0020fe 159.5px,#002dfe 161.5px,#0041fd 163.5px,#005ffa 165.5px,#00a5ef 169.5px,#00bde9 171.5px,#00c6e6 173.5px,#00c2e8 175.5px,#00b6eb 177.5px,#0098f2 180.5px,#0068f9 184.5px,#004cfc 187.5px,#0037fe 191.5px,#002dfe 195.5px,#0022fe 204.5px,#001bff 218.5px,#001dff 233.5px,#0026fe 244.5px,#002cfe 248.5px,#0034fe 250.5px,#0045fd 252.5px,#0053fb 253.5px,#0066fa 254.5px,#0096f2 256.5px,#00c9e5 258.5px,#00dddd 259.5px,#1bead5 260.5px,#2ef1d0 261.5px,#35f3ce 262.5px,#30f2cf 263.5px,#1febd4 264.5px,#05e0db 265.5px,#00cde4 266.5px,#00b6eb 267.5px,#0081f6 269.5px,#0069f9 270.5px,#0055fb 271.5px,#0046fd 272.5px,#0034fe 274.5px,#0028fe 277.5px,#001cff 287.5px,#0017ff 298.5px,#001aff 301.5px,#0022fe 303.5px,#0035fe 305.5px,#0043fd 306.5px,#0078f7 309.5px,#0085f6 310.5px,#008cf4 311.5px,#008ef4 312.5px,#0088f5 313.5px,#007cf7 314.5px,#0059fb 316.5px,#0037fe 318.5px,#0020fe 320.5px,#0015ff 322.5px,#000eff 326.5px,#000dff 329.5px,#0000ff 330.5px,#0000ff 344.5px)"></i>
<i style="left:512px;width:3px;background:linear-gradient(#0002ff 0.5px,#0005ff 123.5px,#000bff 146.5px,#0014ff 155.5px,#001fff 159.5px,#002cfe 161.5px,#0040fd 163.5px,#005dfb 165.5px,#00a2f0 169.5px,#00baea 171.5px,#00c3e7 173.5px,#00bfe9 175.5px,#00b3ec 177.5px,#0095f3 180.5px,#0066fa 184.5px,#004bfc 187.5px,#003efd 189.5px,#0030fe 193.5px,#0026fe 199.5px,#001cff 212.5px,#001bff 229.5px,#0023fe 243.5px,#002bfe 248.5px,#0032fe 250.5px,#0043fd 252.5px,#0050fc 253.5px,#0062fa 254.5px,#0091f3 256.5px,#00c3e7 258.5px,#00d7e0 259.5px,#10e5d9 260.5px,#22ecd4 261.5px,#29efd1 262.5px,#24edd3 263.5px,#14e6d7 264.5px,#00dade 265.5px,#00c7e6 266.5px,#0096f3 268.5px,#0065fa 270.5px,#0052fc 271.5px,#0039fd 273.5px,#002dfe 275.5px,#0023fe 279.5px,#0017ff 293.5px,#0017ff 300.5px,#001bff 302.5px,#0027fe 304.5px,#0031fe 305.5px,#004efc 307.5px,#006ff9 309.5px,#007bf7 310.5px,#0082f6 311.5px,#0084f6 312.5px,#007ef7 313.5px,#0073f8 314.5px,#0033fe 318.5px,#001eff 320.5px,#0014ff 322.5px,#000eff 325.5px,#000cff 329.5px,#0000ff 330.5px,#0000ff 344.5px)"></i>
<i style="left:515px;width:3px;background:linear-gradient(#0002ff 0.5px,#0005ff 124.5px,#000bff 147.5px,#0013ff 155.5px,#001eff 159.5px,#002afe 161.5px,#003efd 163.5px,#005afb 165.5px,#009df1 169.5px,#00abee 170.5px,#00b5eb 171.5px,#00bee9 173.5px,#00baea 175.5px,#00aeed 177.5px,#009bf1 179.5px,#0063fa 184.5px,#0048fc 187.5px,#0038fd 190.5px,#002afe 195.5px,#001eff 207.5px,#0019ff 225.5px,#001fff 240.5px,#0029fe 248.5px,#0030fe 250.5px,#0040fd 252.5px,#004dfc 253.5px,#005efa 254.5px,#008bf4 256.5px,#00bde9 258.5px,#00d1e2 259.5px,#03dfdc 260.5px,#15e7d7 261.5px,#1bead5 262.5px,#17e8d7 263.5px,#07e1db 264.5px,#00d4e1 265.5px,#00c1e8 266.5px,#0077f8 269.5px,#0061fa 270.5px,#004ffc 271.5px,#0041fd 272.5px,#0030fe 274.5px,#0025fe 277.5px,#001bff 286.5px,#0015ff 298.5px,#0017ff 301.5px,#001eff 303.5px,#0024fe 304.5px,#003afd 306.5px,#0066fa 309.5px,#0072f8 310.5px,#0078f7 311.5px,#0079f7 312.5px,#0074f8 313.5px,#006af9 314.5px,#002ffe 318.5px,#001cff 320.5px,#0012ff 322.5px,#000bff 329.5px,#0000ff 330.5px,#0000ff 344.5px)"></i>
<i style="left:518px;width:4px;background:linear-gradient(#0002ff 0.5px,#0005ff 126.5px,#000bff 147.5px,#0014ff 156.5px,#001dff 159.5px,#0029fe 161.5px,#003bfd 163.5px,#0056fb 165.5px,#0097f2 169.5px,#00aeed 171.5px,#00b5eb 172.5px,#00b6eb 174.5px,#00afed 176.5px,#009ff1 178.5px,#0055fb 185.5px,#003ffd 188.5px,#002cfe 193.5px,#0021fe 201.5px,#0019ff 218.5px,#001aff 234.5px,#0023fe 246.5px,#002efe 250.5px,#003dfd 252.5px,#0049fc 253.5px,#0059fb 254.5px,#0085f5 256.5px,#00b5eb 258.5px,#00c9e5 259.5px,#00d8df 260.5px,#07e0db 261.5px,#0de3d9 262.5px,#09e1db 263.5px,#00dade 264.5px,#00cce4 265.5px,#00b9ea 266.5px,#0089f5 268.5px,#005cfb 270.5px,#004bfc 271.5px,#0034fe 273.5px,#0029fe 275.5px,#0020fe 279.5px,#0016ff 291.5px,#0015ff 300.5px,#0018ff 302.5px,#0022fe 304.5px,#0035fe 306.5px,#005efb 309.5px,#0068f9 310.5px,#006ef9 311.5px,#006ff9 312.5px,#006bf9 313.5px,#0054fb 315.5px,#002bfe 318.5px,#001aff 320.5px,#0011ff 322.5px,#000bff 329.5px,#0000ff 330.5px,#0000ff 344.5px)"></i>
<i style="left:522px;width:3px;background:linear-gradient(#0002ff 0.5px,#0005ff 128.5px,#000bff 148.5px,#0013ff 156.5px,#0020fe 160.5px,#002efe 162.5px,#0044fd 164.5px,#0060fa 166.5px,#008ff4 169.5px,#00a6ef 171.5px,#00afed 173.5px,#00abee 175.5px,#00a0f1 177.5px,#0079f7 181.5px,#005afb 184.5px,#0042fd 187.5px,#002ffe 191.5px,#0024fe 197.5px,#001aff 210.5px,#0017ff 227.5px,#0020fe 245.5px,#0028fe 249.5px,#0031fe 251.5px,#0039fd 252.5px,#0045fd 253.5px,#0068f9 255.5px,#00aded 258.5px,#00c1e8 259.5px,#00d0e3 260.5px,#00d9df 261.5px,#00dcdd 262.5px,#00dade 263.5px,#00d2e2 264.5px,#00c4e7 265.5px,#009bf2 267.5px,#006bf9 269.5px,#0057fb 270.5px,#003afd 272.5px,#002bfe 274.5px,#0024fe 276.5px,#001bff 282.5px,#0013ff 296.5px,#0014ff 301.5px,#001aff 303.5px,#0027fe 305.5px,#003cfd 307.5px,#0055fb 309.5px,#005ffa 310.5px,#0065fa 311.5px,#0065fa 312.5px,#0061fa 313.5px,#004dfc 315.5px,#0027fe 318.5px,#0017ff 320.5px,#000eff 323.5px,#000aff 329.5px,#0000ff 330.5px,#0000ff 344.5px)"></i>
<i style="left:525px;width:3px;background:linear-gradient(#0002ff 0.5px,#0005ff 130.5px,#000cff 150.5px,#0014ff 157.5px,#001eff 160.5px,#002bfe 162.5px,#003ffd 164.5px,#0078f7 168.5px,#0093f3 170.5px,#00a2f0 172.5px,#00a5ef 173.5px,#00a1f0 175.5px,#0096f2 177.5px,#0071f8 181.5px,#004bfc 185.5px,#0038fd 188.5px,#002afe 192.5px,#0021fe 198.5px,#0018ff 212.5px,#0017ff 231.5px,#001eff 244.5px,#0025fe 249.5px,#002efe 251.5px,#0041fd 253.5px,#0062fa 255.5px,#00a5ef 258.5px,#00b8eb 259.5px,#00c7e6 260.5px,#00d0e3 261.5px,#00d3e1 262.5px,#00d1e2 263.5px,#00c9e5 264.5px,#00bbea 265.5px,#0092f3 267.5px,#0065fa 269.5px,#0052fc 270.5px,#0037fe 272.5px,#0028fe 274.5px,#001fff 277.5px,#0015ff 288.5px,#0012ff 300.5px,#0018ff 303.5px,#0023fe 305.5px,#0056fb 310.5px,#005bfb 311.5px,#005cfb 312.5px,#0058fb 313.5px,#0045fd 315.5px,#0024fe 318.5px,#0015ff 320.5px,#000dff 323.5px,#0009ff 329.5px,#0000ff 330.5px,#0000ff 344.5px)"></i>
<i style="left:528px;width:3px;background:linear-gradient(#0002ff 0.5px,#0005ff 132.5px,#000cff 151.5px,#0015ff 158.5px,#0021fe 161.5px,#0030fe 163.5px,#0046fd 165.5px,#0088f5 170.5px,#0097f2 172.5px,#0098f2 174.5px,#0091f3 176.5px,#0084f6 178.5px,#004dfc 184.5px,#0034fe 188.5px,#0027fe 192.5px,#001cff 201.5px,#0015ff 221.5px,#0017ff 236.5px,#0020fe 248.5px,#002bfe 251.5px,#0032fe 252.5px,#004afc 254.5px,#0070f8 256.5px,#009bf1 258.5px,#00aeed 259.5px,#00bde9 260.5px,#00c6e6 261.5px,#00c9e5 262.5px,#00c7e6 263.5px,#00bfe9 264.5px,#00b1ec 265.5px,#008af5 267.5px,#005ffa 269.5px,#003efd 271.5px,#002bfe 273.5px,#001fff 276.5px,#0014ff 287.5px,#0010ff 299.5px,#0013ff 302.5px,#001aff 304.5px,#0028fe 306.5px,#004dfc 310.5px,#0052fc 311.5px,#004ffc 313.5px,#003efd 315.5px,#0020fe 318.5px,#0014ff 320.5px,#000dff 322.5px,#0009ff 329.5px,#0000ff 330.5px,#0000ff 344.5px)"></i>
<i style="left:531px;width:3px;background:linear-gradient(#0002ff 0.5px,#0004ff 125.5px,#000aff 148.5px,#0012ff 157.5px,#001aff 160.5px,#0024fe 162.5px,#003ffd 165.5px,#007cf7 170.5px,#008af5 172.5px,#008bf4 174.5px,#0085f5 176.5px,#0068f9 180.5px,#003ffd 185.5px,#002bfe 189.5px,#001fff 195.5px,#0016ff 210.5px,#0014ff 232.5px,#001bff 245.5px,#0020fe 249.5px,#0028fe 251.5px,#0038fd 253.5px,#0055fb 255.5px,#00a4f0 259.5px,#00b2ec 260.5px,#00bbea 261.5px,#00bee9 262.5px,#00bce9 263.5px,#00b4ec 264.5px,#0095f3 266.5px,#0058fb 269.5px,#0047fc 270.5px,#002ffe 272.5px,#0023fe 274.5px,#001bff 277.5px,#0011ff 290.5px,#0010ff 301.5px,#0017ff 304.5px,#0023fe 306.5px,#003efd 309.5px,#0049fc 311.5px,#0046fd 313.5px,#0037fd 315.5px,#0016ff 319.5px,#000cff 322.5px,#0008ff 329.5px,#0000ff 330.5px,#0000ff 344.5px)"></i>
<i style="left:534px;width:3px;background:linear-gradient(#0002ff 0.5px,#0004ff 127.5px,#000cff 152.5px,#0012ff 158.5px,#001cff 161.5px,#0027fe 163.5px,#0043fd 166.5px,#0066fa 169.5px,#0077f7 171.5px,#007ef6 173.5px,#007bf7 175.5px,#0072f8 177.5px,#0055fb 181.5px,#0033fe 186.5px,#0024fe 190.5px,#001bff 197.5px,#0014ff 214.5px,#0014ff 236.5px,#001bff 247.5px,#0021fe 250.5px,#002cfe 252.5px,#0034fe 253.5px,#004ffc 255.5px,#009af2 259.5px,#00a7ef 260.5px,#00b0ed 261.5px,#00b4ec 262.5px,#00b1ec 263.5px,#00a9ee 264.5px,#009cf1 265.5px,#0078f7 267.5px,#0052fc 269.5px,#0042fd 270.5px,#002cfe 272.5px,#0020fe 274.5px,#0018ff 278.5px,#000fff 292.5px,#000fff 301.5px,#0015ff 304.5px,#0020ff 306.5px,#003cfd 310.5px,#0040fd 311.5px,#003efd 313.5px,#0031fe 315.5px,#0019ff 318.5px,#000dff 321.5px,#0008ff 327.5px,#0007ff 329.5px,#0000ff 330.5px,#0000ff 344.5px)"></i>
<i style="left:537px;width:3px;background:linear-gradient(#0002ff 0.5px,#0004ff 128.5px,#000dff 154.5px,#0015ff 159.5px,#001cff 161.5px,#0031fe 164.5px,#005afb 168.5px,#006ef9 170.5px,#0079f7 172.5px,#007af7 174.5px,#0073f8 176.5px,#0060fa 179.5px,#003bfd 184.5px,#002bfe 187.5px,#001fff 191.5px,#0018ff 198.5px,#0012ff 220.5px,#0014ff 240.5px,#001cff 249.5px,#0022fe 251.5px,#0030fe 253.5px,#0049fc 255.5px,#008ef4 259.5px,#009cf1 260.5px,#00a4f0 261.5px,#00a8ef 262.5px,#00a5ef 263.5px,#009ef1 264.5px,#0081f6 266.5px,#004bfc 269.5px,#0031fe 271.5px,#0022fe 273.5px,#0017ff 277.5px,#000eff 292.5px,#000eff 302.5px,#0017ff 305.5px,#0035fe 310.5px,#0039fd 312.5px,#0032fe 314.5px,#0017ff 318.5px,#000eff 320.5px,#0008ff 325.5px,#0007ff 329.5px,#0000ff 330.5px,#0000ff 344.5px)"></i>
<i style="left:540px;width:4px;background:linear-gradient(#0002ff 0.5px,#0004ff 127.5px,#000eff 155.5px,#0016ff 159.5px,#0025fe 162.5px,#0034fe 164.5px,#0071f8 170.5px,#007bf7 172.5px,#007bf7 174.5px,#0073f8 176.5px,#005ffa 179.5px,#0038fd 184.5px,#0024fe 188.5px,#001aff 193.5px,#0014ff 205.5px,#0011ff 230.5px,#0015ff 245.5px,#0019ff 249.5px,#0025fe 252.5px,#0036fe 254.5px,#0052fc 256.5px,#0084f6 259.5px,#0099f2 261.5px,#009cf1 262.5px,#009af2 263.5px,#0092f3 264.5px,#0077f7 266.5px,#0045fd 269.5px,#002dfe 271.5px,#001fff 273.5px,#0015ff 277.5px,#000cff 295.5px,#000eff 303.5px,#0019ff 306.5px,#002ffe 310.5px,#0032fe 312.5px,#002cfe 314.5px,#0010ff 319.5px,#0008ff 323.5px,#0006ff 329.5px,#0000ff 330.5px,#0000ff 344.5px)"></i>
<i style="left:544px;width:3px;background:linear-gradient(#0002ff 0.5px,#0004ff 126.5px,#000dff 154.5px,#0013ff 158.5px,#001eff 161.5px,#0033fe 164.5px,#0063fa 169.5px,#0071f8 171.5px,#0076f8 173.5px,#006df9 176.5px,#0049fc 181.5px,#002efe 185.5px,#0021fe 188.5px,#0018ff 193.5px,#0012ff 210.5px,#0011ff 237.5px,#0016ff 248.5px,#001dff 251.5px,#0029fe 253.5px,#003efd 255.5px,#007af7 259.5px,#0086f5 260.5px,#008ef4 261.5px,#0091f3 262.5px,#008ff4 263.5px,#0088f5 264.5px,#006ef9 266.5px,#0040fd 269.5px,#0033fe 270.5px,#0022fe 272.5px,#0019ff 274.5px,#0011ff 280.5px,#000bff 297.5px,#000dff 303.5px,#0016ff 306.5px,#002afe 310.5px,#002dfe 312.5px,#0027fe 314.5px,#000eff 319.5px,#0008ff 323.5px,#0006ff 329.5px,#0000ff 330.5px,#0000ff 344.5px)"></i>
<i style="left:547px;width:3px;background:linear-gradient(#0002ff 0.5px,#0004ff 124.5px,#000bff 147.5px,#000dff 155.5px,#0014ff 159.5px,#0021fe 162.5px,#0037fd 165.5px,#005cfb 169.5px,#0069f9 171.5px,#006df9 173.5px,#0064fa 176.5px,#002ffe 184.5px,#001cff 189.5px,#0014ff 197.5px,#000fff 234.5px,#0014ff 248.5px,#001fff 252.5px,#002efe 254.5px,#0046fd 256.5px,#0071f8 259.5px,#007cf7 260.5px,#0083f6 261.5px,#0086f5 262.5px,#0084f6 263.5px,#0073f8 265.5px,#003bfd 269.5px,#0026fe 271.5px,#001bff 273.5px,#0013ff 276.5px,#000bff 292.5px,#000bff 302.5px,#0010ff 305.5px,#0025fe 310.5px,#0028fe 312.5px,#0023fe 314.5px,#0010ff 318.5px,#0009ff 321.5px,#0005ff 329.5px,#0000ff 330.5px,#0000ff 344.5px)"></i>
<i style="left:550px;width:3px;background:linear-gradient(#0002ff 0.5px,#0003ff 115.5px,#000bff 145.5px,#000cff 155.5px,#0013ff 159.5px,#001fff 162.5px,#003cfd 166.5px,#005cfb 170.5px,#0064fa 172.5px,#0063fa 174.5px,#0057fb 177.5px,#002bfe 184.5px,#001dff 188.5px,#0015ff 193.5px,#000fff 231.5px,#0011ff 245.5px,#0016ff 250.5px,#001dff 252.5px,#002afe 254.5px,#0040fd 256.5px,#0068f9 259.5px,#0079f7 261.5px,#007cf7 262.5px,#007af7 263.5px,#0074f8 264.5px,#005efb 266.5px,#0036fe 269.5px,#0023fe 271.5px,#0018ff 273.5px,#0011ff 277.5px,#000aff 293.5px,#000aff 302.5px,#0012ff 306.5px,#0021fe 310.5px,#0023fe 312.5px,#001fff 314.5px,#000cff 319.5px,#0006ff 324.5px,#0005ff 329.5px,#0000ff 330.5px,#0000ff 344.5px)"></i>
<i style="left:553px;width:3px;background:linear-gradient(#0002ff 0.5px,#0003ff 113.5px,#000bff 140.5px,#000bff 155.5px,#0011ff 159.5px,#001dff 162.5px,#0038fd 166.5px,#0056fb 170.5px,#005dfb 172.5px,#005cfb 174.5px,#0051fc 177.5px,#0028fe 184.5px,#001bff 188.5px,#0014ff 193.5px,#000eff 237.5px,#0012ff 248.5px,#0017ff 251.5px,#0020fe 253.5px,#0030fe 255.5px,#006af9 260.5px,#0070f8 261.5px,#0071f8 263.5px,#0062fa 265.5px,#0032fe 269.5px,#0020fe 271.5px,#0014ff 274.5px,#000fff 278.5px,#0009ff 295.5px,#0009ff 302.5px,#0010ff 306.5px,#001eff 310.5px,#0020ff 312.5px,#0018ff 315.5px,#000bff 319.5px,#0006ff 323.5px,#0005ff 329.5px,#0000ff 330.5px,#0000ff 344.5px)"></i>
<i style="left:556px;width:3px;background:linear-gradient(#0002ff 0.5px,#0003ff 110.5px,#000cff 139.5px,#0009ff 154.5px,#0010ff 159.5px,#0021fe 163.5px,#0050fc 170.5px,#0057fb 172.5px,#0056fb 174.5px,#0046fd 178.5px,#0025fe 184.5px,#0017ff 189.5px,#0012ff 199.5px,#000fff 230.5px,#000fff 246.5px,#0015ff 251.5px,#0024fe 254.5px,#0037fe 256.5px,#0061fa 260.5px,#006af9 262.5px,#0063fa 264.5px,#0044fd 267.5px,#002efe 269.5px,#001eff 271.5px,#0012ff 274.5px,#000cff 281.5px,#0008ff 301.5px,#000cff 305.5px,#001bff 310.5px,#001dff 312.5px,#0012ff 316.5px,#0007ff 321.5px,#0005ff 329.5px,#0000ff 330.5px,#0000ff 344.5px)"></i>
<i style="left:559px;width:3px;background:linear-gradient(#0002ff 0.5px,#0003ff 106.5px,#000cff 137.5px,#0008ff 153.5px,#000dff 158.5px,#001aff 162.5px,#0032fe 166.5px,#004bfc 170.5px,#0051fc 172.5px,#004efc 175.5px,#0036fe 180.5px,#001fff 185.5px,#0015ff 190.5px,#0013ff 204.5px,#000eff 243.5px,#0012ff 250.5px,#001bff 253.5px,#0029fe 255.5px,#005afb 260.5px,#0061fa 262.5px,#0060fa 263.5px,#0053fc 265.5px,#002afe 269.5px,#001bff 271.5px,#0011ff 274.5px,#000bff 281.5px,#0007ff 301.5px,#000bff 305.5px,#001aff 311.5px,#0017ff 314.5px,#0007ff 320.5px,#0004ff 329.5px,#0000ff 330.5px,#0000ff 344.5px)"></i>
<i style="left:562px;width:4px;background:linear-gradient(#0002ff 0.5px,#0003ff 103.5px,#000cff 133.5px,#0007ff 152.5px,#000bff 157.5px,#0015ff 161.5px,#0029fe 165.5px,#0047fc 170.5px,#004dfc 173.5px,#0042fd 177.5px,#0021fe 184.5px,#0017ff 188.5px,#0013ff 194.5px,#0011ff 224.5px,#000dff 243.5px,#0011ff 250.5px,#0019ff 253.5px,#002efe 256.5px,#0053fc 260.5px,#005afb 262.5px,#0054fb 264.5px,#001fff 270.5px,#0015ff 272.5px,#000eff 275.5px,#0008ff 290.5px,#0008ff 303.5px,#000fff 307.5px,#0017ff 311.5px,#0017ff 313.5px,#0007ff 320.5px,#0004ff 329.5px,#0000ff 330.5px,#0000ff 344.5px)"></i>
<i style="left:566px;width:3px;background:linear-gradient(#0002ff 0.5px,#0003ff 99.5px,#000bff 127.5px,#0009ff 139.5px,#0006ff 151.5px,#000aff 157.5px,#0014ff 161.5px,#0027fe 165.5px,#0043fd 170.5px,#0048fc 172.5px,#0045fd 175.5px,#0035fe 179.5px,#0020ff 184.5px,#0017ff 188.5px,#0013ff 196.5px,#0014ff 216.5px,#000dff 243.5px,#0011ff 251.5px,#001dff 254.5px,#002bfe 256.5px,#004cfc 260.5px,#0053fc 262.5px,#004dfc 264.5px,#001dff 270.5px,#0013ff 272.5px,#000cff 276.5px,#0007ff 294.5px,#0007ff 303.5px,#0016ff 311.5px,#0011ff 315.5px,#0006ff 320.5px,#0004ff 329.5px,#0000ff 330.5px,#0000ff 344.5px)"></i>
<i style="left:569px;width:3px;background:linear-gradient(#0002ff 0.5px,#0003ff 96.5px,#000bff 124.5px,#0007ff 141.5px,#0005ff 152.5px,#000dff 159.5px,#001bff 163.5px,#0040fd 170.5px,#0045fd 172.5px,#0042fd 175.5px,#001cff 185.5px,#0015ff 189.5px,#0015ff 218.5px,#000dff 243.5px,#000fff 250.5px,#0016ff 253.5px,#0020fe 255.5px,#0046fd 260.5px,#004bfc 261.5px,#004bfc 263.5px,#0041fd 265.5px,#0021fe 269.5px,#0012ff 272.5px,#000bff 276.5px,#0006ff 298.5px,#0008ff 304.5px,#0014ff 311.5px,#0012ff 314.5px,#0006ff 320.5px,#0004ff 329.5px,#0000ff 330.5px,#0000ff 344.5px)"></i>
<i style="left:572px;width:3px;background:linear-gradient(#0002ff 0.5px,#0003ff 92.5px,#000bff 120.5px,#0004ff 150.5px,#0009ff 157.5px,#0016ff 162.5px,#0039fd 169.5px,#0042fd 172.5px,#003ffd 175.5px,#0031fe 179.5px,#001eff 184.5px,#0017ff 188.5px,#0015ff 196.5px,#0018ff 213.5px,#000dff 244.5px,#000eff 250.5px,#0019ff 254.5px,#002cfe 257.5px,#0041fd 260.5px,#0046fd 262.5px,#0041fd 264.5px,#0035fe 266.5px,#0018ff 270.5px,#000eff 273.5px,#0009ff 279.5px,#0006ff 302.5px,#000cff 307.5px,#0013ff 311.5px,#000eff 315.5px,#0005ff 321.5px,#0003ff 329.5px,#0000ff 331.5px,#0000ff 344.5px)"></i>
<i style="left:575px;width:3px;background:linear-gradient(#0002ff 0.5px,#0003ff 89.5px,#000bff 116.5px,#0004ff 148.5px,#0008ff 156.5px,#0012ff 161.5px,#0023fe 165.5px,#0038fd 169.5px,#0040fd 172.5px,#003dfd 175.5px,#001bff 185.5px,#0016ff 190.5px,#001aff 213.5px,#000dff 244.5px,#000eff 250.5px,#0013ff 253.5px,#0022fe 256.5px,#003cfd 260.5px,#0041fd 262.5px,#003cfd 264.5px,#0017ff 270.5px,#000fff 272.5px,#0009ff 277.5px,#0005ff 301.5px,#000dff 308.5px,#0012ff 312.5px,#0005ff 320.5px,#0003ff 329.5px,#0000ff 331.5px,#0000ff 344.5px)"></i>
<i style="left:578px;width:3px;background:linear-gradient(#0002ff 0.5px,#0003ff 86.5px,#000bff 112.5px,#0003ff 147.5px,#0007ff 156.5px,#000fff 160.5px,#001eff 164.5px,#003afd 170.5px,#003efd 173.5px,#0039fd 176.5px,#0020fe 183.5px,#0017ff 189.5px,#001dff 212.5px,#0015ff 228.5px,#000dff 244.5px,#000eff 251.5px,#0016ff 254.5px,#002cfe 258.5px,#003bfd 261.5px,#003bfd 263.5px,#0033fe 265.5px,#0015ff 270.5px,#000cff 273.5px,#0007ff 283.5px,#0006ff 303.5px,#0011ff 312.5px,#0005ff 320.5px,#0003ff 329.5px,#0000ff 331.5px,#0000ff 344.5px)"></i>
<i style="left:581px;width:3px;background:linear-gradient(#0002ff 0.5px,#0003ff 83.5px,#000bff 108.5px,#0003ff 143.5px,#0006ff 155.5px,#000fff 160.5px,#001dff 164.5px,#0035fe 169.5px,#003cfd 172.5px,#003cfd 174.5px,#0031fe 178.5px,#001fff 184.5px,#0019ff 188.5px,#001cff 197.5px,#0021fe 211.5px,#001aff 225.5px,#000dff 244.5px,#000eff 251.5px,#0014ff 254.5px,#0033fe 260.5px,#0037fd 262.5px,#0033fe 264.5px,#0013ff 270.5px,#000aff 274.5px,#0006ff 288.5px,#0006ff 304.5px,#0010ff 311.5px,#000dff 315.5px,#0005ff 320.5px,#0003ff 329.5px,#0000ff 331.5px,#0000ff 344.5px)"></i>
<i style="left:584px;width:3px;background:linear-gradient(#0002ff 0.5px,#0003ff 80.5px,#000bff 100.5px,#0008ff 118.5px,#0003ff 140.5px,#0006ff 155.5px,#0011ff 161.5px,#0036fe 170.5px,#003bfd 173.5px,#0035fe 177.5px,#0025fe 184.5px,#0023fe 189.5px,#0030fe 206.5px,#002dfe 216.5px,#0010ff 242.5px,#000dff 250.5px,#0013ff 254.5px,#0030fe 261.5px,#0030fe 263.5px,#002afe 265.5px,#0013ff 270.5px,#000bff 273.5px,#0007ff 284.5px,#0007ff 303.5px,#0011ff 312.5px,#0006ff 322.5px,#0006ff 329.5px,#0000ff 330.5px,#0000ff 344.5px)"></i>
<i style="left:587px;width:4px;background:linear-gradient(#0002ff 0.5px,#0003ff 77.5px,#000cff 96.5px,#0009ff 114.5px,#0004ff 139.5px,#0007ff 154.5px,#000dff 159.5px,#0019ff 163.5px,#0035fe 170.5px,#003bfd 173.5px,#0039fd 177.5px,#0032fe 183.5px,#0035fe 188.5px,#004afc 202.5px,#004cfc 211.5px,#0042fd 219.5px,#001aff 239.5px,#0010ff 248.5px,#0011ff 253.5px,#001cff 257.5px,#0029fe 261.5px,#002afe 263.5px,#0022fe 266.5px,#0011ff 271.5px,#000aff 276.5px,#0008ff 288.5px,#000cff 305.5px,#0012ff 312.5px,#000aff 322.5px,#000aff 329.5px,#0000ff 330.5px,#0000ff 344.5px)"></i>
<i style="left:591px;width:3px;background:linear-gradient(#0002ff 0.5px,#0003ff 74.5px,#000dff 94.5px,#000aff 112.5px,#0006ff 132.5px,#0008ff 153.5px,#000dff 158.5px,#001aff 163.5px,#0036fe 170.5px,#003dfd 174.5px,#0040fd 183.5px,#0053fb 191.5px,#006af9 200.5px,#0071f8 207.5px,#006ff9 212.5px,#005ffa 220.5px,#0025fe 239.5px,#0017ff 246.5px,#0013ff 252.5px,#0018ff 256.5px,#0025fe 262.5px,#0024fe 265.5px,#0011ff 272.5px,#000bff 279.5px,#000cff 293.5px,#0013ff 314.5px,#000fff 323.5px,#000fff 329.5px,#0000ff 330.5px,#0000ff 344.5px)"></i>
<i style="left:594px;width:3px;background:linear-gradient(#0002ff 0.5px,#0003ff 72.5px,#000eff 92.5px,#000aff 112.5px,#0008ff 136.5px,#000bff 154.5px,#0013ff 159.5px,#0021fe 163.5px,#0040fd 170.5px,#0049fc 175.5px,#004bfc 180.5px,#0056fb 185.5px,#0083f6 197.5px,#0090f4 202.5px,#0095f3 208.5px,#0091f3 213.5px,#0082f6 219.5px,#0063fa 227.5px,#003cfd 236.5px,#0025fe 243.5px,#0019ff 250.5px,#0017ff 254.5px,#001eff 259.5px,#0025fe 263.5px,#0020fe 267.5px,#0010ff 275.5px,#000dff 283.5px,#0014ff 314.5px,#0013ff 329.5px,#0000ff 330.5px,#0000ff 344.5px)"></i>
<i style="left:597px;width:3px;background:linear-gradient(#0003ff 0.5px,#0003ff 72.5px,#000eff 91.5px,#0009ff 124.5px,#000cff 152.5px,#0015ff 158.5px,#0024fe 162.5px,#004bfc 169.5px,#0055fb 173.5px,#0057fb 181.5px,#0062fa 185.5px,#0096f3 197.5px,#00a4f0 202.5px,#00abee 207.5px,#00a7ef 213.5px,#0097f2 219.5px,#0074f8 227.5px,#003ffd 238.5px,#002afe 244.5px,#0020fe 248.5px,#001bff 253.5px,#001cff 257.5px,#0026fe 263.5px,#0023fe 267.5px,#0013ff 275.5px,#000fff 283.5px,#0015ff 310.5px,#0016ff 329.5px,#0000ff 330.5px,#0000ff 344.5px)"></i>
<i style="left:600px;width:3px;background:linear-gradient(#0003ff 0.5px,#0003ff 71.5px,#000dff 89.5px,#0009ff 125.5px,#000eff 153.5px,#0014ff 157.5px,#0023fe 161.5px,#004cfc 168.5px,#0056fb 171.5px,#0058fb 173.5px,#004efc 181.5px,#0053fb 185.5px,#0080f6 198.5px,#008cf4 204.5px,#008ef4 210.5px,#0086f5 215.5px,#0079f7 220.5px,#0034fe 238.5px,#0021fe 245.5px,#0019ff 253.5px,#001fff 259.5px,#0027fe 264.5px,#0022fe 268.5px,#0012ff 277.5px,#0010ff 287.5px,#0016ff 313.5px,#0018ff 329.5px,#0000ff 330.5px,#0000ff 344.5px)"></i>
<i style="left:603px;width:3px;background:linear-gradient(#0003ff 0.5px,#0004ff 73.5px,#000cff 89.5px,#0009ff 119.5px,#000fff 153.5px,#0019ff 158.5px,#002dfe 162.5px,#0055fb 168.5px,#0060fa 171.5px,#0060fa 174.5px,#0052fc 181.5px,#0056fb 185.5px,#006cf9 191.5px,#0087f5 198.5px,#0095f3 204.5px,#0098f2 209.5px,#0090f4 215.5px,#0082f6 220.5px,#005afb 230.5px,#0036fe 239.5px,#0023fe 246.5px,#001cff 253.5px,#001fff 258.5px,#0028fe 264.5px,#0024fe 268.5px,#0014ff 277.5px,#0011ff 287.5px,#001aff 329.5px,#0000ff 330.5px,#0000ff 344.5px)"></i>
<i style="left:606px;width:3px;background:linear-gradient(#0002ff 0.5px,#0004ff 73.5px,#000bff 88.5px,#0009ff 116.5px,#000fff 151.5px,#0016ff 156.5px,#0025fe 160.5px,#0041fd 164.5px,#005efa 168.5px,#0067fa 170.5px,#006af9 173.5px,#005cfb 178.5px,#0055fb 181.5px,#0057fb 184.5px,#0067fa 189.5px,#0090f4 199.5px,#009cf1 204.5px,#00a0f1 209.5px,#009bf1 214.5px,#008ff4 219.5px,#006ff9 227.5px,#0043fd 237.5px,#002efe 243.5px,#0022fe 249.5px,#001fff 255.5px,#0026fe 261.5px,#002afe 265.5px,#0020ff 271.5px,#0017ff 276.5px,#0012ff 284.5px,#001bff 322.5px,#001dff 329.5px,#0000ff 330.5px,#0000ff 344.5px)"></i>
<i style="left:609px;width:4px;background:linear-gradient(#0002ff 0.5px,#0004ff 74.5px,#000aff 88.5px,#000aff 124.5px,#0011ff 152.5px,#0018ff 156.5px,#0023fe 159.5px,#0037fe 162.5px,#0060fa 167.5px,#0070f8 170.5px,#0073f8 172.5px,#006df9 175.5px,#005afb 180.5px,#0057fb 183.5px,#005dfb 186.5px,#0077f8 192.5px,#0094f3 199.5px,#00a2f0 204.5px,#00a6ef 209.5px,#00a2f0 214.5px,#0099f2 218.5px,#0088f5 223.5px,#0040fd 239.5px,#002dfe 245.5px,#0024fe 250.5px,#0021fe 256.5px,#002bfe 265.5px,#0024fe 270.5px,#0017ff 277.5px,#0013ff 288.5px,#001bff 317.5px,#0020ff 329.5px,#0000ff 330.5px,#0000ff 344.5px)"></i>
<i style="left:613px;width:3px;background:linear-gradient(#0002ff 0.5px,#0004ff 74.5px,#000bff 88.5px,#000aff 120.5px,#0011ff 151.5px,#0019ff 156.5px,#002cfe 160.5px,#004dfc 164.5px,#006ef9 168.5px,#0078f7 170.5px,#007af7 172.5px,#0073f8 175.5px,#005dfb 180.5px,#0058fb 183.5px,#0061fa 187.5px,#0098f2 199.5px,#00a8ef 205.5px,#00acee 210.5px,#00a5ef 216.5px,#0096f2 221.5px,#0073f8 229.5px,#0049fc 238.5px,#0033fe 244.5px,#0027fe 250.5px,#0023fe 256.5px,#002cfe 265.5px,#0027fe 269.5px,#0019ff 277.5px,#0014ff 287.5px,#001aff 313.5px,#0023fe 328.5px,#0023fe 329.5px,#0000ff 330.5px,#0000ff 344.5px)"></i>
<i style="left:616px;width:3px;background:linear-gradient(#0002ff 0.5px,#0004ff 74.5px,#000cff 90.5px,#000aff 122.5px,#0012ff 151.5px,#0018ff 155.5px,#0023fe 158.5px,#002ffe 160.5px,#0052fc 164.5px,#006ef9 167.5px,#007bf7 169.5px,#0081f6 171.5px,#007ff6 173.5px,#0073f8 176.5px,#005bfb 181.5px,#0059fb 184.5px,#0065fa 188.5px,#0095f3 198.5px,#00a4f0 202.5px,#00aeed 207.5px,#00afed 212.5px,#00a7ef 217.5px,#0094f3 223.5px,#0049fc 239.5px,#0034fe 245.5px,#0028fe 251.5px,#0025fe 256.5px,#002efe 265.5px,#0025fe 271.5px,#0018ff 279.5px,#0015ff 290.5px,#001cff 313.5px,#0026fe 327.5px,#0027fe 329.5px,#0000ff 330.5px,#0000ff 344.5px)"></i>
<i style="left:619px;width:3px;background:linear-gradient(#0002ff 0.5px,#0004ff 75.5px,#000dff 91.5px,#000aff 121.5px,#0012ff 150.5px,#0019ff 155.5px,#002afe 159.5px,#0042fd 162.5px,#0073f8 167.5px,#0080f6 169.5px,#0086f5 171.5px,#0084f6 173.5px,#007cf7 175.5px,#0060fa 180.5px,#0058fb 183.5px,#005dfb 186.5px,#006df9 190.5px,#0096f3 198.5px,#00a8ef 203.5px,#00b1ec 208.5px,#00b1ec 213.5px,#00a9ef 218.5px,#0094f3 224.5px,#0048fc 240.5px,#0032fe 247.5px,#0029fe 253.5px,#0028fe 258.5px,#002ffe 265.5px,#0029fe 270.5px,#001cff 277.5px,#0017ff 287.5px,#001aff 307.5px,#0022fe 318.5px,#002afe 327.5px,#002afe 329.5px,#0000ff 330.5px,#0000ff 344.5px)"></i>
<i style="left:622px;width:3px;background:linear-gradient(#0001ff 0.5px,#0004ff 76.5px,#000dff 92.5px,#000bff 123.5px,#000fff 143.5px,#0015ff 153.5px,#0021fe 157.5px,#0033fe 160.5px,#0064fa 165.5px,#0078f7 167.5px,#0085f5 169.5px,#008bf5 171.5px,#0088f5 173.5px,#0079f7 176.5px,#0060fa 180.5px,#0057fb 183.5px,#0058fb 185.5px,#006bf9 190.5px,#0099f2 199.5px,#00aaee 204.5px,#00b3ec 209.5px,#00b2ec 214.5px,#00a8ef 219.5px,#0093f3 225.5px,#004bfc 240.5px,#0034fe 247.5px,#002afe 254.5px,#002bfe 260.5px,#0030fe 265.5px,#002cfe 269.5px,#001eff 277.5px,#0018ff 286.5px,#001aff 304.5px,#0021fe 314.5px,#002efe 327.5px,#002efe 329.5px,#0000ff 330.5px,#0000ff 344.5px)"></i>
<i style="left:625px;width:3px;background:linear-gradient(#0001ff 0.5px,#0003ff 76.5px,#000dff 94.5px,#000cff 134.5px,#0014ff 152.5px,#001dff 156.5px,#002dfe 159.5px,#0047fc 162.5px,#007bf7 167.5px,#0089f5 169.5px,#008ef4 171.5px,#008bf4 173.5px,#007bf7 176.5px,#005ffa 180.5px,#0055fb 183.5px,#0058fb 186.5px,#0068f9 190.5px,#009bf1 200.5px,#00acee 205.5px,#00b3ec 210.5px,#00b0ed 216.5px,#00a4f0 221.5px,#0087f5 228.5px,#004efc 240.5px,#0039fd 246.5px,#002dfe 253.5px,#002cfe 260.5px,#0031fe 265.5px,#002afe 271.5px,#001eff 278.5px,#0019ff 290.5px,#001dff 308.5px,#0028fe 318.5px,#0032fe 327.5px,#0033fe 329.5px,#0000ff 330.5px,#0000ff 344.5px)"></i>
<i style="left:628px;width:3px;background:linear-gradient(#0001ff 0.5px,#0003ff 77.5px,#000dff 97.5px,#000cff 117.5px,#000cff 135.5px,#0014ff 152.5px,#001eff 156.5px,#0027fe 158.5px,#0048fc 162.5px,#007df7 167.5px,#008bf5 169.5px,#0090f4 171.5px,#008df4 173.5px,#007bf7 176.5px,#005efa 180.5px,#0055fb 182.5px,#0052fc 184.5px,#0057fb 187.5px,#006ff9 192.5px,#0098f2 200.5px,#00a9ee 205.5px,#00b1ed 209.5px,#00b1ed 215.5px,#00a7ef 220.5px,#0096f3 225.5px,#004cfc 241.5px,#0039fd 247.5px,#002ffe 253.5px,#002dfe 260.5px,#0031fe 266.5px,#002dfe 270.5px,#001eff 280.5px,#001bff 292.5px,#001eff 307.5px,#0028fe 316.5px,#0036fe 326.5px,#0037fd 329.5px,#0000ff 330.5px,#0000ff 344.5px)"></i>
<i style="left:631px;width:4px;background:linear-gradient(#0001ff 0.5px,#0003ff 79.5px,#000dff 101.5px,#000cff 122.5px,#000cff 136.5px,#0014ff 152.5px,#001eff 156.5px,#0027fe 158.5px,#003ffd 161.5px,#007ef7 167.5px,#008cf4 169.5px,#0091f3 171.5px,#008df4 173.5px,#007bf7 176.5px,#005cfb 180.5px,#0052fc 182.5px,#004efc 184.5px,#0053fb 187.5px,#006ff9 193.5px,#0093f3 200.5px,#00a8ef 206.5px,#00afed 211.5px,#00aeed 216.5px,#00a0f0 222.5px,#0080f6 230.5px,#0052fc 240.5px,#003dfd 246.5px,#0032fe 252.5px,#002efe 259.5px,#0032fe 267.5px,#0020fe 280.5px,#001cff 294.5px,#0021fe 308.5px,#002bfe 316.5px,#003afd 326.5px,#003bfd 329.5px,#0000ff 330.5px,#0000ff 344.5px)"></i>
<i style="left:635px;width:3px;background:linear-gradient(#0001ff 0.5px,#0003ff 82.5px,#000eff 108.5px,#000cff 137.5px,#0012ff 151.5px,#001aff 155.5px,#0027fe 158.5px,#003ffd 161.5px,#0074f8 166.5px,#0085f5 168.5px,#008ff4 170.5px,#008ff4 172.5px,#0087f5 174.5px,#0059fb 180.5px,#004ffc 182.5px,#004afc 184.5px,#004efc 187.5px,#0064fa 192.5px,#0092f3 201.5px,#00a3f0 206.5px,#00acee 212.5px,#00a9ee 217.5px,#009ef1 222.5px,#0084f6 229.5px,#0053fc 240.5px,#0041fd 245.5px,#0035fe 251.5px,#002ffe 259.5px,#0033fe 267.5px,#0021fe 281.5px,#001eff 295.5px,#0022fe 307.5px,#002afe 314.5px,#003efd 325.5px,#0040fd 329.5px,#0000ff 330.5px,#0000ff 344.5px)"></i>
<i style="left:638px;width:3px;background:linear-gradient(#0001ff 0.5px,#0003ff 85.5px,#000dff 110.5px,#000dff 142.5px,#0013ff 152.5px,#001dff 156.5px,#0026fe 158.5px,#0047fc 162.5px,#007cf7 167.5px,#0089f5 169.5px,#008ef4 171.5px,#0089f5 173.5px,#0076f8 176.5px,#0055fb 180.5px,#0047fc 183.5px,#0047fc 186.5px,#0054fb 190.5px,#008bf4 201.5px,#009df1 206.5px,#00a6ef 211.5px,#00a6ef 216.5px,#009ef1 221.5px,#0087f5 228.5px,#0053fb 240.5px,#003dfd 247.5px,#0032fe 255.5px,#0031fe 262.5px,#0033fe 267.5px,#002bfe 274.5px,#0022fe 283.5px,#0020fe 300.5px,#0027fe 310.5px,#0037fd 319.5px,#0043fd 326.5px,#0045fd 329.5px,#0000ff 330.5px,#0000ff 344.5px)"></i>
<i style="left:641px;width:3px;background:linear-gradient(#0001ff 0.5px,#0003ff 88.5px,#000eff 117.5px,#000dff 144.5px,#0012ff 152.5px,#001cff 156.5px,#0025fe 158.5px,#003cfd 161.5px,#0078f7 167.5px,#0085f5 169.5px,#008af5 171.5px,#0085f5 173.5px,#007af7 175.5px,#0051fc 180.5px,#0046fd 182.5px,#0040fd 185.5px,#0046fd 188.5px,#0061fa 194.5px,#0088f5 202.5px,#009bf2 208.5px,#00a2f0 214.5px,#009cf1 220.5px,#0088f5 227.5px,#004cfc 242.5px,#003afd 249.5px,#0031fe 258.5px,#0034fe 268.5px,#0024fe 282.5px,#0021fe 297.5px,#0027fe 308.5px,#0030fe 314.5px,#0047fd 325.5px,#0049fc 329.5px,#0000ff 330.5px,#0000ff 344.5px)"></i>
<i style="left:644px;width:3px;background:linear-gradient(#0001ff 0.5px,#0003ff 92.5px,#000eff 122.5px,#000dff 146.5px,#0013ff 153.5px,#001bff 156.5px,#002afe 159.5px,#0043fd 162.5px,#0074f8 167.5px,#0081f6 169.5px,#0085f5 171.5px,#0081f6 173.5px,#006df9 176.5px,#004cfc 180.5px,#0041fd 182.5px,#003bfd 185.5px,#0040fd 188.5px,#0059fb 194.5px,#007ff6 202.5px,#0093f3 208.5px,#009bf2 214.5px,#0098f2 219.5px,#008bf5 225.5px,#005efa 237.5px,#0046fd 244.5px,#0038fd 251.5px,#0032fe 260.5px,#0034fe 268.5px,#0026fe 282.5px,#0023fe 298.5px,#002afe 309.5px,#0037fd 316.5px,#004afc 324.5px,#004efc 329.5px,#0000ff 330.5px,#0000ff 344.5px)"></i>
<i style="left:647px;width:3px;background:linear-gradient(#0001ff 0.5px,#0003ff 97.5px,#000dff 123.5px,#000eff 149.5px,#0012ff 153.5px,#001dff 157.5px,#002ffe 160.5px,#0053fb 164.5px,#006ff9 167.5px,#007bf7 169.5px,#007ff6 171.5px,#007bf7 173.5px,#0067f9 176.5px,#0047fc 180.5px,#003cfd 182.5px,#0036fe 185.5px,#0037fd 187.5px,#0048fc 192.5px,#007ef7 204.5px,#008ef4 210.5px,#0093f3 215.5px,#008ff4 221.5px,#007df7 228.5px,#004cfc 242.5px,#003dfd 248.5px,#0033fe 258.5px,#0034fe 270.5px,#0028fe 282.5px,#0025fe 298.5px,#002cfe 309.5px,#0038fd 315.5px,#0050fc 325.5px,#0053fc 329.5px,#0000ff 330.5px,#0000ff 344.5px)"></i>
<i style="left:650px;width:3px;background:linear-gradient(#0001ff 0.5px,#0003ff 101.5px,#000dff 128.5px,#000eff 150.5px,#0012ff 154.5px,#0020fe 158.5px,#002cfe 160.5px,#004ffc 164.5px,#0069f9 167.5px,#0074f8 169.5px,#0078f7 171.5px,#0074f8 173.5px,#0061fa 176.5px,#0042fd 180.5px,#0033fe 183.5px,#0030fe 186.5px,#0039fd 190.5px,#0074f8 204.5px,#0085f5 210.5px,#008bf4 216.5px,#0088f5 221.5px,#0078f7 228.5px,#0048fc 243.5px,#003bfd 250.5px,#0033fe 260.5px,#0035fe 269.5px,#0029fe 284.5px,#0028fe 301.5px,#0030fe 310.5px,#003efd 316.5px,#0053fc 324.5px,#0057fb 329.5px,#0000ff 330.5px,#0000ff 344.5px)"></i>
<i style="left:653px;width:4px;background:linear-gradient(#0001ff 0.5px,#0003ff 106.5px,#000dff 131.5px,#000dff 150.5px,#0013ff 155.5px,#001eff 158.5px,#0030fe 161.5px,#0062fa 167.5px,#006cf9 169.5px,#0070f8 171.5px,#006cf9 173.5px,#005afb 176.5px,#003cfd 180.5px,#002efe 183.5px,#002bfe 186.5px,#0030fe 189.5px,#0045fd 195.5px,#006df9 205.5px,#007df7 211.5px,#0083f6 217.5px,#007cf7 224.5px,#0067f9 232.5px,#0045fd 244.5px,#0039fd 252.5px,#0034fe 262.5px,#0035fe 271.5px,#002bfe 284.5px,#002afe 301.5px,#0032fe 310.5px,#0047fc 318.5px,#0057fb 324.5px,#005cfb 329.5px,#0000ff 330.5px,#0000ff 344.5px)"></i>
<i style="left:657px;width:3px;background:linear-gradient(#0001ff 0.5px,#0003ff 110.5px,#000dff 136.5px,#000dff 151.5px,#0014ff 156.5px,#0020fe 159.5px,#003bfd 163.5px,#005afb 167.5px,#0064fa 169.5px,#0067f9 171.5px,#0063fa 173.5px,#0053fc 176.5px,#0031fe 181.5px,#0027fe 184.5px,#0026fe 187.5px,#0032fe 192.5px,#0066fa 206.5px,#0075f8 212.5px,#0079f7 218.5px,#0075f8 224.5px,#0063fa 232.5px,#0044fd 244.5px,#0039fd 252.5px,#0034fe 262.5px,#0035fe 271.5px,#002cfe 289.5px,#002cfe 301.5px,#0035fe 310.5px,#0044fd 316.5px,#0059fb 323.5px,#0061fa 328.5px,#0061fa 329.5px,#0000ff 330.5px,#0000ff 344.5px)"></i>
<i style="left:660px;width:3px;background:linear-gradient(#0001ff 0.5px,#0003ff 65.5px,#0003ff 114.5px,#000dff 140.5px,#000dff 152.5px,#0013ff 156.5px,#0022fe 160.5px,#0052fc 167.5px,#005bfb 169.5px,#005efa 171.5px,#005afb 173.5px,#004bfc 176.5px,#002cfe 181.5px,#0021fe 185.5px,#0024fe 189.5px,#0038fd 196.5px,#005bfb 206.5px,#006af9 212.5px,#0070f8 218.5px,#006df9 224.5px,#0060fa 231.5px,#0043fd 244.5px,#0039fd 252.5px,#0034fe 263.5px,#0037fe 270.5px,#002efe 288.5px,#002efe 300.5px,#0036fe 309.5px,#0045fd 315.5px,#0060fa 324.5px,#0065fa 329.5px,#0000ff 330.5px,#0000ff 344.5px)"></i>
<i style="left:663px;width:3px;background:linear-gradient(#0002ff 0.5px,#0002ff 54.5px,#0004ff 84.5px,#0002ff 113.5px,#000cff 142.5px,#000dff 153.5px,#0014ff 157.5px,#001fff 160.5px,#0049fc 167.5px,#0052fc 169.5px,#0055fb 171.5px,#004efc 174.5px,#0027fe 181.5px,#001eff 184.5px,#001eff 188.5px,#0028fe 193.5px,#0059fb 209.5px,#0064fa 215.5px,#0067fa 221.5px,#005ffa 229.5px,#0041fd 244.5px,#0039fd 252.5px,#0034fe 263.5px,#0037fe 271.5px,#0030fe 291.5px,#0032fe 304.5px,#003cfd 311.5px,#0052fc 318.5px,#0064fa 324.5px,#006af9 329.5px,#0000ff 330.5px,#0000ff 344.5px)"></i>
<i style="left:666px;width:3px;background:linear-gradient(#0002ff 0.5px,#0003ff 61.5px,#0004ff 90.5px,#0002ff 117.5px,#000bff 144.5px,#000dff 154.5px,#0014ff 158.5px,#0025fe 162.5px,#0041fd 167.5px,#004afc 170.5px,#004afc 172.5px,#0041fd 175.5px,#0023fe 181.5px,#0019ff 185.5px,#001aff 189.5px,#0029fe 196.5px,#0051fc 210.5px,#005bfb 216.5px,#005efa 222.5px,#0057fb 230.5px,#003efd 245.5px,#0038fd 254.5px,#0034fe 263.5px,#0037fd 271.5px,#0032fe 295.5px,#0036fe 306.5px,#0044fd 313.5px,#0066fa 323.5px,#006ef9 328.5px,#006ef9 329.5px,#0000ff 330.5px,#0000ff 344.5px)"></i>
<i style="left:669px;width:3px;background:linear-gradient(#0002ff 0.5px,#0003ff 60.5px,#0005ff 88.5px,#0002ff 119.5px,#000aff 148.5px,#000eff 156.5px,#0018ff 160.5px,#003cfd 168.5px,#0041fd 170.5px,#003ffd 173.5px,#0030fe 177.5px,#001cff 182.5px,#0015ff 186.5px,#001aff 192.5px,#0038fd 204.5px,#004ffc 214.5px,#0055fb 221.5px,#0052fc 229.5px,#003bfd 246.5px,#0034fe 263.5px,#0038fd 272.5px,#0034fe 298.5px,#003bfd 308.5px,#004afc 314.5px,#0067f9 322.5px,#0072f8 327.5px,#0073f8 329.5px,#0000ff 330.5px,#0000ff 344.5px)"></i>
<i style="left:672px;width:3px;background:linear-gradient(#0003ff 0.5px,#0003ff 58.5px,#0006ff 87.5px,#0003ff 125.5px,#000cff 155.5px,#0015ff 160.5px,#0036fe 169.5px,#0038fd 172.5px,#002efe 176.5px,#0018ff 182.5px,#0012ff 187.5px,#0019ff 194.5px,#0042fd 212.5px,#004dfc 221.5px,#004bfc 229.5px,#0039fd 247.5px,#0034fe 263.5px,#0038fd 272.5px,#0037fd 301.5px,#003efd 308.5px,#004dfc 314.5px,#006bf9 322.5px,#0076f8 327.5px,#0077f8 329.5px,#0000ff 330.5px,#0000ff 344.5px)"></i>
<i style="left:675px;width:4px;background:linear-gradient(#0003ff 0.5px,#0004ff 63.5px,#0007ff 87.5px,#0003ff 130.5px,#000bff 156.5px,#0015ff 161.5px,#002dfe 169.5px,#0030fe 171.5px,#002afe 175.5px,#0014ff 183.5px,#0010ff 188.5px,#0018ff 196.5px,#003efd 215.5px,#0045fd 223.5px,#0044fd 231.5px,#0037fd 248.5px,#0035fe 260.5px,#0035fe 265.5px,#0039fd 274.5px,#0039fd 301.5px,#0040fd 308.5px,#004dfc 313.5px,#0072f8 323.5px,#007bf7 328.5px,#007bf7 329.5px,#0000ff 330.5px,#0000ff 344.5px)"></i>
<i style="left:679px;width:3px;background:linear-gradient(#0003ff 0.5px,#0004ff 61.5px,#0008ff 88.5px,#0003ff 131.5px,#0009ff 155.5px,#0011ff 161.5px,#0026fe 169.5px,#0027fe 173.5px,#0011ff 184.5px,#000fff 191.5px,#001aff 200.5px,#0038fd 217.5px,#003ffd 226.5px,#0039fd 240.5px,#0036fe 250.5px,#0035fe 266.5px,#003afd 276.5px,#003bfd 301.5px,#0042fd 308.5px,#004ffc 313.5px,#0073f8 322.5px,#007ef7 327.5px,#007ff6 329.5px,#0000ff 330.5px,#0000ff 344.5px)"></i>
<i style="left:682px;width:3px;background:linear-gradient(#0004ff 0.5px,#0005ff 65.5px,#0009ff 91.5px,#0004ff 138.5px,#0009ff 156.5px,#0010ff 162.5px,#0020fe 170.5px,#0020fe 174.5px,#000eff 186.5px,#0010ff 195.5px,#0020fe 207.5px,#0033fe 219.5px,#0038fd 227.5px,#0037fe 238.5px,#0034fe 249.5px,#0035fe 260.5px,#0035fe 266.5px,#003bfd 278.5px,#003dfd 300.5px,#0045fd 308.5px,#004efc 312.5px,#0076f8 322.5px,#0081f6 327.5px,#0083f6 329.5px,#0000ff 330.5px,#0000ff 344.5px)"></i>
<i style="left:685px;width:3px;background:linear-gradient(#0004ff 0.5px,#0005ff 62.5px,#000aff 93.5px,#0005ff 140.5px,#0008ff 157.5px,#0013ff 165.5px,#001cff 172.5px,#0016ff 179.5px,#000dff 188.5px,#000fff 196.5px,#001cff 208.5px,#002ffe 222.5px,#0033fe 231.5px,#0033fe 250.5px,#0035fe 259.5px,#0034fe 265.5px,#003cfd 278.5px,#0040fd 302.5px,#0049fc 309.5px,#0058fb 314.5px,#007df7 323.5px,#0086f5 328.5px,#0086f5 329.5px,#0000ff 330.5px,#0000ff 344.5px)"></i>
<i style="left:688px;width:3px;background:linear-gradient(#0004ff 0.5px,#0006ff 66.5px,#000bff 92.5px,#0005ff 147.5px,#000aff 160.5px,#0018ff 173.5px,#0011ff 183.5px,#000dff 193.5px,#0012ff 203.5px,#002afe 223.5px,#002ffe 235.5px,#0032fe 251.5px,#0035fe 258.5px,#0034fe 266.5px,#003dfd 279.5px,#0042fd 302.5px,#004bfc 309.5px,#005bfb 314.5px,#007df7 322.5px,#0089f5 327.5px,#008af5 329.5px,#0000ff 330.5px,#0000ff 344.5px)"></i>
<i style="left:691px;width:3px;background:linear-gradient(#0004ff 0.5px,#0007ff 68.5px,#000cff 93.5px,#000aff 120.5px,#0006ff 153.5px,#000cff 164.5px,#0016ff 174.5px,#000dff 195.5px,#0013ff 207.5px,#0029fe 229.5px,#0031fe 251.5px,#0034fe 259.5px,#0034fe 266.5px,#003ffd 281.5px,#0044fd 302.5px,#004dfc 309.5px,#005dfb 314.5px,#007df7 321.5px,#008bf5 326.5px,#008df4 329.5px,#0000ff 330.5px,#0000ff 344.5px)"></i>
<i style="left:694px;width:3px;background:linear-gradient(#0004ff 0.5px,#0007ff 49.5px,#0008ff 70.5px,#000eff 96.5px,#0009ff 136.5px,#0007ff 157.5px,#0010ff 169.5px,#0015ff 176.5px,#0012ff 185.5px,#000eff 198.5px,#0012ff 209.5px,#0026fe 231.5px,#0031fe 253.5px,#0034fe 258.5px,#0033fe 266.5px,#0040fd 281.5px,#0046fd 302.5px,#004ffc 309.5px,#0064fa 315.5px,#0080f6 321.5px,#008ef4 326.5px,#0090f4 329.5px,#0000ff 330.5px,#0000ff 344.5px)"></i>
<i style="left:697px;width:4px;background:linear-gradient(#0004ff 0.5px,#0008ff 46.5px,#0008ff 69.5px,#000fff 95.5px,#000dff 125.5px,#0008ff 158.5px,#000fff 168.5px,#0016ff 177.5px,#0013ff 188.5px,#000eff 202.5px,#0014ff 214.5px,#0025fe 236.5px,#0030fe 253.5px,#0033fe 260.5px,#0033fe 266.5px,#0041fd 282.5px,#0049fc 304.5px,#0054fb 310.5px,#0067fa 315.5px,#008af5 323.5px,#0093f3 328.5px,#0093f3 329.5px,#0000ff 330.5px,#0000ff 344.5px)"></i>
<i style="left:701px;width:3px;background:linear-gradient(#0004ff 0.5px,#0008ff 40.5px,#0009ff 71.5px,#0011ff 100.5px,#000fff 126.5px,#0009ff 158.5px,#0010ff 168.5px,#0018ff 177.5px,#0016ff 187.5px,#000fff 203.5px,#0013ff 216.5px,#002efe 252.5px,#0032fe 258.5px,#0032fe 266.5px,#0042fd 282.5px,#004bfc 304.5px,#0053fc 309.5px,#0064fa 314.5px,#0089f5 322.5px,#0094f3 326.5px,#0096f2 329.5px,#0000ff 330.5px,#0000ff 344.5px)"></i>
<i style="left:704px;width:3px;background:linear-gradient(#0004ff 0.5px,#0009ff 42.5px,#0009ff 70.5px,#0012ff 99.5px,#0012ff 123.5px,#000bff 159.5px,#0012ff 168.5px,#001bff 177.5px,#0017ff 191.5px,#0010ff 206.5px,#0013ff 219.5px,#002cfe 252.5px,#0032fe 259.5px,#0032fe 267.5px,#0044fd 284.5px,#004dfc 304.5px,#0057fb 310.5px,#006bf9 315.5px,#008cf4 322.5px,#0098f2 327.5px,#0099f2 329.5px,#0000ff 330.5px,#0000ff 344.5px)"></i>
<i style="left:707px;width:3px;background:linear-gradient(#0004ff 0.5px,#000aff 46.5px,#000aff 73.5px,#0014ff 102.5px,#0014ff 125.5px,#000dff 158.5px,#0014ff 167.5px,#001eff 175.5px,#001dff 186.5px,#0011ff 210.5px,#0014ff 223.5px,#0027fe 248.5px,#0031fe 258.5px,#0031fe 266.5px,#0046fd 286.5px,#004efc 304.5px,#0059fb 310.5px,#006df9 315.5px,#008ef4 322.5px,#0099f2 326.5px,#009cf1 329.5px,#0000ff 330.5px,#0000ff 344.5px)"></i>
<i style="left:710px;width:3px;background:linear-gradient(#0004ff 0.5px,#000bff 49.5px,#000bff 75.5px,#0016ff 105.5px,#0015ff 133.5px,#000fff 158.5px,#0017ff 166.5px,#0022fe 173.5px,#0022fe 182.5px,#0012ff 214.5px,#0015ff 227.5px,#0027fe 250.5px,#0031fe 259.5px,#0031fe 267.5px,#0046fd 285.5px,#0051fc 305.5px,#005bfb 310.5px,#006ff9 315.5px,#008df4 321.5px,#009bf1 326.5px,#009ef1 329.5px,#0000ff 330.5px,#0000ff 344.5px)"></i>
<i style="left:713px;width:3px;background:linear-gradient(#0004ff 0.5px,#000cff 48.5px,#000bff 75.5px,#0017ff 106.5px,#0017ff 138.5px,#0012ff 157.5px,#0017ff 163.5px,#0028fe 173.5px,#0026fe 182.5px,#001cff 201.5px,#0013ff 217.5px,#0015ff 229.5px,#0024fe 248.5px,#0030fe 259.5px,#0030fe 266.5px,#0049fc 288.5px,#0051fc 304.5px,#005cfb 310.5px,#0071f8 315.5px,#0093f3 322.5px,#009ef1 326.5px,#00a0f0 329.5px,#0000ff 330.5px,#0000ff 344.5px)"></i>
<i style="left:716px;width:3px;background:linear-gradient(#0004ff 0.5px,#000cff 50.5px,#000bff 75.5px,#0019ff 110.5px,#0019ff 141.5px,#0014ff 156.5px,#001aff 162.5px,#002efe 172.5px,#002efe 177.5px,#0027fe 189.5px,#001fff 203.5px,#0015ff 217.5px,#0015ff 230.5px,#0021fe 247.5px,#002ffe 258.5px,#0030fe 267.5px,#0048fc 286.5px,#0054fb 305.5px,#005efa 310.5px,#0073f8 315.5px,#0095f3 322.5px,#00a0f1 326.5px,#00a2f0 329.5px,#0000ff 330.5px,#0000ff 344.5px)"></i>
<i style="left:719px;width:4px;background:linear-gradient(#0003ff 0.5px,#000dff 52.5px,#000cff 79.5px,#001bff 113.5px,#001bff 144.5px,#0017ff 156.5px,#001bff 160.5px,#0035fe 171.5px,#0035fe 176.5px,#002cfe 185.5px,#0027fe 200.5px,#0017ff 218.5px,#0015ff 230.5px,#0020fe 247.5px,#002ffe 259.5px,#0030fe 268.5px,#0049fc 287.5px,#0055fb 305.5px,#005ffa 310.5px,#0074f8 315.5px,#0092f3 321.5px,#00a2f0 326.5px,#00a4f0 329.5px,#0000ff 330.5px,#0000ff 344.5px)"></i>
<i style="left:723px;width:3px;background:linear-gradient(#0003ff 0.5px,#000dff 51.5px,#000cff 80.5px,#001cff 114.5px,#001eff 141.5px,#001aff 156.5px,#0021fe 161.5px,#003cfd 170.5px,#003efd 174.5px,#0031fe 183.5px,#002dfe 199.5px,#0018ff 221.5px,#0016ff 233.5px,#0021fe 249.5px,#002efe 259.5px,#0030fe 268.5px,#0049fc 287.5px,#0056fb 305.5px,#0061fa 310.5px,#0076f8 315.5px,#0094f3 321.5px,#00a1f0 325.5px,#00a6ef 329.5px,#0000ff 330.5px,#0000ff 344.5px)"></i>
<i style="left:726px;width:3px;background:linear-gradient(#0003ff 0.5px,#0009ff 31.5px,#000eff 56.5px,#000bff 77.5px,#001fff 121.5px,#0020ff 146.5px,#001dff 155.5px,#0023fe 160.5px,#0038fd 166.5px,#0046fd 171.5px,#0046fd 174.5px,#0035fe 183.5px,#0032fe 200.5px,#0022fe 215.5px,#0019ff 224.5px,#0017ff 235.5px,#0020ff 248.5px,#002efe 260.5px,#0030fe 269.5px,#004cfc 289.5px,#0057fb 305.5px,#0062fa 310.5px,#0077f8 315.5px,#009af2 322.5px,#00a5ef 326.5px,#00a7ef 329.5px,#0000ff 330.5px,#0000ff 344.5px)"></i>
<i style="left:729px;width:3px;background:linear-gradient(#0003ff 0.5px,#0009ff 32.5px,#000eff 54.5px,#000bff 79.5px,#0020fe 123.5px,#0023fe 145.5px,#0020fe 155.5px,#0025fe 159.5px,#0032fe 163.5px,#004bfc 169.5px,#004ffc 172.5px,#004cfc 175.5px,#003bfd 182.5px,#0037fd 187.5px,#0039fd 199.5px,#002efe 210.5px,#001cff 224.5px,#0018ff 235.5px,#001eff 247.5px,#002efe 261.5px,#002efe 268.5px,#004cfc 289.5px,#0058fb 305.5px,#0063fa 310.5px,#0078f7 315.5px,#0097f2 321.5px,#00a4f0 325.5px,#00a9ee 329.5px,#0000ff 330.5px,#0000ff 344.5px)"></i>
<i style="left:732px;width:3px;background:linear-gradient(#0003ff 0.5px,#0008ff 31.5px,#000fff 56.5px,#000bff 81.5px,#001aff 109.5px,#0024fe 133.5px,#0024fe 149.5px,#0024fe 156.5px,#002cfe 160.5px,#0047fc 166.5px,#0056fb 170.5px,#0057fb 173.5px,#004afc 178.5px,#003efd 182.5px,#003bfd 188.5px,#003ffd 198.5px,#0037fe 208.5px,#0020ff 224.5px,#001aff 232.5px,#001aff 242.5px,#0024fe 253.5px,#002dfe 260.5px,#002ffe 269.5px,#003efd 279.5px,#004ffc 292.5px,#0059fb 305.5px,#0064fa 310.5px,#0079f7 315.5px,#0098f2 321.5px,#00a5ef 325.5px,#00aaee 329.5px,#0000ff 330.5px,#0000ff 344.5px)"></i>
<i style="left:735px;width:3px;background:linear-gradient(#0004ff 0.5px,#0006ff 26.5px,#000fff 55.5px,#000cff 73.5px,#000cff 87.5px,#0024fe 130.5px,#0027fe 147.5px,#0026fe 155.5px,#0030fe 160.5px,#0058fb 168.5px,#005ffa 171.5px,#005ffa 173.5px,#004ffc 178.5px,#0042fd 182.5px,#003efd 186.5px,#0044fd 199.5px,#003ffd 207.5px,#0020fe 227.5px,#001aff 237.5px,#001fff 249.5px,#002dfe 261.5px,#002ffe 270.5px,#004dfc 290.5px,#005dfb 307.5px,#006cf9 312.5px,#0099f2 321.5px,#00a9ef 326.5px,#00abee 329.5px,#0000ff 330.5px,#0000ff 344.5px)"></i>
<i style="left:738px;width:3px;background:linear-gradient(#0005ff 0.5px,#0006ff 27.5px,#0010ff 59.5px,#000bff 84.5px,#0012ff 100.5px,#0026fe 133.5px,#0029fe 147.5px,#0029fe 155.5px,#0031fe 159.5px,#0043fd 163.5px,#005ffa 168.5px,#0066fa 170.5px,#0066fa 173.5px,#0058fb 177.5px,#0045fd 182.5px,#0041fd 187.5px,#004afc 199.5px,#0045fd 207.5px,#0021fe 229.5px,#001bff 241.5px,#0020ff 250.5px,#002dfe 262.5px,#002dfe 269.5px,#004cfc 289.5px,#005cfb 306.5px,#0065fa 310.5px,#0076f8 314.5px,#009af2 321.5px,#00a7ef 325.5px,#00acee 329.5px,#0000ff 330.5px,#0000ff 344.5px)"></i>
<i style="left:741px;width:4px;background:linear-gradient(#0006ff 0.5px,#0006ff 27.5px,#0010ff 59.5px,#000cff 76.5px,#000bff 89.5px,#0018ff 111.5px,#002afe 141.5px,#002bfe 154.5px,#0031fe 158.5px,#003dfd 161.5px,#0062fa 167.5px,#006df9 170.5px,#006ef9 172.5px,#0066fa 175.5px,#004bfc 181.5px,#0043fd 185.5px,#0049fc 192.5px,#004ffc 200.5px,#004cfc 207.5px,#0037fe 219.5px,#0025fe 229.5px,#001dff 238.5px,#001eff 248.5px,#002dfe 262.5px,#002dfe 269.5px,#003cfd 279.5px,#0051fc 293.5px,#005efa 307.5px,#006df9 312.5px,#009ff1 322.5px,#00aaee 326.5px,#00adee 329.5px,#0000ff 330.5px,#0000ff 344.5px)"></i>
<i style="left:745px;width:3px;background:linear-gradient(#0009ff 0.5px,#0006ff 26.5px,#0011ff 61.5px,#000dff 75.5px,#000aff 89.5px,#0014ff 108.5px,#002bfe 142.5px,#002dfe 154.5px,#0034fe 158.5px,#0047fc 162.5px,#0068f9 167.5px,#0071f8 169.5px,#0074f8 172.5px,#006bf9 175.5px,#004dfc 181.5px,#0045fd 185.5px,#004cfc 192.5px,#0055fb 201.5px,#0050fc 209.5px,#0029fe 229.5px,#001fff 238.5px,#001fff 249.5px,#0029fe 258.5px,#002cfe 262.5px,#002efe 271.5px,#0050fc 292.5px,#005dfb 306.5px,#0066fa 310.5px,#0081f6 316.5px,#009bf1 321.5px,#00a9ef 325.5px,#00aded 329.5px,#0000ff 330.5px,#0000ff 344.5px)"></i>
<i style="left:748px;width:3px;background:linear-gradient(#000cff 0.5px,#0007ff 29.5px,#0010ff 54.5px,#0012ff 66.5px,#000aff 87.5px,#000dff 100.5px,#002cfe 144.5px,#002efe 154.5px,#0037fe 158.5px,#0044fd 161.5px,#006df9 167.5px,#0079f7 170.5px,#0079f7 172.5px,#0074f8 174.5px,#004ffc 181.5px,#0047fc 184.5px,#0048fc 188.5px,#0057fb 198.5px,#005afb 204.5px,#0052fc 212.5px,#002cfe 230.5px,#0022fe 237.5px,#001fff 247.5px,#0025fe 255.5px,#002cfe 262.5px,#002efe 271.5px,#003cfd 280.5px,#0052fc 294.5px,#005ffa 307.5px,#006ef9 312.5px,#00a0f0 322.5px,#00abee 326.5px,#00aeed 329.5px,#0000ff 330.5px,#0000ff 344.5px)"></i>
<i style="left:751px;width:3px;background:linear-gradient(#0010ff 0.5px,#0009ff 27.5px,#000bff 43.5px,#0013ff 63.5px,#000eff 77.5px,#000aff 90.5px,#000dff 103.5px,#0026fe 135.5px,#002cfe 145.5px,#0031fe 155.5px,#0039fd 158.5px,#0047fc 161.5px,#0071f8 167.5px,#007bf7 169.5px,#007ef7 171.5px,#007bf7 173.5px,#006df9 176.5px,#0050fc 181.5px,#0048fc 184.5px,#004afc 188.5px,#005cfb 199.5px,#005ffa 205.5px,#0058fb 212.5px,#003bfd 225.5px,#0029fe 234.5px,#0021fe 242.5px,#0021fe 251.5px,#002cfe 262.5px,#002dfe 271.5px,#003ffd 282.5px,#0054fb 296.5px,#005ffa 307.5px,#006ef9 312.5px,#009cf1 321.5px,#00a9ee 325.5px,#00aeed 329.5px,#0000ff 330.5px,#0000ff 344.5px)"></i>
</div></div>
<div id="cb"></div>
<svg width="1000" height="600" viewBox="0 0 1000 600">
<g fill="none" stroke="#000" stroke-width="1" shape-rendering="crispEdges">
<rect x="90.5" y="57.5" width="754" height="482"/>
<rect x="863.5" y="57.5" width="37" height="482"/>
</g>
<g fill="#000" shape-rendering="crispEdges">
<rect x="864" y="487" width="6" height="1"/><rect x="894" y="487" width="6" height="1"/>
<rect x="864" y="434" width="6" height="1"/><rect x="894" y="434" width="6" height="1"/>
<rect x="864" y="381" width="6" height="1"/><rect x="894" y="381" width="6" height="1"/>
<rect x="864" y="328" width="6" height="1"/><rect x="894" y="328" width="6" height="1"/>
<rect x="864" y="275" width="6" height="1"/><rect x="894" y="275" width="6" height="1"/>
<rect x="864" y="222" width="6" height="1"/><rect x="894" y="222" width="6" height="1"/>
<rect x="864" y="169" width="6" height="1"/><rect x="894" y="169" width="6" height="1"/>
<rect x="864" y="116" width="6" height="1"/><rect x="894" y="116" width="6" height="1"/>
<rect x="864" y="63" width="6" height="1"/><rect x="894" y="63" width="6" height="1"/>
</g>
<path d="M91 386h155v2h-155zM244 354h2v34h-2zM245 288h2v67h-2zM246 222h2v67h-2zM247 189h2v34h-2zM247 189h62v2h-62zM307 189h2v34h-2zM308 222h2v67h-2zM309 288h2v67h-2zM310 354h2v33h-2zM310 385h314v2h-314zM622 354h2v33h-2zM623 288h2v67h-2zM624 222h2v67h-2zM625 188h2v35h-2zM625 188h13v2h-13zM637 189h50v2h-50zM685 189h2v34h-2zM686 222h2v67h-2zM687 288h2v68h-2zM688 355h2v33h-2zM688 386h154v2h-154zM842 387h2v2h-2zM91 388h1v1h-1zM694 77h52v2h-52z" fill="#fff" shape-rendering="crispEdges"/>
<text x="756.19" y="83.00" textLength="41.17" lengthAdjust="spacingAndGlyphs" style="fill:#fff;stroke:none">0 mV</text>
<text x="318.54" y="32.30" textLength="40.57" lengthAdjust="spacingAndGlyphs">Local</text>
<text x="364.55" y="32.30" textLength="60.43" lengthAdjust="spacingAndGlyphs">Density</text>
<text x="432.16" y="32.30" textLength="15.42" lengthAdjust="spacingAndGlyphs">of</text>
<text x="452.69" y="32.30" textLength="51.14" lengthAdjust="spacingAndGlyphs">States</text>
<text x="510.43" y="32.30" textLength="5.83" lengthAdjust="spacingAndGlyphs">[</text>
<text x="517.46" y="32.30" textLength="26.46" lengthAdjust="spacingAndGlyphs">nm</text>
<text x="546.01" y="26.00" textLength="5.85" lengthAdjust="spacingAndGlyphs" style="font-size:13.2px">-</text>
<text x="551.66" y="27.00" textLength="6.98" lengthAdjust="spacingAndGlyphs" style="font-size:13.2px">1</text>
<text x="567.08" y="32.30" textLength="19.45" lengthAdjust="spacingAndGlyphs">eV</text>
<text x="591.01" y="26.00" textLength="5.85" lengthAdjust="spacingAndGlyphs" style="font-size:13.2px">-</text>
<text x="596.66" y="27.00" textLength="6.98" lengthAdjust="spacingAndGlyphs" style="font-size:13.2px">1</text>
<text x="608.38" y="32.30" textLength="5.98" lengthAdjust="spacingAndGlyphs">]</text>
<text x="49.16" y="99.90" textLength="25.79" lengthAdjust="spacingAndGlyphs">3.5</text>
<text x="49.16" y="155.90" textLength="25.59" lengthAdjust="spacingAndGlyphs">3.4</text>
<text x="49.16" y="211.90" textLength="25.89" lengthAdjust="spacingAndGlyphs">3.3</text>
<text x="49.15" y="267.90" textLength="25.99" lengthAdjust="spacingAndGlyphs">3.2</text>
<text x="49.15" y="323.90" textLength="25.99" lengthAdjust="spacingAndGlyphs">3.1</text>
<text x="63.78" y="379.90" textLength="11.36" lengthAdjust="spacingAndGlyphs">3</text>
<text x="48.96" y="435.90" textLength="26.09" lengthAdjust="spacingAndGlyphs">2.9</text>
<text x="48.97" y="491.90" textLength="25.99" lengthAdjust="spacingAndGlyphs">2.8</text>
<text x="241.26" y="562.90" textLength="10.30" lengthAdjust="spacingAndGlyphs">5</text>
<text x="393.95" y="562.90" textLength="21.58" lengthAdjust="spacingAndGlyphs">10</text>
<text x="551.41" y="562.90" textLength="22.14" lengthAdjust="spacingAndGlyphs">15</text>
<text x="708.84" y="562.90" textLength="21.27" lengthAdjust="spacingAndGlyphs">20</text>
<text x="410.08" y="590.90" textLength="63.33" lengthAdjust="spacingAndGlyphs">Position</text>
<text x="478.90" y="590.90" textLength="5.56" lengthAdjust="spacingAndGlyphs">[</text>
<text x="484.85" y="590.90" textLength="28.78" lengthAdjust="spacingAndGlyphs">nm</text>
<text x="514.17" y="590.90" textLength="6.27" lengthAdjust="spacingAndGlyphs">]</text>
<text x="916.07" y="543.90" textLength="10.19" lengthAdjust="spacingAndGlyphs">0</text>
<text x="915.84" y="491.01" textLength="10.63" lengthAdjust="spacingAndGlyphs">2</text>
<text x="916.37" y="438.12" textLength="9.68" lengthAdjust="spacingAndGlyphs">4</text>
<text x="915.85" y="385.23" textLength="10.52" lengthAdjust="spacingAndGlyphs">6</text>
<text x="915.97" y="332.34" textLength="10.30" lengthAdjust="spacingAndGlyphs">8</text>
<text x="916.28" y="279.46" textLength="21.02" lengthAdjust="spacingAndGlyphs">10</text>
<text x="916.27" y="226.57" textLength="21.23" lengthAdjust="spacingAndGlyphs">12</text>
<text x="916.30" y="173.68" textLength="20.81" lengthAdjust="spacingAndGlyphs">14</text>
<text x="916.28" y="120.79" textLength="21.12" lengthAdjust="spacingAndGlyphs">16</text>
<text x="916.28" y="67.90" textLength="21.02" lengthAdjust="spacingAndGlyphs">18</text>
<g transform="translate(20,346.2) rotate(-90)">
<text x="-1.12" y="0.00" textLength="56.39" lengthAdjust="spacingAndGlyphs">Energy</text>
<text x="61.80" y="0.00" textLength="5.56" lengthAdjust="spacingAndGlyphs">[</text>
<text x="68.58" y="0.00" textLength="19.55" lengthAdjust="spacingAndGlyphs">eV</text>
<text x="89.78" y="0.00" textLength="5.98" lengthAdjust="spacingAndGlyphs">]</text>
</g>
</svg>
</body></html>
